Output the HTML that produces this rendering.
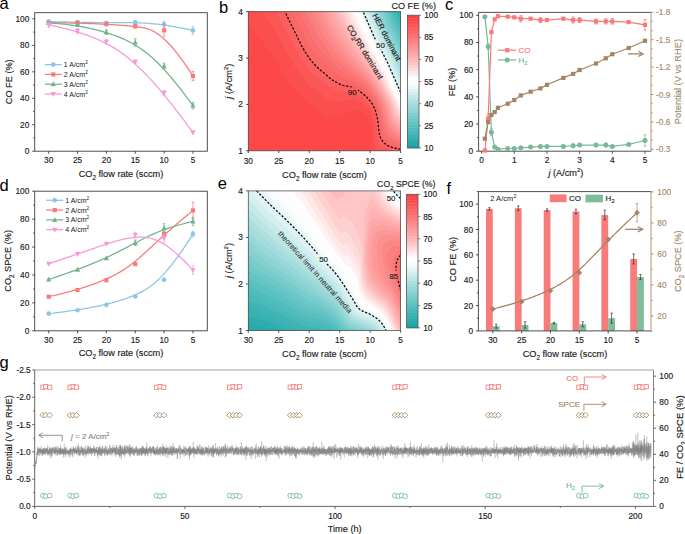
<!DOCTYPE html>
<html><head><meta charset="utf-8"><style>
html,body{margin:0;padding:0;background:#fff;overflow:hidden;}
svg{display:block;font-family:"Liberation Sans", sans-serif;}
text{stroke-width:0.15px;}
</style></head><body>
<svg width="685" height="534" viewBox="0 0 685 534" font-family='"Liberation Sans", sans-serif'>
<defs><clipPath id="cb"><rect x="248.3" y="11.7" width="152.3" height="139.1"/></clipPath><mask id="mcb" maskUnits="userSpaceOnUse" x="0" y="0" width="685" height="534"><rect width="685" height="534" fill="#fff"/><rect x="346.5" y="87.5" width="11.5" height="9" fill="#000"/><rect x="374.5" y="39.5" width="10.5" height="10" fill="#000"/></mask><clipPath id="ce"><rect x="248.3" y="190.9" width="152.3" height="139.6"/></clipPath><mask id="mce" maskUnits="userSpaceOnUse" x="0" y="0" width="685" height="534"><rect width="685" height="534" fill="#fff"/><rect x="317.5" y="253" width="12" height="10" fill="#000"/><rect x="386" y="193.5" width="10" height="8" fill="#000"/><rect x="388.5" y="270.5" width="10.5" height="9" fill="#000"/></mask></defs>
<rect width="685" height="534" fill="#fff"/>
<rect x="34.7" y="12.7" width="172.6" height="138.5" fill="none" stroke="#3c3c3c" stroke-width="0.9"/>
<line x1="32.2" y1="151.2" x2="34.7" y2="151.2" stroke="#3c3c3c" stroke-width="0.9"/>
<text x="29.3" y="154.2" font-size="8.3" text-anchor="end" fill="#222" stroke="#222">0</text>
<line x1="32.2" y1="124.74" x2="34.7" y2="124.74" stroke="#3c3c3c" stroke-width="0.9"/>
<text x="29.3" y="127.74" font-size="8.3" text-anchor="end" fill="#222" stroke="#222">20</text>
<line x1="32.2" y1="98.28" x2="34.7" y2="98.28" stroke="#3c3c3c" stroke-width="0.9"/>
<text x="29.3" y="101.28" font-size="8.3" text-anchor="end" fill="#222" stroke="#222">40</text>
<line x1="32.2" y1="71.82" x2="34.7" y2="71.82" stroke="#3c3c3c" stroke-width="0.9"/>
<text x="29.3" y="74.82" font-size="8.3" text-anchor="end" fill="#222" stroke="#222">60</text>
<line x1="32.2" y1="45.36" x2="34.7" y2="45.36" stroke="#3c3c3c" stroke-width="0.9"/>
<text x="29.3" y="48.36" font-size="8.3" text-anchor="end" fill="#222" stroke="#222">80</text>
<line x1="32.2" y1="18.9" x2="34.7" y2="18.9" stroke="#3c3c3c" stroke-width="0.9"/>
<text x="29.3" y="21.9" font-size="8.3" text-anchor="end" fill="#222" stroke="#222">100</text>
<line x1="33.2" y1="137.97" x2="34.7" y2="137.97" stroke="#3c3c3c" stroke-width="0.9"/>
<line x1="33.2" y1="111.51" x2="34.7" y2="111.51" stroke="#3c3c3c" stroke-width="0.9"/>
<line x1="33.2" y1="85.05" x2="34.7" y2="85.05" stroke="#3c3c3c" stroke-width="0.9"/>
<line x1="33.2" y1="58.59" x2="34.7" y2="58.59" stroke="#3c3c3c" stroke-width="0.9"/>
<line x1="33.2" y1="32.13" x2="34.7" y2="32.13" stroke="#3c3c3c" stroke-width="0.9"/>
<line x1="48.7" y1="151.2" x2="48.7" y2="153.7" stroke="#3c3c3c" stroke-width="0.9"/>
<text x="48.7" y="163.1" font-size="8.3" text-anchor="middle" fill="#222" stroke="#222">30</text>
<line x1="77.55" y1="151.2" x2="77.55" y2="153.7" stroke="#3c3c3c" stroke-width="0.9"/>
<text x="77.55" y="163.1" font-size="8.3" text-anchor="middle" fill="#222" stroke="#222">25</text>
<line x1="106.4" y1="151.2" x2="106.4" y2="153.7" stroke="#3c3c3c" stroke-width="0.9"/>
<text x="106.4" y="163.1" font-size="8.3" text-anchor="middle" fill="#222" stroke="#222">20</text>
<line x1="135.25" y1="151.2" x2="135.25" y2="153.7" stroke="#3c3c3c" stroke-width="0.9"/>
<text x="135.25" y="163.1" font-size="8.3" text-anchor="middle" fill="#222" stroke="#222">15</text>
<line x1="164.1" y1="151.2" x2="164.1" y2="153.7" stroke="#3c3c3c" stroke-width="0.9"/>
<text x="164.1" y="163.1" font-size="8.3" text-anchor="middle" fill="#222" stroke="#222">10</text>
<line x1="192.95" y1="151.2" x2="192.95" y2="153.7" stroke="#3c3c3c" stroke-width="0.9"/>
<text x="192.95" y="163.1" font-size="8.3" text-anchor="middle" fill="#222" stroke="#222">5</text>
<path d="M48.7 21.55 L51.92 21.62 L55.03 21.69 L58.02 21.76 L60.89 21.82 L63.66 21.89 L66.32 21.95 L68.87 22 L71.34 22.06 L73.71 22.11 L75.98 22.16 L78.18 22.21 L80.29 22.25 L82.33 22.29 L84.29 22.33 L86.18 22.36 L88.01 22.4 L89.77 22.43 L91.48 22.46 L93.13 22.48 L94.74 22.51 L96.3 22.53 L97.81 22.54 L99.29 22.56 L100.74 22.57 L102.15 22.58 L103.54 22.59 L104.9 22.6 L106.25 22.6 L107.58 22.6 L108.89 22.6 L110.19 22.6 L111.47 22.6 L112.74 22.6 L114 22.59 L115.25 22.59 L116.5 22.59 L117.74 22.58 L118.98 22.58 L120.21 22.58 L121.44 22.58 L122.67 22.58 L123.91 22.58 L125.15 22.59 L126.4 22.6 L127.65 22.61 L128.91 22.62 L130.18 22.64 L131.46 22.66 L132.76 22.69 L134.07 22.71 L135.4 22.75 L136.75 22.79 L138.11 22.83 L139.5 22.88 L140.91 22.93 L142.36 23 L143.84 23.07 L145.35 23.16 L146.91 23.26 L148.52 23.38 L150.17 23.51 L151.88 23.66 L153.64 23.83 L155.47 24.02 L157.36 24.23 L159.32 24.47 L161.36 24.73 L163.47 25.02 L165.67 25.33 L167.94 25.68 L170.31 26.06 L172.78 26.47 L175.33 26.92 L177.99 27.4 L180.76 27.92 L183.63 28.48 L186.62 29.08 L189.73 29.72 L192.95 30.41" fill="none" stroke="#8cc6e6" stroke-width="1.25" stroke-linejoin="round"/>
<line x1="48.7" y1="19.96" x2="48.7" y2="23.13" stroke="#8cc6e6" stroke-width="0.75"/>
<line x1="47.3" y1="19.96" x2="50.1" y2="19.96" stroke="#8cc6e6" stroke-width="0.75"/>
<line x1="47.3" y1="23.13" x2="50.1" y2="23.13" stroke="#8cc6e6" stroke-width="0.75"/>
<circle cx="48.7" cy="21.55" r="2.3" fill="#8cc6e6"/>
<line x1="77.55" y1="20.62" x2="77.55" y2="23.8" stroke="#8cc6e6" stroke-width="0.75"/>
<line x1="76.15" y1="20.62" x2="78.95" y2="20.62" stroke="#8cc6e6" stroke-width="0.75"/>
<line x1="76.15" y1="23.8" x2="78.95" y2="23.8" stroke="#8cc6e6" stroke-width="0.75"/>
<circle cx="77.55" cy="22.21" r="2.3" fill="#8cc6e6"/>
<line x1="106.4" y1="21.55" x2="106.4" y2="24.19" stroke="#8cc6e6" stroke-width="0.75"/>
<line x1="105" y1="21.55" x2="107.8" y2="21.55" stroke="#8cc6e6" stroke-width="0.75"/>
<line x1="105" y1="24.19" x2="107.8" y2="24.19" stroke="#8cc6e6" stroke-width="0.75"/>
<circle cx="106.4" cy="22.87" r="2.3" fill="#8cc6e6"/>
<line x1="135.25" y1="20.62" x2="135.25" y2="23.8" stroke="#8cc6e6" stroke-width="0.75"/>
<line x1="133.85" y1="20.62" x2="136.65" y2="20.62" stroke="#8cc6e6" stroke-width="0.75"/>
<line x1="133.85" y1="23.8" x2="136.65" y2="23.8" stroke="#8cc6e6" stroke-width="0.75"/>
<circle cx="135.25" cy="22.21" r="2.3" fill="#8cc6e6"/>
<line x1="164.1" y1="21.28" x2="164.1" y2="27.1" stroke="#8cc6e6" stroke-width="0.75"/>
<line x1="162.7" y1="21.28" x2="165.5" y2="21.28" stroke="#8cc6e6" stroke-width="0.75"/>
<line x1="162.7" y1="27.1" x2="165.5" y2="27.1" stroke="#8cc6e6" stroke-width="0.75"/>
<circle cx="164.1" cy="24.19" r="2.3" fill="#8cc6e6"/>
<line x1="192.95" y1="26.44" x2="192.95" y2="34.38" stroke="#8cc6e6" stroke-width="0.75"/>
<line x1="191.55" y1="26.44" x2="194.35" y2="26.44" stroke="#8cc6e6" stroke-width="0.75"/>
<line x1="191.55" y1="34.38" x2="194.35" y2="34.38" stroke="#8cc6e6" stroke-width="0.75"/>
<circle cx="192.95" cy="30.41" r="2.3" fill="#8cc6e6"/>
<path d="M48.7 22.87 L51.92 22.87 L55.03 22.88 L58.02 22.89 L60.89 22.91 L63.66 22.94 L66.32 22.96 L68.87 23 L71.34 23.03 L73.71 23.07 L75.98 23.12 L78.18 23.17 L80.29 23.22 L82.33 23.27 L84.29 23.33 L86.18 23.39 L88.01 23.45 L89.77 23.52 L91.48 23.58 L93.13 23.65 L94.74 23.72 L96.3 23.8 L97.81 23.87 L99.29 23.94 L100.74 24.02 L102.15 24.09 L103.54 24.17 L104.9 24.24 L106.25 24.32 L107.58 24.39 L108.89 24.47 L110.19 24.55 L111.47 24.63 L112.74 24.71 L114 24.79 L115.25 24.87 L116.5 24.95 L117.74 25.04 L118.98 25.13 L120.21 25.22 L121.44 25.32 L122.67 25.42 L123.91 25.52 L125.15 25.62 L126.4 25.73 L127.65 25.85 L128.91 25.96 L130.18 26.09 L131.46 26.21 L132.76 26.34 L134.07 26.48 L135.4 26.62 L136.75 26.77 L138.11 26.92 L139.5 27.09 L140.91 27.28 L142.36 27.51 L143.84 27.79 L145.35 28.14 L146.91 28.57 L148.52 29.09 L150.17 29.73 L151.88 30.49 L153.64 31.39 L155.47 32.44 L157.36 33.65 L159.32 35.05 L161.36 36.64 L163.47 38.44 L165.67 40.46 L167.94 42.72 L170.31 45.23 L172.78 48.01 L175.33 51.06 L177.99 54.41 L180.76 58.07 L183.63 62.05 L186.62 66.36 L189.73 71.03 L192.95 76.05" fill="none" stroke="#f87a7a" stroke-width="1.25" stroke-linejoin="round"/>
<line x1="48.7" y1="21.55" x2="48.7" y2="24.19" stroke="#f87a7a" stroke-width="0.75"/>
<line x1="47.3" y1="21.55" x2="50.1" y2="21.55" stroke="#f87a7a" stroke-width="0.75"/>
<line x1="47.3" y1="24.19" x2="50.1" y2="24.19" stroke="#f87a7a" stroke-width="0.75"/>
<rect x="46.6" y="20.77" width="4.2" height="4.2" fill="#f87a7a"/>
<line x1="77.55" y1="21.28" x2="77.55" y2="24.46" stroke="#f87a7a" stroke-width="0.75"/>
<line x1="76.15" y1="21.28" x2="78.95" y2="21.28" stroke="#f87a7a" stroke-width="0.75"/>
<line x1="76.15" y1="24.46" x2="78.95" y2="24.46" stroke="#f87a7a" stroke-width="0.75"/>
<rect x="75.45" y="20.77" width="4.2" height="4.2" fill="#f87a7a"/>
<line x1="106.4" y1="22.87" x2="106.4" y2="25.51" stroke="#f87a7a" stroke-width="0.75"/>
<line x1="105" y1="22.87" x2="107.8" y2="22.87" stroke="#f87a7a" stroke-width="0.75"/>
<line x1="105" y1="25.51" x2="107.8" y2="25.51" stroke="#f87a7a" stroke-width="0.75"/>
<rect x="104.3" y="22.09" width="4.2" height="4.2" fill="#f87a7a"/>
<line x1="135.25" y1="24.19" x2="135.25" y2="28.16" stroke="#f87a7a" stroke-width="0.75"/>
<line x1="133.85" y1="24.19" x2="136.65" y2="24.19" stroke="#f87a7a" stroke-width="0.75"/>
<line x1="133.85" y1="28.16" x2="136.65" y2="28.16" stroke="#f87a7a" stroke-width="0.75"/>
<rect x="133.15" y="24.08" width="4.2" height="4.2" fill="#f87a7a"/>
<line x1="164.1" y1="24.32" x2="164.1" y2="36.23" stroke="#f87a7a" stroke-width="0.75"/>
<line x1="162.7" y1="24.32" x2="165.5" y2="24.32" stroke="#f87a7a" stroke-width="0.75"/>
<line x1="162.7" y1="36.23" x2="165.5" y2="36.23" stroke="#f87a7a" stroke-width="0.75"/>
<rect x="162" y="28.18" width="4.2" height="4.2" fill="#f87a7a"/>
<line x1="192.95" y1="71.42" x2="192.95" y2="80.68" stroke="#f87a7a" stroke-width="0.75"/>
<line x1="191.55" y1="71.42" x2="194.35" y2="71.42" stroke="#f87a7a" stroke-width="0.75"/>
<line x1="191.55" y1="80.68" x2="194.35" y2="80.68" stroke="#f87a7a" stroke-width="0.75"/>
<rect x="190.85" y="73.95" width="4.2" height="4.2" fill="#f87a7a"/>
<path d="M48.7 22.87 L51.92 23.1 L55.03 23.35 L58.02 23.61 L60.89 23.88 L63.66 24.17 L66.32 24.46 L68.87 24.77 L71.34 25.09 L73.71 25.41 L75.98 25.75 L78.18 26.09 L80.29 26.45 L82.33 26.81 L84.29 27.17 L86.18 27.55 L88.01 27.92 L89.77 28.31 L91.48 28.7 L93.13 29.09 L94.74 29.48 L96.3 29.88 L97.81 30.28 L99.29 30.69 L100.74 31.09 L102.15 31.49 L103.54 31.9 L104.9 32.3 L106.25 32.7 L107.58 33.11 L108.89 33.51 L110.19 33.93 L111.47 34.34 L112.74 34.77 L114 35.2 L115.25 35.65 L116.5 36.1 L117.74 36.57 L118.98 37.05 L120.21 37.55 L121.44 38.06 L122.67 38.59 L123.91 39.15 L125.15 39.72 L126.4 40.32 L127.65 40.94 L128.91 41.59 L130.18 42.26 L131.46 42.96 L132.76 43.69 L134.07 44.45 L135.4 45.25 L136.75 46.08 L138.11 46.94 L139.5 47.85 L140.91 48.8 L142.36 49.8 L143.84 50.87 L145.35 52 L146.91 53.22 L148.52 54.52 L150.17 55.91 L151.88 57.4 L153.64 59 L155.47 60.71 L157.36 62.55 L159.32 64.52 L161.36 66.63 L163.47 68.89 L165.67 71.29 L167.94 73.87 L170.31 76.61 L172.78 79.52 L175.33 82.63 L177.99 85.92 L180.76 89.42 L183.63 93.12 L186.62 97.04 L189.73 101.18 L192.95 105.56" fill="none" stroke="#72b38e" stroke-width="1.25" stroke-linejoin="round"/>
<line x1="48.7" y1="21.55" x2="48.7" y2="24.19" stroke="#72b38e" stroke-width="0.75"/>
<line x1="47.3" y1="21.55" x2="50.1" y2="21.55" stroke="#72b38e" stroke-width="0.75"/>
<line x1="47.3" y1="24.19" x2="50.1" y2="24.19" stroke="#72b38e" stroke-width="0.75"/>
<path d="M48.7 19.87 L51.29 24.9 L46.12 24.9Z" fill="#72b38e"/>
<line x1="77.55" y1="23.53" x2="77.55" y2="26.18" stroke="#72b38e" stroke-width="0.75"/>
<line x1="76.15" y1="23.53" x2="78.95" y2="23.53" stroke="#72b38e" stroke-width="0.75"/>
<line x1="76.15" y1="26.18" x2="78.95" y2="26.18" stroke="#72b38e" stroke-width="0.75"/>
<path d="M77.55 21.85 L80.13 26.88 L74.97 26.88Z" fill="#72b38e"/>
<line x1="106.4" y1="29.75" x2="106.4" y2="34.51" stroke="#72b38e" stroke-width="0.75"/>
<line x1="105" y1="29.75" x2="107.8" y2="29.75" stroke="#72b38e" stroke-width="0.75"/>
<line x1="105" y1="34.51" x2="107.8" y2="34.51" stroke="#72b38e" stroke-width="0.75"/>
<path d="M106.4 29.13 L108.98 34.16 L103.82 34.16Z" fill="#72b38e"/>
<line x1="135.25" y1="38.74" x2="135.25" y2="46.15" stroke="#72b38e" stroke-width="0.75"/>
<line x1="133.85" y1="38.74" x2="136.65" y2="38.74" stroke="#72b38e" stroke-width="0.75"/>
<line x1="133.85" y1="46.15" x2="136.65" y2="46.15" stroke="#72b38e" stroke-width="0.75"/>
<path d="M135.25 39.45 L137.84 44.48 L132.66 44.48Z" fill="#72b38e"/>
<line x1="164.1" y1="63.22" x2="164.1" y2="69.04" stroke="#72b38e" stroke-width="0.75"/>
<line x1="162.7" y1="63.22" x2="165.5" y2="63.22" stroke="#72b38e" stroke-width="0.75"/>
<line x1="162.7" y1="69.04" x2="165.5" y2="69.04" stroke="#72b38e" stroke-width="0.75"/>
<path d="M164.1 63.13 L166.69 68.16 L161.51 68.16Z" fill="#72b38e"/>
<line x1="192.95" y1="102.25" x2="192.95" y2="108.86" stroke="#72b38e" stroke-width="0.75"/>
<line x1="191.55" y1="102.25" x2="194.35" y2="102.25" stroke="#72b38e" stroke-width="0.75"/>
<line x1="191.55" y1="108.86" x2="194.35" y2="108.86" stroke="#72b38e" stroke-width="0.75"/>
<path d="M192.95 102.55 L195.53 107.58 L190.36 107.58Z" fill="#72b38e"/>
<path d="M48.7 24.72 L51.92 25.44 L55.03 26.15 L58.02 26.85 L60.89 27.55 L63.66 28.24 L66.32 28.92 L68.87 29.59 L71.34 30.27 L73.71 30.93 L75.98 31.59 L78.18 32.25 L80.29 32.91 L82.33 33.56 L84.29 34.22 L86.18 34.87 L88.01 35.52 L89.77 36.17 L91.48 36.82 L93.13 37.48 L94.74 38.13 L96.3 38.79 L97.81 39.45 L99.29 40.11 L100.74 40.78 L102.15 41.46 L103.54 42.13 L104.9 42.82 L106.25 43.51 L107.58 44.21 L108.89 44.92 L110.19 45.64 L111.47 46.37 L112.74 47.11 L114 47.87 L115.25 48.65 L116.5 49.44 L117.74 50.25 L118.98 51.08 L120.21 51.93 L121.44 52.8 L122.67 53.69 L123.91 54.61 L125.15 55.56 L126.4 56.53 L127.65 57.53 L128.91 58.55 L130.18 59.61 L131.46 60.7 L132.76 61.83 L134.07 62.99 L135.4 64.18 L136.75 65.41 L138.11 66.68 L139.5 67.99 L140.91 69.35 L142.36 70.76 L143.84 72.23 L145.35 73.76 L146.91 75.37 L148.52 77.06 L150.17 78.83 L151.88 80.69 L153.64 82.65 L155.47 84.72 L157.36 86.89 L159.32 89.18 L161.36 91.6 L163.47 94.14 L165.67 96.82 L167.94 99.64 L170.31 102.6 L172.78 105.73 L175.33 109.01 L177.99 112.45 L180.76 116.08 L183.63 119.88 L186.62 123.86 L189.73 128.04 L192.95 132.41" fill="none" stroke="#f59ad6" stroke-width="1.25" stroke-linejoin="round"/>
<line x1="48.7" y1="22.08" x2="48.7" y2="27.37" stroke="#f59ad6" stroke-width="0.75"/>
<line x1="47.3" y1="22.08" x2="50.1" y2="22.08" stroke="#f59ad6" stroke-width="0.75"/>
<line x1="47.3" y1="27.37" x2="50.1" y2="27.37" stroke="#f59ad6" stroke-width="0.75"/>
<path d="M48.7 27.72 L51.29 22.69 L46.12 22.69Z" fill="#f59ad6"/>
<line x1="77.55" y1="28.43" x2="77.55" y2="33.72" stroke="#f59ad6" stroke-width="0.75"/>
<line x1="76.15" y1="28.43" x2="78.95" y2="28.43" stroke="#f59ad6" stroke-width="0.75"/>
<line x1="76.15" y1="33.72" x2="78.95" y2="33.72" stroke="#f59ad6" stroke-width="0.75"/>
<path d="M77.55 34.07 L80.13 29.04 L74.97 29.04Z" fill="#f59ad6"/>
<line x1="106.4" y1="39.27" x2="106.4" y2="44.04" stroke="#f59ad6" stroke-width="0.75"/>
<line x1="105" y1="39.27" x2="107.8" y2="39.27" stroke="#f59ad6" stroke-width="0.75"/>
<line x1="105" y1="44.04" x2="107.8" y2="44.04" stroke="#f59ad6" stroke-width="0.75"/>
<path d="M106.4 44.66 L108.98 39.63 L103.82 39.63Z" fill="#f59ad6"/>
<line x1="135.25" y1="60.18" x2="135.25" y2="63.35" stroke="#f59ad6" stroke-width="0.75"/>
<line x1="133.85" y1="60.18" x2="136.65" y2="60.18" stroke="#f59ad6" stroke-width="0.75"/>
<line x1="133.85" y1="63.35" x2="136.65" y2="63.35" stroke="#f59ad6" stroke-width="0.75"/>
<path d="M135.25 64.77 L137.84 59.74 L132.66 59.74Z" fill="#f59ad6"/>
<line x1="164.1" y1="90.47" x2="164.1" y2="95.77" stroke="#f59ad6" stroke-width="0.75"/>
<line x1="162.7" y1="90.47" x2="165.5" y2="90.47" stroke="#f59ad6" stroke-width="0.75"/>
<line x1="162.7" y1="95.77" x2="165.5" y2="95.77" stroke="#f59ad6" stroke-width="0.75"/>
<path d="M164.1 96.12 L166.69 91.09 L161.51 91.09Z" fill="#f59ad6"/>
<line x1="192.95" y1="131.09" x2="192.95" y2="133.74" stroke="#f59ad6" stroke-width="0.75"/>
<line x1="191.55" y1="131.09" x2="194.35" y2="131.09" stroke="#f59ad6" stroke-width="0.75"/>
<line x1="191.55" y1="133.74" x2="194.35" y2="133.74" stroke="#f59ad6" stroke-width="0.75"/>
<path d="M192.95 135.42 L195.53 130.39 L190.36 130.39Z" fill="#f59ad6"/>
<line x1="44.8" y1="64.6" x2="61.8" y2="64.6" stroke="#8cc6e6" stroke-width="1.25"/>
<circle cx="53.3" cy="64.6" r="2.3" fill="#8cc6e6"/>
<text x="63.8" y="67.1" font-size="7" fill="#1a1a1a">1 A/cm<tspan font-size="4.8" dy="-3">2</tspan></text>
<line x1="44.8" y1="74.4" x2="61.8" y2="74.4" stroke="#f87a7a" stroke-width="1.25"/>
<rect x="51.2" y="72.3" width="4.2" height="4.2" fill="#f87a7a"/>
<text x="63.8" y="76.9" font-size="7" fill="#1a1a1a">2 A/cm<tspan font-size="4.8" dy="-3">2</tspan></text>
<line x1="44.8" y1="84.2" x2="61.8" y2="84.2" stroke="#72b38e" stroke-width="1.25"/>
<path d="M53.3 81.2 L55.88 86.23 L50.71 86.23Z" fill="#72b38e"/>
<text x="63.8" y="86.7" font-size="7" fill="#1a1a1a">3 A/cm<tspan font-size="4.8" dy="-3">2</tspan></text>
<line x1="44.8" y1="94" x2="61.8" y2="94" stroke="#f59ad6" stroke-width="1.25"/>
<path d="M53.3 97 L55.88 91.97 L50.71 91.97Z" fill="#f59ad6"/>
<text x="63.8" y="96.5" font-size="7" fill="#1a1a1a">4 A/cm<tspan font-size="4.8" dy="-3">2</tspan></text>
<text x="11.9" y="81.8" font-size="9.2" text-anchor="middle" fill="#1a1a1a" transform="rotate(-90 11.9 81.8)" stroke="#1a1a1a">CO FE (%)</text>
<text x="121" y="177.2" font-size="9.2" text-anchor="middle" fill="#1a1a1a" stroke="#1a1a1a">CO<tspan font-size="6.3" dy="2.9">2</tspan><tspan dy="-2.9"> flow rate (sccm)</tspan></text>
<text x="-0.4" y="9" font-size="16.5" fill="#000" stroke="none">a</text>
<rect x="34.7" y="191.2" width="172.6" height="139.6" fill="none" stroke="#3c3c3c" stroke-width="0.9"/>
<line x1="32.2" y1="330.8" x2="34.7" y2="330.8" stroke="#3c3c3c" stroke-width="0.9"/>
<text x="29.3" y="333.8" font-size="8.3" text-anchor="end" fill="#222" stroke="#222">0</text>
<line x1="32.2" y1="302.88" x2="34.7" y2="302.88" stroke="#3c3c3c" stroke-width="0.9"/>
<text x="29.3" y="305.88" font-size="8.3" text-anchor="end" fill="#222" stroke="#222">20</text>
<line x1="32.2" y1="274.96" x2="34.7" y2="274.96" stroke="#3c3c3c" stroke-width="0.9"/>
<text x="29.3" y="277.96" font-size="8.3" text-anchor="end" fill="#222" stroke="#222">40</text>
<line x1="32.2" y1="247.04" x2="34.7" y2="247.04" stroke="#3c3c3c" stroke-width="0.9"/>
<text x="29.3" y="250.04" font-size="8.3" text-anchor="end" fill="#222" stroke="#222">60</text>
<line x1="32.2" y1="219.12" x2="34.7" y2="219.12" stroke="#3c3c3c" stroke-width="0.9"/>
<text x="29.3" y="222.12" font-size="8.3" text-anchor="end" fill="#222" stroke="#222">80</text>
<line x1="32.2" y1="191.2" x2="34.7" y2="191.2" stroke="#3c3c3c" stroke-width="0.9"/>
<text x="29.3" y="194.2" font-size="8.3" text-anchor="end" fill="#222" stroke="#222">100</text>
<line x1="33.2" y1="316.84" x2="34.7" y2="316.84" stroke="#3c3c3c" stroke-width="0.9"/>
<line x1="33.2" y1="288.92" x2="34.7" y2="288.92" stroke="#3c3c3c" stroke-width="0.9"/>
<line x1="33.2" y1="261" x2="34.7" y2="261" stroke="#3c3c3c" stroke-width="0.9"/>
<line x1="33.2" y1="233.08" x2="34.7" y2="233.08" stroke="#3c3c3c" stroke-width="0.9"/>
<line x1="33.2" y1="205.16" x2="34.7" y2="205.16" stroke="#3c3c3c" stroke-width="0.9"/>
<line x1="48.7" y1="330.8" x2="48.7" y2="333.3" stroke="#3c3c3c" stroke-width="0.9"/>
<text x="48.7" y="342.7" font-size="8.3" text-anchor="middle" fill="#222" stroke="#222">30</text>
<line x1="77.55" y1="330.8" x2="77.55" y2="333.3" stroke="#3c3c3c" stroke-width="0.9"/>
<text x="77.55" y="342.7" font-size="8.3" text-anchor="middle" fill="#222" stroke="#222">25</text>
<line x1="106.4" y1="330.8" x2="106.4" y2="333.3" stroke="#3c3c3c" stroke-width="0.9"/>
<text x="106.4" y="342.7" font-size="8.3" text-anchor="middle" fill="#222" stroke="#222">20</text>
<line x1="135.25" y1="330.8" x2="135.25" y2="333.3" stroke="#3c3c3c" stroke-width="0.9"/>
<text x="135.25" y="342.7" font-size="8.3" text-anchor="middle" fill="#222" stroke="#222">15</text>
<line x1="164.1" y1="330.8" x2="164.1" y2="333.3" stroke="#3c3c3c" stroke-width="0.9"/>
<text x="164.1" y="342.7" font-size="8.3" text-anchor="middle" fill="#222" stroke="#222">10</text>
<line x1="192.95" y1="330.8" x2="192.95" y2="333.3" stroke="#3c3c3c" stroke-width="0.9"/>
<text x="192.95" y="342.7" font-size="8.3" text-anchor="middle" fill="#222" stroke="#222">5</text>
<path d="M48.7 313.63 L51.92 313.25 L55.03 312.88 L58.02 312.51 L60.89 312.14 L63.66 311.78 L66.32 311.43 L68.87 311.08 L71.34 310.73 L73.71 310.39 L75.98 310.05 L78.18 309.71 L80.29 309.38 L82.33 309.05 L84.29 308.72 L86.18 308.39 L88.01 308.07 L89.77 307.75 L91.48 307.43 L93.13 307.11 L94.74 306.79 L96.3 306.48 L97.81 306.16 L99.29 305.85 L100.74 305.53 L102.15 305.22 L103.54 304.9 L104.9 304.59 L106.25 304.27 L107.58 303.96 L108.89 303.64 L110.19 303.32 L111.47 302.99 L112.74 302.65 L114 302.32 L115.25 301.97 L116.5 301.61 L117.74 301.25 L118.98 300.88 L120.21 300.49 L121.44 300.1 L122.67 299.69 L123.91 299.27 L125.15 298.83 L126.4 298.38 L127.65 297.91 L128.91 297.43 L130.18 296.93 L131.46 296.41 L132.76 295.87 L134.07 295.31 L135.4 294.72 L136.75 294.12 L138.11 293.49 L139.5 292.83 L140.91 292.14 L142.36 291.39 L143.84 290.58 L145.35 289.7 L146.91 288.74 L148.52 287.67 L150.17 286.5 L151.88 285.22 L153.64 283.8 L155.47 282.24 L157.36 280.52 L159.32 278.64 L161.36 276.59 L163.47 274.35 L165.67 271.91 L167.94 269.26 L170.31 266.38 L172.78 263.28 L175.33 259.93 L177.99 256.32 L180.76 252.45 L183.63 248.3 L186.62 243.86 L189.73 239.11 L192.95 234.06" fill="none" stroke="#8cc6e6" stroke-width="1.25" stroke-linejoin="round"/>
<line x1="48.7" y1="312.93" x2="48.7" y2="314.33" stroke="#8cc6e6" stroke-width="0.75"/>
<line x1="47.3" y1="312.93" x2="50.1" y2="312.93" stroke="#8cc6e6" stroke-width="0.75"/>
<line x1="47.3" y1="314.33" x2="50.1" y2="314.33" stroke="#8cc6e6" stroke-width="0.75"/>
<circle cx="48.7" cy="313.63" r="2.3" fill="#8cc6e6"/>
<line x1="77.55" y1="309.58" x2="77.55" y2="310.98" stroke="#8cc6e6" stroke-width="0.75"/>
<line x1="76.15" y1="309.58" x2="78.95" y2="309.58" stroke="#8cc6e6" stroke-width="0.75"/>
<line x1="76.15" y1="310.98" x2="78.95" y2="310.98" stroke="#8cc6e6" stroke-width="0.75"/>
<circle cx="77.55" cy="310.28" r="2.3" fill="#8cc6e6"/>
<line x1="106.4" y1="304.14" x2="106.4" y2="305.53" stroke="#8cc6e6" stroke-width="0.75"/>
<line x1="105" y1="304.14" x2="107.8" y2="304.14" stroke="#8cc6e6" stroke-width="0.75"/>
<line x1="105" y1="305.53" x2="107.8" y2="305.53" stroke="#8cc6e6" stroke-width="0.75"/>
<circle cx="106.4" cy="304.83" r="2.3" fill="#8cc6e6"/>
<line x1="135.25" y1="295.76" x2="135.25" y2="297.16" stroke="#8cc6e6" stroke-width="0.75"/>
<line x1="133.85" y1="295.76" x2="136.65" y2="295.76" stroke="#8cc6e6" stroke-width="0.75"/>
<line x1="133.85" y1="297.16" x2="136.65" y2="297.16" stroke="#8cc6e6" stroke-width="0.75"/>
<circle cx="135.25" cy="296.46" r="2.3" fill="#8cc6e6"/>
<line x1="164.1" y1="279.15" x2="164.1" y2="280.54" stroke="#8cc6e6" stroke-width="0.75"/>
<line x1="162.7" y1="279.15" x2="165.5" y2="279.15" stroke="#8cc6e6" stroke-width="0.75"/>
<line x1="162.7" y1="280.54" x2="165.5" y2="280.54" stroke="#8cc6e6" stroke-width="0.75"/>
<circle cx="164.1" cy="279.85" r="2.3" fill="#8cc6e6"/>
<line x1="192.95" y1="231.27" x2="192.95" y2="236.85" stroke="#8cc6e6" stroke-width="0.75"/>
<line x1="191.55" y1="231.27" x2="194.35" y2="231.27" stroke="#8cc6e6" stroke-width="0.75"/>
<line x1="191.55" y1="236.85" x2="194.35" y2="236.85" stroke="#8cc6e6" stroke-width="0.75"/>
<circle cx="192.95" cy="234.06" r="2.3" fill="#8cc6e6"/>
<path d="M48.7 296.74 L51.92 295.98 L55.03 295.24 L58.02 294.52 L60.89 293.8 L63.66 293.1 L66.32 292.42 L68.87 291.74 L71.34 291.07 L73.71 290.42 L75.98 289.78 L78.18 289.14 L80.29 288.51 L82.33 287.89 L84.29 287.28 L86.18 286.67 L88.01 286.07 L89.77 285.47 L91.48 284.88 L93.13 284.29 L94.74 283.7 L96.3 283.12 L97.81 282.54 L99.29 281.95 L100.74 281.37 L102.15 280.79 L103.54 280.2 L104.9 279.62 L106.25 279.03 L107.58 278.43 L108.89 277.83 L110.19 277.23 L111.47 276.61 L112.74 275.98 L114 275.34 L115.25 274.69 L116.5 274.02 L117.74 273.33 L118.98 272.63 L120.21 271.9 L121.44 271.16 L122.67 270.39 L123.91 269.6 L125.15 268.78 L126.4 267.94 L127.65 267.07 L128.91 266.17 L130.18 265.23 L131.46 264.26 L132.76 263.26 L134.07 262.22 L135.4 261.15 L136.75 260.03 L138.11 258.88 L139.5 257.68 L140.91 256.44 L142.36 255.15 L143.84 253.82 L145.35 252.45 L146.91 251.02 L148.52 249.54 L150.17 248.02 L151.88 246.44 L153.64 244.81 L155.47 243.12 L157.36 241.38 L159.32 239.58 L161.36 237.73 L163.47 235.81 L165.67 233.84 L167.94 231.8 L170.31 229.7 L172.78 227.53 L175.33 225.3 L177.99 223 L180.76 220.63 L183.63 218.2 L186.62 215.69 L189.73 213.12 L192.95 210.46" fill="none" stroke="#f87a7a" stroke-width="1.25" stroke-linejoin="round"/>
<line x1="48.7" y1="296.04" x2="48.7" y2="297.44" stroke="#f87a7a" stroke-width="0.75"/>
<line x1="47.3" y1="296.04" x2="50.1" y2="296.04" stroke="#f87a7a" stroke-width="0.75"/>
<line x1="47.3" y1="297.44" x2="50.1" y2="297.44" stroke="#f87a7a" stroke-width="0.75"/>
<rect x="46.6" y="294.64" width="4.2" height="4.2" fill="#f87a7a"/>
<line x1="77.55" y1="289.34" x2="77.55" y2="290.73" stroke="#f87a7a" stroke-width="0.75"/>
<line x1="76.15" y1="289.34" x2="78.95" y2="289.34" stroke="#f87a7a" stroke-width="0.75"/>
<line x1="76.15" y1="290.73" x2="78.95" y2="290.73" stroke="#f87a7a" stroke-width="0.75"/>
<rect x="75.45" y="287.94" width="4.2" height="4.2" fill="#f87a7a"/>
<line x1="106.4" y1="279.57" x2="106.4" y2="280.96" stroke="#f87a7a" stroke-width="0.75"/>
<line x1="105" y1="279.57" x2="107.8" y2="279.57" stroke="#f87a7a" stroke-width="0.75"/>
<line x1="105" y1="280.96" x2="107.8" y2="280.96" stroke="#f87a7a" stroke-width="0.75"/>
<rect x="104.3" y="278.16" width="4.2" height="4.2" fill="#f87a7a"/>
<line x1="135.25" y1="262.68" x2="135.25" y2="265.47" stroke="#f87a7a" stroke-width="0.75"/>
<line x1="133.85" y1="262.68" x2="136.65" y2="262.68" stroke="#f87a7a" stroke-width="0.75"/>
<line x1="133.85" y1="265.47" x2="136.65" y2="265.47" stroke="#f87a7a" stroke-width="0.75"/>
<rect x="133.15" y="261.97" width="4.2" height="4.2" fill="#f87a7a"/>
<line x1="164.1" y1="231.27" x2="164.1" y2="236.85" stroke="#f87a7a" stroke-width="0.75"/>
<line x1="162.7" y1="231.27" x2="165.5" y2="231.27" stroke="#f87a7a" stroke-width="0.75"/>
<line x1="162.7" y1="236.85" x2="165.5" y2="236.85" stroke="#f87a7a" stroke-width="0.75"/>
<rect x="162" y="231.96" width="4.2" height="4.2" fill="#f87a7a"/>
<line x1="192.95" y1="202.09" x2="192.95" y2="218.84" stroke="#f87a7a" stroke-width="0.75"/>
<line x1="191.55" y1="202.09" x2="194.35" y2="202.09" stroke="#f87a7a" stroke-width="0.75"/>
<line x1="191.55" y1="218.84" x2="194.35" y2="218.84" stroke="#f87a7a" stroke-width="0.75"/>
<rect x="190.85" y="208.36" width="4.2" height="4.2" fill="#f87a7a"/>
<path d="M48.7 279.57 L51.92 278.47 L55.03 277.41 L58.02 276.38 L60.89 275.38 L63.66 274.41 L66.32 273.47 L68.87 272.56 L71.34 271.68 L73.71 270.82 L75.98 269.98 L78.18 269.17 L80.29 268.37 L82.33 267.6 L84.29 266.85 L86.18 266.11 L88.01 265.39 L89.77 264.69 L91.48 264 L93.13 263.32 L94.74 262.66 L96.3 262 L97.81 261.35 L99.29 260.72 L100.74 260.08 L102.15 259.46 L103.54 258.83 L104.9 258.21 L106.25 257.6 L107.58 256.98 L108.89 256.36 L110.19 255.75 L111.47 255.14 L112.74 254.52 L114 253.91 L115.25 253.29 L116.5 252.67 L117.74 252.05 L118.98 251.43 L120.21 250.8 L121.44 250.18 L122.67 249.54 L123.91 248.9 L125.15 248.26 L126.4 247.61 L127.65 246.96 L128.91 246.3 L130.18 245.63 L131.46 244.96 L132.76 244.28 L134.07 243.59 L135.4 242.89 L136.75 242.18 L138.11 241.46 L139.5 240.73 L140.91 240 L142.36 239.25 L143.84 238.5 L145.35 237.74 L146.91 236.97 L148.52 236.2 L150.17 235.43 L151.88 234.65 L153.64 233.86 L155.47 233.08 L157.36 232.29 L159.32 231.5 L161.36 230.72 L163.47 229.93 L165.67 229.14 L167.94 228.36 L170.31 227.57 L172.78 226.79 L175.33 226.02 L177.99 225.25 L180.76 224.48 L183.63 223.73 L186.62 222.97 L189.73 222.23 L192.95 221.49" fill="none" stroke="#72b38e" stroke-width="1.25" stroke-linejoin="round"/>
<line x1="48.7" y1="278.87" x2="48.7" y2="280.26" stroke="#72b38e" stroke-width="0.75"/>
<line x1="47.3" y1="278.87" x2="50.1" y2="278.87" stroke="#72b38e" stroke-width="0.75"/>
<line x1="47.3" y1="280.26" x2="50.1" y2="280.26" stroke="#72b38e" stroke-width="0.75"/>
<path d="M48.7 276.56 L51.29 281.59 L46.12 281.59Z" fill="#72b38e"/>
<line x1="77.55" y1="269.1" x2="77.55" y2="270.49" stroke="#72b38e" stroke-width="0.75"/>
<line x1="76.15" y1="269.1" x2="78.95" y2="269.1" stroke="#72b38e" stroke-width="0.75"/>
<line x1="76.15" y1="270.49" x2="78.95" y2="270.49" stroke="#72b38e" stroke-width="0.75"/>
<path d="M77.55 266.79 L80.13 271.82 L74.97 271.82Z" fill="#72b38e"/>
<line x1="106.4" y1="257.65" x2="106.4" y2="259.05" stroke="#72b38e" stroke-width="0.75"/>
<line x1="105" y1="257.65" x2="107.8" y2="257.65" stroke="#72b38e" stroke-width="0.75"/>
<line x1="105" y1="259.05" x2="107.8" y2="259.05" stroke="#72b38e" stroke-width="0.75"/>
<path d="M106.4 255.35 L108.98 260.37 L103.82 260.37Z" fill="#72b38e"/>
<line x1="135.25" y1="240.06" x2="135.25" y2="245.64" stroke="#72b38e" stroke-width="0.75"/>
<line x1="133.85" y1="240.06" x2="136.65" y2="240.06" stroke="#72b38e" stroke-width="0.75"/>
<line x1="133.85" y1="245.64" x2="136.65" y2="245.64" stroke="#72b38e" stroke-width="0.75"/>
<path d="M135.25 239.85 L137.84 244.88 L132.66 244.88Z" fill="#72b38e"/>
<line x1="164.1" y1="223.73" x2="164.1" y2="232.1" stroke="#72b38e" stroke-width="0.75"/>
<line x1="162.7" y1="223.73" x2="165.5" y2="223.73" stroke="#72b38e" stroke-width="0.75"/>
<line x1="162.7" y1="232.1" x2="165.5" y2="232.1" stroke="#72b38e" stroke-width="0.75"/>
<path d="M164.1 224.91 L166.69 229.94 L161.51 229.94Z" fill="#72b38e"/>
<line x1="192.95" y1="217.31" x2="192.95" y2="225.68" stroke="#72b38e" stroke-width="0.75"/>
<line x1="191.55" y1="217.31" x2="194.35" y2="217.31" stroke="#72b38e" stroke-width="0.75"/>
<line x1="191.55" y1="225.68" x2="194.35" y2="225.68" stroke="#72b38e" stroke-width="0.75"/>
<path d="M192.95 218.49 L195.53 223.52 L190.36 223.52Z" fill="#72b38e"/>
<path d="M48.7 263.79 L51.92 262.7 L55.03 261.64 L58.02 260.63 L60.89 259.65 L63.66 258.71 L66.32 257.8 L68.87 256.92 L71.34 256.08 L73.71 255.27 L75.98 254.49 L78.18 253.73 L80.29 253.01 L82.33 252.31 L84.29 251.63 L86.18 250.98 L88.01 250.35 L89.77 249.75 L91.48 249.16 L93.13 248.59 L94.74 248.04 L96.3 247.51 L97.81 247 L99.29 246.49 L100.74 246.01 L102.15 245.53 L103.54 245.06 L104.9 244.61 L106.25 244.16 L107.58 243.73 L108.89 243.3 L110.19 242.89 L111.47 242.48 L112.74 242.09 L114 241.71 L115.25 241.34 L116.5 240.99 L117.74 240.64 L118.98 240.31 L120.21 240 L121.44 239.7 L122.67 239.41 L123.91 239.14 L125.15 238.88 L126.4 238.64 L127.65 238.42 L128.91 238.21 L130.18 238.02 L131.46 237.84 L132.76 237.69 L134.07 237.55 L135.4 237.43 L136.75 237.33 L138.11 237.24 L139.5 237.18 L140.91 237.15 L142.36 237.17 L143.84 237.23 L145.35 237.35 L146.91 237.54 L148.52 237.81 L150.17 238.17 L151.88 238.62 L153.64 239.18 L155.47 239.86 L157.36 240.65 L159.32 241.59 L161.36 242.66 L163.47 243.89 L165.67 245.28 L167.94 246.83 L170.31 248.57 L172.78 250.5 L175.33 252.63 L177.99 254.96 L180.76 257.51 L183.63 260.29 L186.62 263.3 L189.73 266.56 L192.95 270.07" fill="none" stroke="#f59ad6" stroke-width="1.25" stroke-linejoin="round"/>
<line x1="48.7" y1="263.09" x2="48.7" y2="264.49" stroke="#f59ad6" stroke-width="0.75"/>
<line x1="47.3" y1="263.09" x2="50.1" y2="263.09" stroke="#f59ad6" stroke-width="0.75"/>
<line x1="47.3" y1="264.49" x2="50.1" y2="264.49" stroke="#f59ad6" stroke-width="0.75"/>
<path d="M48.7 266.79 L51.29 261.77 L46.12 261.77Z" fill="#f59ad6"/>
<line x1="77.55" y1="253.32" x2="77.55" y2="254.72" stroke="#f59ad6" stroke-width="0.75"/>
<line x1="76.15" y1="253.32" x2="78.95" y2="253.32" stroke="#f59ad6" stroke-width="0.75"/>
<line x1="76.15" y1="254.72" x2="78.95" y2="254.72" stroke="#f59ad6" stroke-width="0.75"/>
<path d="M77.55 257.02 L80.13 251.99 L74.97 251.99Z" fill="#f59ad6"/>
<line x1="106.4" y1="243.13" x2="106.4" y2="244.53" stroke="#f59ad6" stroke-width="0.75"/>
<line x1="105" y1="243.13" x2="107.8" y2="243.13" stroke="#f59ad6" stroke-width="0.75"/>
<line x1="105" y1="244.53" x2="107.8" y2="244.53" stroke="#f59ad6" stroke-width="0.75"/>
<path d="M106.4 246.83 L108.98 241.8 L103.82 241.8Z" fill="#f59ad6"/>
<line x1="135.25" y1="232.24" x2="135.25" y2="237.83" stroke="#f59ad6" stroke-width="0.75"/>
<line x1="133.85" y1="232.24" x2="136.65" y2="232.24" stroke="#f59ad6" stroke-width="0.75"/>
<line x1="133.85" y1="237.83" x2="136.65" y2="237.83" stroke="#f59ad6" stroke-width="0.75"/>
<path d="M135.25 238.04 L137.84 233.01 L132.66 233.01Z" fill="#f59ad6"/>
<line x1="164.1" y1="233.92" x2="164.1" y2="242.29" stroke="#f59ad6" stroke-width="0.75"/>
<line x1="162.7" y1="233.92" x2="165.5" y2="233.92" stroke="#f59ad6" stroke-width="0.75"/>
<line x1="162.7" y1="242.29" x2="165.5" y2="242.29" stroke="#f59ad6" stroke-width="0.75"/>
<path d="M164.1 241.11 L166.69 236.08 L161.51 236.08Z" fill="#f59ad6"/>
<line x1="192.95" y1="265.89" x2="192.95" y2="274.26" stroke="#f59ad6" stroke-width="0.75"/>
<line x1="191.55" y1="265.89" x2="194.35" y2="265.89" stroke="#f59ad6" stroke-width="0.75"/>
<line x1="191.55" y1="274.26" x2="194.35" y2="274.26" stroke="#f59ad6" stroke-width="0.75"/>
<path d="M192.95 273.08 L195.53 268.05 L190.36 268.05Z" fill="#f59ad6"/>
<line x1="46.2" y1="200.3" x2="63.2" y2="200.3" stroke="#8cc6e6" stroke-width="1.25"/>
<circle cx="54.7" cy="200.3" r="2.3" fill="#8cc6e6"/>
<text x="65.2" y="202.8" font-size="7" fill="#1a1a1a">1 A/cm<tspan font-size="4.8" dy="-3">2</tspan></text>
<line x1="46.2" y1="210.1" x2="63.2" y2="210.1" stroke="#f87a7a" stroke-width="1.25"/>
<rect x="52.6" y="208" width="4.2" height="4.2" fill="#f87a7a"/>
<text x="65.2" y="212.6" font-size="7" fill="#1a1a1a">2 A/cm<tspan font-size="4.8" dy="-3">2</tspan></text>
<line x1="46.2" y1="219.9" x2="63.2" y2="219.9" stroke="#72b38e" stroke-width="1.25"/>
<path d="M54.7 216.9 L57.29 221.93 L52.12 221.93Z" fill="#72b38e"/>
<text x="65.2" y="222.4" font-size="7" fill="#1a1a1a">3 A/cm<tspan font-size="4.8" dy="-3">2</tspan></text>
<line x1="46.2" y1="229.7" x2="63.2" y2="229.7" stroke="#f59ad6" stroke-width="1.25"/>
<path d="M54.7 232.7 L57.29 227.67 L52.12 227.67Z" fill="#f59ad6"/>
<text x="65.2" y="232.2" font-size="7" fill="#1a1a1a">4 A/cm<tspan font-size="4.8" dy="-3">2</tspan></text>
<text transform="translate(10.6 260.9) rotate(-90)" font-size="9.2" text-anchor="middle" fill="#1a1a1a" stroke="#1a1a1a">CO<tspan font-size="6.3" dy="2.9">2</tspan><tspan dy="-2.9"> SPCE (%)</tspan></text>
<text x="121" y="356.4" font-size="9.2" text-anchor="middle" fill="#1a1a1a" stroke="#1a1a1a">CO<tspan font-size="6.3" dy="2.9">2</tspan><tspan dy="-2.9"> flow rate (sccm)</tspan></text>
<text x="-0.4" y="191.1" font-size="16.5" fill="#000" stroke="none">d</text>
<g clip-path="url(#cb)">
<rect x="247.3" y="10.7" width="154.3" height="141.1" fill="#18a3a3" stroke="none" stroke-width="0"/>
<rect x="247.3" y="10.7" width="154.3" height="141.1" fill="#1ca5a5" stroke="none" stroke-width="0"/>
<rect x="247.3" y="10.7" width="154.3" height="141.1" fill="#25a9a9" stroke="none" stroke-width="0"/>
<rect x="247.3" y="10.7" width="154.3" height="141.1" fill="#2eadad" stroke="none" stroke-width="0"/>
<path d="M249.3 150.8 400.6 150.8 400.6 15.8 398.7 11.7 248.3 11.7 248.3 150.8 249.3 150.8" fill="#37b1b1" stroke="#37b1b1" stroke-width="0.5"/>
<path d="M249.3 150.8 400.6 150.8 400.6 20.3 396.7 11.7 248.3 11.7 248.3 150.8 249.3 150.8" fill="#40b4b4" stroke="#40b4b4" stroke-width="0.5"/>
<path d="M249.3 150.8 400.6 150.8 400.6 24.8 394.6 11.7 248.3 11.7 248.3 150.8 249.3 150.8" fill="#48b8b8" stroke="#48b8b8" stroke-width="0.5"/>
<path d="M249.3 150.8 400.6 150.8 400.6 29.3 395.2 17.7 392.6 11.7 248.3 11.7 248.3 150.8 249.3 150.8" fill="#51bcbc" stroke="#51bcbc" stroke-width="0.5"/>
<path d="M249.3 150.8 400.6 150.8 400.6 33.9 393.5 18.7 390.6 11.7 248.3 11.7 248.3 150.8 249.3 150.8" fill="#5ac0c0" stroke="#5ac0c0" stroke-width="0.5"/>
<path d="M249.3 150.8 400.6 150.8 400.6 38.4 392.3 20.7 388.6 11.7 248.3 11.7 248.3 150.8 249.3 150.8" fill="#64c4c4" stroke="#64c4c4" stroke-width="0.5"/>
<path d="M249.3 150.8 400.6 150.8 400.6 43.0 396.4 33.7 390.6 21.7 386.6 11.7 248.3 11.7 248.3 150.8 249.3 150.8" fill="#6fc8c8" stroke="#6fc8c8" stroke-width="0.5"/>
<path d="M249.3 150.8 400.6 150.8 400.6 47.6 395.5 36.2 389.4 23.6 384.6 11.7 248.3 11.7 248.3 150.8 249.3 150.8" fill="#79cccc" stroke="#79cccc" stroke-width="0.5"/>
<path d="M249.3 150.8 400.6 150.8 400.6 52.2 394.6 38.7 387.7 24.7 382.6 11.7 248.3 11.7 248.3 150.8 249.3 150.8" fill="#84d0d0" stroke="#84d0d0" stroke-width="0.5"/>
<path d="M249.3 150.8 400.6 150.8 400.6 56.9 394.4 42.7 386.3 26.2 380.5 11.7 248.3 11.7 248.3 150.8 249.3 150.8" fill="#8ed4d4" stroke="#8ed4d4" stroke-width="0.5"/>
<path d="M249.3 150.8 400.6 150.8 400.6 61.6 393.4 45.2 384.8 27.7 378.5 11.7 248.3 11.7 248.3 150.8 249.3 150.8" fill="#98d8d8" stroke="#98d8d8" stroke-width="0.5"/>
<path d="M249.3 150.8 400.6 150.8 400.6 66.3 397.0 57.7 392.6 47.7 383.2 28.9 376.4 11.7 248.3 11.7 248.3 150.8 249.3 150.8" fill="#a3dcdc" stroke="#a3dcdc" stroke-width="0.5"/>
<path d="M249.3 150.8 400.6 150.8 400.6 71.0 396.0 59.7 392.4 51.7 388.3 43.3 383.4 33.7 381.5 29.7 374.3 11.7 248.3 11.7 248.3 150.8 249.3 150.8" fill="#aee0e0" stroke="#aee0e0" stroke-width="0.5"/>
<path d="M249.3 150.8 400.6 150.8 400.6 75.5 394.9 61.7 391.7 54.7 386.9 44.7 382.2 35.8 380.3 31.7 377.3 24.7 372.2 11.7 248.3 11.7 248.3 150.8 249.3 150.8" fill="#bbe5e5" stroke="#bbe5e5" stroke-width="0.5"/>
<path d="M249.3 150.8 400.6 150.8 400.6 80.0 391.4 58.3 385.8 46.7 381.0 37.7 378.6 32.7 370.0 11.7 248.3 11.7 248.3 150.8 249.3 150.8" fill="#c8eaea" stroke="#c8eaea" stroke-width="0.5"/>
<path d="M249.3 150.8 400.6 150.8 400.6 84.2 390.1 59.7 385.3 49.8 379.3 38.7 376.9 33.7 367.8 11.7 248.3 11.7 248.3 150.8 249.3 150.8" fill="#d4efef" stroke="#d4efef" stroke-width="0.5"/>
<path d="M249.3 150.8 400.6 150.8 400.6 88.4 388.6 60.7 382.6 48.7 378.1 40.7 375.3 34.7 365.6 11.7 248.3 11.7 248.3 150.8 249.3 150.8" fill="#e1f3f3" stroke="#e1f3f3" stroke-width="0.5"/>
<path d="M249.3 150.8 400.6 150.8 400.6 92.3 387.1 61.7 381.2 50.1 376.5 41.7 374.0 36.7 363.2 11.7 248.3 11.7 248.3 150.8 249.3 150.8" fill="#edf8f8" stroke="#edf8f8" stroke-width="0.5"/>
<path d="M249.3 150.8 400.6 150.8 400.6 96.1 385.6 62.7 380.2 52.2 375.3 43.7 372.4 37.7 360.9 11.7 248.3 11.7 248.3 150.8 249.3 150.8" fill="#fafdfd" stroke="#fafdfd" stroke-width="0.5"/>
<path d="M249.3 150.8 400.6 150.8 400.6 99.7 385.1 65.7 381.2 58.0 374.8 46.7 372.2 41.7 358.4 11.7 248.3 11.7 248.3 150.8 249.3 150.8" fill="#fcfdfd" stroke="#fcfdfd" stroke-width="0.5"/>
<path d="M249.3 150.8 400.6 150.8 400.6 103.1 383.2 65.9 379.5 58.7 373.1 47.7 370.5 42.7 355.9 11.7 248.3 11.7 248.3 150.8 249.3 150.8" fill="#fffdfd" stroke="#fffdfd" stroke-width="0.5"/>
<path d="M249.3 150.8 400.6 150.8 400.6 106.4 395.5 96.0 382.2 67.7 378.1 60.0 372.1 49.7 369.4 44.7 353.3 11.7 248.3 11.7 248.3 150.8 249.3 150.8" fill="#fff2f2" stroke="#fff2f2" stroke-width="0.5"/>
<path d="M249.3 150.8 400.6 150.8 400.6 109.5 399.1 106.8 380.7 68.7 376.5 60.7 371.0 51.6 366.6 43.7 354.5 19.7 350.7 11.7 248.3 11.7 248.3 150.8 249.3 150.8" fill="#ffe7e7" stroke="#ffe7e7" stroke-width="0.5"/>
<path d="M249.3 150.8 400.6 150.8 400.6 112.5 398.4 108.8 395.3 101.8 379.1 69.4 375.0 62.0 368.8 51.7 364.3 43.7 352.8 21.7 347.9 11.7 248.3 11.7 248.3 150.8 249.3 150.8" fill="#ffdcdc" stroke="#ffdcdc" stroke-width="0.5"/>
<path d="M249.3 150.8 400.6 150.8 400.6 115.5 397.5 110.6 393.3 100.8 378.4 71.7 374.0 63.7 366.5 51.7 361.9 43.7 351.1 23.7 345.1 11.7 248.3 11.7 248.3 150.8 249.3 150.8" fill="#fed1d1" stroke="#fed1d1" stroke-width="0.5"/>
<path d="M249.3 150.8 400.6 150.8 400.6 118.3 398.6 115.6 396.5 112.1 395.5 109.9 393.7 104.8 391.4 99.8 377.7 73.7 372.0 63.8 365.3 53.7 359.3 43.7 349.8 26.7 342.1 11.7 248.3 11.7 248.3 150.8 249.3 150.8" fill="#fec6c6" stroke="#fec6c6" stroke-width="0.5"/>
<path d="M249.3 150.8 400.6 150.8 400.6 121.1 397.9 117.8 395.5 113.8 394.5 111.5 392.2 104.8 390.0 99.8 383.2 86.9 376.6 74.7 372.0 66.9 363.5 54.7 355.9 42.7 346.8 26.7 339.1 11.7 248.3 11.7 248.3 150.8 249.3 150.8" fill="#febbbb" stroke="#febbbb" stroke-width="0.5"/>
<path d="M249.3 150.8 400.6 150.8 400.6 123.8 397.5 120.4 394.6 115.8 393.3 112.8 390.7 104.8 388.5 99.8 385.3 93.4 376.1 76.7 371.0 68.5 362.1 56.7 353.0 42.7 348.8 35.7 343.7 26.7 339.3 18.7 335.8 11.7 248.3 11.7 248.3 150.8 249.3 150.8" fill="#feb2b2" stroke="#feb2b2" stroke-width="0.5"/>
<path d="M249.3 150.8 400.6 150.8 400.6 126.5 398.6 124.6 396.5 122.2 394.8 119.8 393.4 117.4 391.9 113.8 389.6 105.8 387.5 100.8 383.5 92.8 376.1 79.6 371.0 71.6 360.0 57.7 350.4 43.7 346.7 37.7 339.1 24.7 332.5 11.7 248.3 11.7 248.3 150.8 249.3 150.8" fill="#fda9a9" stroke="#fda9a9" stroke-width="0.5"/>
<path d="M249.3 150.8 400.6 150.8 400.6 129.1 397.9 126.8 396.0 124.8 393.8 121.8 392.4 119.5 390.9 115.8 389.3 109.8 388.1 105.8 386.5 101.8 384.1 96.8 377.1 84.2 372.0 76.0 367.9 70.6 357.7 58.7 351.0 49.7 347.0 43.7 336.5 26.7 333.3 20.7 328.9 11.7 248.3 11.7 248.3 150.8 249.3 150.8" fill="#fda1a1" stroke="#fda1a1" stroke-width="0.5"/>
<path d="M249.3 150.8 400.6 150.8 400.6 131.7 398.0 129.8 395.5 127.4 393.4 124.8 391.4 121.6 389.7 117.8 387.8 109.8 386.2 104.8 384.2 100.2 381.5 94.8 375.0 83.7 371.0 77.6 365.8 71.4 355.1 59.7 348.8 51.7 344.6 45.7 337.9 35.7 334.3 29.7 330.0 21.7 325.1 11.7 248.3 11.7 248.3 150.8 249.3 150.8" fill="#fc9898" stroke="#fc9898" stroke-width="0.5"/>
<path d="M249.3 150.8 400.6 150.8 400.6 134.2 397.5 132.2 394.8 129.8 392.4 127.1 390.3 123.8 389.3 121.8 388.3 119.1 386.5 110.8 385.0 105.8 382.4 99.8 379.1 93.6 374.0 85.1 369.9 79.4 364.8 73.5 355.1 63.7 350.5 58.7 344.8 51.7 338.2 42.7 333.6 35.7 329.5 28.7 325.3 20.7 321.0 11.7 248.3 11.7 248.3 150.8 249.3 150.8" fill="#fc9090" stroke="#fc9090" stroke-width="0.5"/>
<path d="M249.3 150.8 400.6 150.8 400.6 136.8 396.5 134.3 393.5 131.8 390.8 128.8 388.9 125.8 387.3 121.8 385.2 111.8 383.4 105.8 380.8 99.8 377.1 93.1 372.0 85.2 367.9 80.1 362.8 74.7 351.0 63.7 347.0 59.7 342.6 54.7 336.3 46.7 331.4 39.7 326.6 31.7 321.8 22.7 316.5 11.7 248.3 11.7 248.3 150.8 249.3 150.8" fill="#fb8787" stroke="#fb8787" stroke-width="0.5"/>
<path d="M249.3 150.8 400.6 150.8 400.6 139.3 396.5 137.2 393.1 134.8 390.1 131.8 388.7 129.8 387.5 127.8 386.3 125.1 385.6 122.8 383.7 112.8 382.0 106.8 380.9 103.8 379.1 100.0 375.0 93.0 371.0 87.1 365.8 81.1 358.7 74.3 342.9 60.7 338.1 55.7 333.1 49.7 327.4 41.7 322.5 33.7 317.1 23.7 311.5 11.7 248.3 11.7 248.3 150.8 249.3 150.8" fill="#fb7f7f" stroke="#fb7f7f" stroke-width="0.5"/>
<path d="M249.3 150.8 400.6 150.8 400.6 141.8 396.0 139.8 392.4 137.6 389.3 134.8 387.7 132.8 386.4 130.8 385.3 128.5 384.4 125.8 382.2 113.8 381.2 109.8 380.2 106.5 379.1 103.8 377.1 99.8 375.0 96.3 372.0 91.8 369.9 89.1 366.9 85.6 361.8 80.6 353.6 73.9 340.3 64.3 333.6 57.7 329.2 52.7 326.1 48.7 323.2 44.7 317.7 35.7 311.3 23.7 305.7 11.7 248.3 11.7 248.3 150.8 249.3 150.8" fill="#fa7676" stroke="#fa7676" stroke-width="0.5"/>
<path d="M249.3 150.8 400.6 150.8 400.6 144.3 395.5 142.5 391.4 140.2 389.4 138.7 387.4 136.8 385.1 133.8 384.1 131.8 383.0 128.8 382.4 125.8 380.7 114.8 379.7 110.8 378.3 106.8 377.1 103.8 374.9 99.8 372.0 95.3 368.9 91.4 365.8 88.1 362.8 85.2 356.6 80.2 350.5 76.2 341.3 71.4 336.6 67.7 326.3 57.7 321.2 51.7 316.4 44.7 310.0 33.7 306.6 27.1 299.4 11.7 248.3 11.7 248.3 150.8 249.3 150.8" fill="#fa6e6e" stroke="#fa6e6e" stroke-width="0.5"/>
<path d="M249.3 150.8 400.6 150.8 400.6 146.7 394.5 145.0 390.4 143.1 388.3 141.8 386.3 140.1 385.0 138.8 383.6 136.8 382.1 133.8 381.2 130.8 379.2 116.8 378.2 112.8 377.0 108.8 375.3 104.8 373.7 101.8 371.0 97.8 367.9 94.1 362.8 89.1 359.7 86.7 356.6 84.6 353.6 82.8 350.5 81.3 343.4 78.8 341.3 77.9 334.2 73.1 322.8 62.7 318.9 58.7 316.3 55.7 311.4 48.7 306.0 39.7 303.0 33.7 292.6 11.7 248.3 11.7 248.3 150.8 249.3 150.8" fill="#fb6767" stroke="#fb6767" stroke-width="0.5"/>
<path d="M249.3 150.8 400.6 150.8 400.6 149.2 393.4 147.7 390.5 146.8 388.3 145.8 386.3 144.6 384.2 143.0 383.1 141.8 381.6 139.8 380.5 137.8 379.5 134.8 379.0 131.8 378.1 122.9 377.5 118.8 376.3 113.8 375.1 109.8 373.8 106.8 372.0 103.5 368.9 99.5 365.8 96.2 363.8 94.4 360.7 92.0 355.6 88.9 350.5 86.9 343.4 85.4 341.3 84.8 337.2 82.8 332.1 79.8 329.4 77.7 326.0 74.6 318.8 68.7 315.7 65.7 312.1 61.7 309.6 58.6 306.9 54.7 302.1 46.7 285.0 11.7 248.3 11.7 248.3 150.8 249.3 150.8" fill="#fb5f5f" stroke="#fb5f5f" stroke-width="0.5"/>
<path d="M249.3 150.8 392.7 150.8 388.1 149.8 384.2 148.2 382.3 146.8 381.2 145.8 380.2 144.6 379.0 142.8 378.1 140.8 377.3 137.8 376.0 123.8 375.2 118.8 374.0 114.3 372.7 110.8 371.0 107.3 368.9 104.5 365.8 101.2 363.8 99.3 360.7 97.0 357.7 95.3 354.6 94.0 352.6 93.4 349.5 92.9 343.4 92.6 340.3 92.2 335.2 90.4 331.1 88.5 326.6 85.8 320.9 80.9 314.7 76.4 311.7 73.7 308.6 70.3 302.9 62.7 297.9 54.7 294.7 48.7 290.2 39.4 275.8 11.7 248.3 11.7 248.3 150.8 249.3 150.8" fill="#fb5757" stroke="#fb5757" stroke-width="0.5"/>
<path d="M249.3 150.8 378.3 150.8 377.1 149.3 376.1 147.6 375.3 145.8 374.8 143.8 374.5 140.8 374.0 128.6 373.4 123.8 372.6 119.8 371.0 114.7 369.9 112.6 367.9 109.5 364.8 106.4 361.8 103.9 358.7 102.1 355.6 100.9 352.6 100.3 349.5 100.2 346.4 100.6 341.3 101.5 337.2 101.5 333.1 100.8 329.0 99.5 326.0 98.0 322.9 96.0 316.8 90.9 312.1 87.8 309.6 85.7 306.0 81.8 301.9 76.7 296.8 69.7 292.2 62.7 288.7 56.7 282.0 44.0 268.3 20.7 263.4 11.7 248.3 11.7 248.3 150.8 249.3 150.8" fill="#fb4f4f" stroke="#fb4f4f" stroke-width="0.5"/>
<path d="M249.3 150.8 370.1 150.8 370.8 142.8 371.0 136.8 370.9 132.8 370.5 128.8 369.9 125.3 368.9 121.6 367.7 118.8 365.8 116.0 363.8 114.0 361.8 112.6 359.7 111.7 357.7 111.1 355.6 110.8 353.6 111.0 351.5 111.6 347.4 113.2 343.7 113.8 339.3 116.1 336.2 117.1 333.1 117.5 331.1 117.5 329.0 117.1 327.0 116.5 323.9 115.2 318.8 112.1 312.7 107.4 304.0 99.8 298.9 94.8 294.2 89.8 290.1 84.8 286.4 79.7 282.0 73.1 273.7 58.7 266.7 48.6 254.4 31.7 251.1 26.7 248.3 21.9 248.3 150.8 249.3 150.8" fill="#fc4848" stroke="#fc4848" stroke-width="0.5"/>
</g>
<g clip-path="url(#cb)" mask="url(#mcb)">
<path d="M400.6 149.2 396.5 148.5 393.4 147.7 390.5 146.8 388.3 145.8 386.3 144.6 384.2 143.0 383.1 141.8 381.6 139.8 380.5 137.8 379.5 134.8 379.0 131.8 378.1 122.9 377.5 118.8 376.3 113.8 375.1 109.8 373.8 106.8 372.0 103.5 368.9 99.5 365.8 96.2 363.8 94.4 360.7 92.0 358.7 90.6 355.6 88.9 353.6 88.0 350.5 86.9 343.4 85.4 341.3 84.8 337.2 82.8 332.1 79.8 329.4 77.7 326.0 74.6 318.8 68.7 315.7 65.7 312.1 61.7 309.6 58.6 306.9 54.7 302.1 46.7 288.8 19.7 285.0 11.7" fill="none" stroke="#111" stroke-width="1.3" stroke-dasharray="2.3 1.6"/>
<path d="M400.6 92.3 387.1 61.7 381.2 50.1 376.5 41.7 374.0 36.7 363.2 11.7" fill="none" stroke="#111" stroke-width="1.3" stroke-dasharray="2.3 1.6"/>
</g>
<rect x="248.3" y="11.7" width="152.3" height="139.1" fill="none" stroke="#555" stroke-width="0.8"/>
<g clip-path="url(#ce)">
<rect x="247.3" y="189.9" width="154.3" height="141.6" fill="#18a3a3" stroke="none" stroke-width="0"/>
<rect x="247.3" y="189.9" width="154.3" height="141.6" fill="#1ca5a5" stroke="none" stroke-width="0"/>
<rect x="247.3" y="189.9" width="154.3" height="141.6" fill="#25a9a9" stroke="none" stroke-width="0"/>
<path d="M270.8 329.7 273.0 330.5 400.6 330.5 400.6 190.9 248.3 190.9 248.3 323.9 261.6 327.0 270.8 329.7" fill="#2eadad" stroke="#2eadad" stroke-width="0.5"/>
<path d="M286.1 329.8 287.6 330.5 400.6 330.5 400.6 190.9 248.3 190.9 248.3 316.1 260.6 319.5 268.7 322.2 277.9 325.9 286.1 329.8" fill="#37b1b1" stroke="#37b1b1" stroke-width="0.5"/>
<path d="M299.4 329.5 302.2 330.5 400.6 330.5 400.6 190.9 248.3 190.9 248.3 308.4 263.6 313.5 273.9 317.6 279.0 319.9 293.3 327.0 299.4 329.5" fill="#40b4b4" stroke="#40b4b4" stroke-width="0.5"/>
<path d="M325.0 329.6 327.3 330.5 400.6 330.5 400.6 190.9 248.3 190.9 248.3 300.7 260.6 305.5 274.9 311.4 280.0 313.9 295.3 321.9 301.5 324.6 305.5 325.9 308.6 326.7 318.8 328.0 321.9 328.6 325.0 329.6" fill="#48b8b8" stroke="#48b8b8" stroke-width="0.5"/>
<path d="M333.1 329.5 334.4 330.5 400.6 330.5 400.6 190.9 248.3 190.9 248.3 293.1 275.9 305.4 296.3 316.4 301.5 318.9 305.5 320.5 309.6 321.7 318.8 323.0 322.9 324.0 328.0 326.2 330.1 327.4 333.1 329.5" fill="#51bcbc" stroke="#51bcbc" stroke-width="0.5"/>
<path d="M338.2 330.1 338.6 330.5 400.6 330.5 400.6 190.9 248.3 190.9 248.3 285.5 256.5 289.7 276.9 299.4 297.4 311.0 303.5 314.1 309.6 316.4 319.9 318.5 322.9 319.4 326.0 320.8 329.0 322.5 332.1 324.6 335.2 327.1 338.2 330.1" fill="#5ac0c0" stroke="#5ac0c0" stroke-width="0.5"/>
<path d="M341.3 329.7 342.2 330.5 400.6 330.5 400.6 190.9 248.3 190.9 248.3 278.0 255.5 282.0 277.9 293.6 298.4 305.7 304.5 309.0 307.6 310.4 310.7 311.5 317.8 313.2 320.9 314.1 326.0 316.4 329.0 318.4 333.1 321.5 337.2 325.3 341.3 329.7" fill="#64c4c4" stroke="#64c4c4" stroke-width="0.5"/>
<path d="M345.4 329.9 346.3 330.5 400.6 330.5 400.6 190.9 248.3 190.9 248.3 270.5 256.5 275.7 271.8 283.9 280.0 288.4 304.5 303.5 310.7 306.4 319.9 309.2 325.0 311.7 329.0 314.5 334.2 318.6 339.3 323.7 342.3 327.5 345.4 329.9" fill="#6fc8c8" stroke="#6fc8c8" stroke-width="0.5"/>
<path d="M349.5 329.5 351.3 330.5 400.6 330.5 400.6 190.9 248.3 190.9 248.3 263.0 259.5 270.7 280.0 282.2 305.5 298.5 310.7 301.2 318.8 304.2 323.9 307.0 330.1 311.4 336.2 316.7 339.3 319.9 342.6 324.5 344.4 326.5 349.5 329.5" fill="#79cccc" stroke="#79cccc" stroke-width="0.5"/>
<path d="M355.6 329.8 357.2 330.5 400.6 330.5 400.6 190.9 248.3 190.9 248.3 255.5 262.6 265.8 281.0 276.7 306.6 293.6 310.7 295.9 317.8 299.2 325.0 303.7 332.1 309.1 337.2 313.9 340.3 317.3 343.6 322.5 345.4 324.6 346.5 325.5 348.5 326.6 355.6 329.8" fill="#84d0d0" stroke="#84d0d0" stroke-width="0.5"/>
<path d="M361.8 329.9 363.3 330.5 400.6 330.5 400.6 190.9 248.3 190.9 248.3 247.9 257.5 255.0 265.7 261.1 281.0 270.5 306.8 288.3 318.8 295.4 323.9 298.8 328.0 301.8 333.1 306.0 338.2 311.1 341.3 315.0 345.3 321.5 347.4 323.6 349.5 324.9 351.5 325.8 361.8 329.9" fill="#8ed4d4" stroke="#8ed4d4" stroke-width="0.5"/>
<path d="M366.9 329.6 368.9 330.5 400.6 330.5 400.6 190.9 248.3 190.9 248.3 240.2 256.6 247.1 267.7 255.7 282.0 265.1 306.0 282.3 321.9 293.0 329.0 298.4 334.2 302.9 339.3 308.3 341.3 311.1 346.3 319.5 348.5 321.8 350.5 323.2 353.3 324.5 366.9 329.6" fill="#98d8d8" stroke="#98d8d8" stroke-width="0.5"/>
<path d="M372.0 329.7 373.1 330.5 400.6 330.5 400.6 190.9 248.3 190.9 248.3 232.3 258.5 241.4 270.8 251.1 283.1 259.6 299.8 272.2 320.9 287.6 329.0 294.1 334.2 298.8 339.3 304.4 341.5 307.4 347.3 317.4 348.5 319.0 350.1 320.5 351.6 321.5 354.6 322.9 368.9 328.2 372.0 329.7" fill="#a3dcdc" stroke="#a3dcdc" stroke-width="0.5"/>
<path d="M375.0 329.5 376.0 330.5 400.6 330.5 400.6 190.9 248.3 190.9 248.3 224.2 258.9 234.1 268.3 242.1 273.9 246.5 282.0 252.5 309.6 274.0 314.7 278.2 320.9 282.6 329.0 289.6 335.2 295.6 340.3 301.6 342.3 304.8 347.7 314.4 349.5 317.0 350.9 318.4 353.6 320.2 357.7 322.1 369.9 326.3 373.0 328.0 375.0 329.5" fill="#aee0e0" stroke="#aee0e0" stroke-width="0.5"/>
<path d="M378.1 330.0 378.5 330.5 400.6 330.5 400.6 190.9 248.3 190.9 248.3 216.0 260.8 228.1 269.8 236.1 309.6 268.4 316.1 274.3 322.9 279.4 328.0 284.0 335.2 291.3 340.3 297.5 343.3 302.4 349.5 313.4 350.5 314.9 351.9 316.4 354.6 318.3 357.7 319.9 361.8 321.4 368.9 323.5 372.0 325.0 375.0 327.0 378.1 330.0" fill="#bbe5e5" stroke="#bbe5e5" stroke-width="0.5"/>
<path d="M380.2 329.8 380.6 330.5 400.6 330.5 400.6 191.5 400.0 190.9 248.3 190.9 248.3 207.7 261.8 221.0 271.5 230.1 298.4 253.0 310.7 263.7 318.4 271.2 325.0 276.5 330.1 281.2 336.2 288.1 340.3 293.3 344.0 299.4 350.5 310.9 351.5 312.5 353.1 314.4 355.6 316.3 358.7 317.9 361.8 319.0 368.9 321.1 373.0 323.2 375.0 324.5 377.1 326.2 380.2 329.8" fill="#c8eaea" stroke="#c8eaea" stroke-width="0.5"/>
<path d="M382.2 329.9 382.6 330.5 400.6 330.5 400.6 193.8 397.7 190.9 248.3 190.9 248.3 199.3 261.8 213.0 269.8 220.8 297.4 245.4 311.7 258.9 320.6 268.2 327.0 273.6 331.1 277.6 335.2 282.2 340.3 288.9 344.9 296.4 352.6 309.8 354.6 312.4 356.6 314.0 358.7 315.2 361.9 316.4 368.9 318.7 374.1 321.5 376.1 322.8 378.1 324.6 380.2 326.9 382.2 329.9" fill="#d4efef" stroke="#d4efef" stroke-width="0.5"/>
<path d="M384.2 330.2 384.4 330.5 400.6 330.5 400.6 196.1 397.5 193.4 395.6 190.9 248.3 190.9 268.7 211.7 287.1 228.7 299.4 240.5 311.7 253.0 321.9 264.3 329.0 270.9 332.1 274.0 337.2 280.2 341.6 286.3 346.0 293.3 354.6 308.1 355.6 309.5 357.7 311.3 359.7 312.6 363.8 314.4 368.9 316.2 376.1 320.3 378.1 322.0 380.4 324.5 382.2 326.8 384.2 330.2" fill="#e1f3f3" stroke="#e1f3f3" stroke-width="0.5"/>
<path d="M386.3 330.5 400.6 330.5 400.6 198.4 396.5 194.9 394.8 192.9 393.6 190.9 256.6 190.9 270.6 205.0 287.1 220.7 295.3 229.0 310.7 245.6 323.9 261.0 330.1 267.1 333.1 270.4 337.9 276.3 342.8 283.3 354.6 302.2 356.6 306.0 357.7 307.4 359.7 309.3 361.8 310.6 363.8 311.7 369.9 314.2 377.1 318.6 379.2 320.5 381.9 323.5 383.9 326.5 386.1 330.5 386.3 330.5" fill="#edf8f8" stroke="#edf8f8" stroke-width="0.5"/>
<path d="M388.3 330.5 400.6 330.5 400.6 200.8 396.5 197.5 394.8 195.9 393.3 193.9 391.6 190.9 265.2 190.9 287.1 212.2 294.3 219.7 306.6 233.9 324.6 256.2 332.1 264.2 335.2 267.8 340.8 275.3 350.5 290.3 353.6 294.2 355.6 297.7 358.2 303.4 359.7 305.6 360.7 306.6 362.8 308.1 364.8 309.3 369.9 311.7 376.1 315.4 378.8 317.4 381.2 319.9 383.2 322.4 385.8 326.5 387.8 330.5 388.3 330.5" fill="#fafdfd" stroke="#fafdfd" stroke-width="0.5"/>
<path d="M389.4 330.4 400.6 330.5 400.6 203.2 395.5 199.3 393.4 197.3 391.4 194.4 389.6 190.9 274.2 190.9 288.2 204.4 296.3 213.3 307.6 227.4 324.7 250.2 336.2 263.8 341.3 270.8 348.5 281.5 349.5 282.8 351.5 284.3 352.6 285.8 356.6 292.9 358.0 297.4 359.8 301.4 361.3 303.4 363.8 305.7 369.9 309.1 377.1 313.6 380.2 316.1 383.1 319.5 385.3 322.5 387.3 326.1 389.4 330.4" fill="#fcfdfd" stroke="#fcfdfd" stroke-width="0.5"/>
<path d="M391.4 330.5 400.6 330.5 400.6 205.6 396.9 203.0 393.4 200.2 392.4 199.2 390.1 195.9 387.7 190.9 283.5 190.9 292.3 199.6 299.4 207.9 308.6 220.4 325.1 244.1 329.7 250.2 337.2 259.4 346.4 272.7 347.4 273.8 348.5 274.7 350.5 275.4 353.6 280.3 357.4 287.3 358.5 292.3 359.2 294.3 361.4 299.4 362.8 301.3 365.0 303.4 368.9 305.7 378.1 311.8 381.2 314.3 383.2 316.7 385.9 320.5 388.3 324.7 390.9 330.5 391.4 330.5" fill="#fffdfd" stroke="#fffdfd" stroke-width="0.5"/>
<path d="M392.4 330.4 400.6 330.5 400.6 208.0 396.5 205.3 392.4 202.2 391.1 200.9 389.6 198.9 388.3 196.9 386.8 193.9 385.6 190.9 292.7 190.9 298.4 197.2 303.5 203.8 310.7 214.4 328.1 241.1 331.7 246.1 338.2 254.6 344.4 263.5 345.4 264.7 346.4 265.5 347.4 265.7 348.5 265.3 349.5 265.9 350.5 267.4 354.1 273.3 357.8 280.3 358.7 283.1 359.0 286.3 359.7 289.7 361.9 295.3 363.6 298.4 365.8 300.8 379.1 310.0 382.2 312.6 385.2 316.4 387.8 320.5 390.3 325.5 392.4 330.4" fill="#fff2f2" stroke="#fff2f2" stroke-width="0.5"/>
<path d="M394.5 330.5 400.6 330.5 400.6 210.4 396.6 208.0 391.4 204.3 389.4 202.3 387.6 199.9 385.9 196.9 384.5 193.9 383.5 190.9 301.0 190.9 304.5 195.5 308.6 201.6 332.0 239.1 342.3 253.7 343.4 254.9 344.4 255.8 345.4 256.1 347.4 254.8 348.5 255.8 352.6 261.9 355.6 267.4 358.7 273.5 359.4 276.3 360.0 282.3 360.8 286.3 362.9 292.3 363.8 294.3 364.8 296.1 366.9 298.4 374.0 303.9 380.5 308.4 383.2 310.9 386.0 314.4 388.3 318.3 391.4 324.3 393.9 330.5 394.5 330.5" fill="#ffe7e7" stroke="#ffe7e7" stroke-width="0.5"/>
<path d="M395.5 330.5 400.6 330.5 400.6 213.0 395.5 210.0 389.6 206.0 388.3 204.8 386.3 202.1 384.4 198.9 382.5 194.9 381.1 190.9 308.2 190.9 314.5 200.9 330.1 227.1 336.4 237.1 340.3 242.8 341.3 244.2 342.3 245.2 343.4 245.6 344.4 245.2 345.4 243.8 346.4 243.4 350.1 248.1 353.6 253.6 356.6 259.4 359.8 266.2 360.4 269.2 360.9 277.3 361.8 282.8 363.6 288.3 365.8 293.4 367.4 295.3 371.9 299.4 375.7 302.4 382.2 307.1 383.6 308.4 385.3 310.3 387.4 313.4 390.4 318.8 392.6 323.5 395.5 330.5" fill="#ffdcdc" stroke="#ffdcdc" stroke-width="0.5"/>
<path d="M396.5 329.6 396.8 330.5 400.6 330.5 400.6 215.5 396.5 213.4 388.3 208.2 386.3 206.4 384.2 203.6 381.6 198.9 379.7 194.9 378.2 190.9 314.6 190.9 333.0 222.0 337.2 228.8 339.3 231.8 340.3 233.0 341.3 233.7 342.3 233.6 343.4 232.2 344.4 230.3 345.4 230.9 349.5 235.4 351.5 238.2 353.6 241.4 357.7 249.5 360.7 256.8 361.2 258.2 361.6 262.2 361.9 272.2 362.6 278.3 364.2 284.3 366.7 290.3 368.1 292.3 372.0 296.4 376.1 299.9 383.2 305.2 384.5 306.4 386.2 308.4 388.3 311.7 391.4 317.4 394.1 323.5 396.5 329.6" fill="#fed1d1" stroke="#fed1d1" stroke-width="0.5"/>
<path d="M398.6 330.5 400.6 330.5 400.6 218.2 394.5 215.1 386.3 210.3 384.8 209.0 383.1 207.0 380.6 203.0 373.8 190.9 321.0 190.9 325.4 197.9 333.1 211.1 335.2 214.3 337.2 216.9 339.3 218.8 340.3 219.1 341.3 218.3 342.3 215.7 343.4 215.5 344.4 216.0 347.4 217.8 350.1 220.0 352.6 222.9 354.6 226.1 356.6 230.1 358.7 235.1 362.8 247.4 363.0 252.2 362.9 265.2 363.3 271.2 363.8 275.1 364.5 278.3 365.6 282.3 366.9 285.6 367.9 287.8 368.8 289.3 372.3 293.3 377.1 297.8 384.2 303.2 386.3 305.3 387.3 306.7 389.6 310.4 392.4 316.1 395.6 323.5 398.3 330.5 398.6 330.5" fill="#fec6c6" stroke="#fec6c6" stroke-width="0.5"/>
<path d="M399.6 330.2 399.7 330.5 400.6 330.5 400.6 220.9 395.5 218.6 388.3 214.8 385.3 213.4 383.2 212.0 381.2 209.8 377.1 203.9 375.0 201.3 373.0 199.5 372.0 199.2 371.0 199.5 369.8 200.9 365.9 211.0 365.2 214.0 364.8 217.0 364.7 222.0 365.0 233.1 364.3 252.2 364.2 260.2 364.6 268.2 365.7 275.3 366.7 279.3 367.9 282.6 369.1 285.3 371.1 288.3 373.6 291.3 376.6 294.3 380.2 297.3 384.2 300.4 386.3 302.2 387.3 303.4 389.3 306.4 391.4 310.3 394.5 316.9 397.1 323.5 399.6 330.2M337.2 199.0 338.2 199.1 339.3 198.7 340.3 197.5 342.4 195.9 344.1 193.9 345.4 190.9 329.2 190.9 335.2 197.4 336.2 198.4 337.2 199.0" fill="#febbbb" stroke="#febbbb" stroke-width="0.5"/>
<path d="M400.6 329.0 400.6 223.7 395.5 221.7 387.3 217.8 382.2 216.0 380.2 214.6 377.1 211.1 375.0 209.2 374.0 208.7 373.0 208.6 372.0 209.0 371.0 210.1 369.9 212.2 369.4 214.0 368.9 216.1 367.9 222.2 366.8 232.1 365.8 245.7 365.6 257.2 366.1 266.2 366.6 270.2 367.4 274.3 368.5 278.3 369.7 281.3 371.3 284.3 373.4 287.3 375.9 290.3 378.1 292.5 386.5 299.4 388.3 301.3 389.7 303.4 391.9 307.4 395.0 314.4 397.9 321.5 400.6 329.0" fill="#feb2b2" stroke="#feb2b2" stroke-width="0.5"/>
<path d="M400.6 324.7 400.6 226.7 396.5 225.3 386.3 221.3 383.2 220.5 379.1 219.9 378.1 219.6 375.0 218.0 374.0 217.9 373.0 218.3 372.0 219.4 371.0 221.5 369.9 224.7 368.9 230.2 367.9 239.1 367.3 249.2 367.4 258.2 367.9 265.9 369.0 272.2 369.9 275.4 371.6 279.3 373.8 283.3 375.9 286.3 378.1 289.0 380.5 291.3 387.7 297.4 389.4 299.2 390.4 300.7 392.4 304.5 395.0 310.4 400.6 324.7" fill="#fda9a9" stroke="#fda9a9" stroke-width="0.5"/>
<path d="M400.6 320.3 400.6 229.8 386.3 225.5 383.2 225.0 380.2 225.1 377.1 226.2 375.6 227.1 374.0 228.5 372.4 231.1 371.0 235.9 369.9 243.1 369.3 253.2 369.6 261.2 369.9 264.3 370.6 268.2 371.7 272.2 373.0 275.5 375.0 279.5 378.0 284.3 380.2 287.0 382.3 289.3 389.4 295.7 391.4 298.4 394.5 304.8 400.6 320.3" fill="#fda1a1" stroke="#fda1a1" stroke-width="0.5"/>
<path d="M400.6 315.8 400.6 233.2 388.3 230.3 385.3 230.0 382.2 230.2 380.2 230.9 379.1 231.4 377.1 233.1 376.1 234.4 375.2 236.1 374.1 239.1 373.7 241.1 372.7 249.2 372.4 254.2 372.6 260.2 373.3 265.2 374.3 269.2 375.8 273.3 377.8 277.3 380.1 281.3 383.6 286.3 386.3 289.3 390.5 293.3 391.4 294.4 392.7 296.4 394.5 300.4 400.6 315.8" fill="#fc9898" stroke="#fc9898" stroke-width="0.5"/>
<path d="M400.6 311.1 400.6 236.9 390.4 235.2 387.3 235.2 385.3 235.5 383.2 236.1 382.2 236.6 380.3 238.1 378.9 240.1 377.7 243.1 377.3 246.1 377.5 253.2 377.4 259.2 377.6 262.2 378.1 265.2 379.1 269.2 380.2 272.2 382.0 276.3 384.0 280.3 387.0 285.3 389.4 288.3 392.4 291.7 394.0 294.3 395.5 297.7 400.6 311.1" fill="#fc9090" stroke="#fc9090" stroke-width="0.5"/>
<path d="M400.6 306.0 400.6 240.9 394.5 240.6 390.4 240.8 388.3 241.2 386.2 242.1 384.2 243.8 383.3 245.1 382.4 247.1 382.0 249.2 381.8 251.2 382.1 254.2 385.4 270.2 387.1 276.3 388.7 280.3 390.5 284.3 391.7 286.3 394.5 290.2 395.5 292.2 400.6 306.0" fill="#fb8787" stroke="#fb8787" stroke-width="0.5"/>
<path d="M400.6 300.5 400.6 245.7 396.5 246.4 393.7 247.1 391.5 248.1 390.4 249.0 389.3 250.2 388.1 252.2 387.5 254.2 387.3 256.2 387.5 259.2 388.3 263.2 390.6 271.2 392.9 280.3 394.3 284.3 396.8 289.3 400.6 300.5" fill="#fb7f7f" stroke="#fb7f7f" stroke-width="0.5"/>
<path d="M400.6 294.0 400.6 251.5 397.5 253.6 395.3 256.2 393.9 259.2 393.4 261.2 393.3 263.2 393.5 267.2 394.5 272.2 397.3 283.3 400.6 294.0" fill="#fa7676" stroke="#fa7676" stroke-width="0.5"/>
<path d="M400.6 285.2 400.6 259.8 399.5 262.2 398.9 264.2 398.6 266.2 398.4 269.2 398.5 272.2 398.9 276.3 400.6 285.2" fill="#fa6e6e" stroke="#fa6e6e" stroke-width="0.5"/>
</g>
<g clip-path="url(#ce)" mask="url(#mce)">
<path d="M400.6 198.4 396.5 194.9 394.8 192.9 393.6 190.9M256.6 190.9 270.6 205.0 287.1 220.7 295.3 229.0 302.5 236.5 310.7 245.6 323.9 261.0 330.1 267.1 333.1 270.4 337.9 276.3 342.8 283.3 354.6 302.2 356.6 306.0 357.7 307.4 359.7 309.3 361.8 310.6 363.8 311.7 369.9 314.2 375.0 317.2 377.1 318.6 380.2 321.4 382.2 323.9 384.2 327.0 386.1 330.5" fill="none" stroke="#111" stroke-width="1.3" stroke-dasharray="2.3 1.6"/>
<path d="M400.6 255.1 398.8 257.2 397.2 260.2 396.3 263.2 396.0 267.2 396.3 271.2 397.0 275.3 399.0 284.3 400.6 290.0" fill="none" stroke="#111" stroke-width="1.3" stroke-dasharray="2.3 1.6"/>
</g>
<rect x="248.3" y="190.9" width="152.3" height="139.6" fill="none" stroke="#555" stroke-width="0.8"/>
<line x1="246.1" y1="150.8" x2="248.3" y2="150.8" stroke="#3c3c3c" stroke-width="0.9"/>
<text x="242.9" y="153.8" font-size="8.3" text-anchor="end" fill="#222" stroke="#222">1</text>
<line x1="246.1" y1="104.43" x2="248.3" y2="104.43" stroke="#3c3c3c" stroke-width="0.9"/>
<text x="242.9" y="107.43" font-size="8.3" text-anchor="end" fill="#222" stroke="#222">2</text>
<line x1="246.1" y1="58.07" x2="248.3" y2="58.07" stroke="#3c3c3c" stroke-width="0.9"/>
<text x="242.9" y="61.07" font-size="8.3" text-anchor="end" fill="#222" stroke="#222">3</text>
<line x1="246.1" y1="11.7" x2="248.3" y2="11.7" stroke="#3c3c3c" stroke-width="0.9"/>
<text x="242.9" y="14.7" font-size="8.3" text-anchor="end" fill="#222" stroke="#222">4</text>
<line x1="248.3" y1="150.8" x2="248.3" y2="153" stroke="#3c3c3c" stroke-width="0.9"/>
<text x="248.3" y="163.6" font-size="8.3" text-anchor="middle" fill="#222" stroke="#222">30</text>
<line x1="278.76" y1="150.8" x2="278.76" y2="153" stroke="#3c3c3c" stroke-width="0.9"/>
<text x="278.76" y="163.6" font-size="8.3" text-anchor="middle" fill="#222" stroke="#222">25</text>
<line x1="309.22" y1="150.8" x2="309.22" y2="153" stroke="#3c3c3c" stroke-width="0.9"/>
<text x="309.22" y="163.6" font-size="8.3" text-anchor="middle" fill="#222" stroke="#222">20</text>
<line x1="339.68" y1="150.8" x2="339.68" y2="153" stroke="#3c3c3c" stroke-width="0.9"/>
<text x="339.68" y="163.6" font-size="8.3" text-anchor="middle" fill="#222" stroke="#222">15</text>
<line x1="370.14" y1="150.8" x2="370.14" y2="153" stroke="#3c3c3c" stroke-width="0.9"/>
<text x="370.14" y="163.6" font-size="8.3" text-anchor="middle" fill="#222" stroke="#222">10</text>
<line x1="400.6" y1="150.8" x2="400.6" y2="153" stroke="#3c3c3c" stroke-width="0.9"/>
<text x="400.6" y="163.6" font-size="8.3" text-anchor="middle" fill="#222" stroke="#222">5</text>
<text transform="translate(231.8 81.2) rotate(-90)" font-size="9.2" text-anchor="middle" fill="#1a1a1a" stroke="#1a1a1a"><tspan font-style="italic">j</tspan> (A/cm<tspan font-size="6" dy="-3.4">2</tspan><tspan dy="3.4">)</tspan></text>
<text x="324.45" y="177.6" font-size="9.2" text-anchor="middle" fill="#1a1a1a" stroke="#1a1a1a">CO<tspan font-size="6.3" dy="2.9">2</tspan><tspan dy="-2.9"> flow rate (sccm)</tspan></text>
<rect x="407.4" y="15.2" width="11.6" height="3.35" fill="#fc4040" stroke="none" stroke-width="0"/>
<rect x="407.4" y="18.15" width="11.6" height="3.35" fill="#fc4848" stroke="none" stroke-width="0"/>
<rect x="407.4" y="21.1" width="11.6" height="3.35" fill="#fb4f4f" stroke="none" stroke-width="0"/>
<rect x="407.4" y="24.05" width="11.6" height="3.35" fill="#fb5757" stroke="none" stroke-width="0"/>
<rect x="407.4" y="27" width="11.6" height="3.35" fill="#fb5f5f" stroke="none" stroke-width="0"/>
<rect x="407.4" y="29.94" width="11.6" height="3.35" fill="#fb6767" stroke="none" stroke-width="0"/>
<rect x="407.4" y="32.89" width="11.6" height="3.35" fill="#fa6e6e" stroke="none" stroke-width="0"/>
<rect x="407.4" y="35.84" width="11.6" height="3.35" fill="#fa7676" stroke="none" stroke-width="0"/>
<rect x="407.4" y="38.79" width="11.6" height="3.35" fill="#fb7f7f" stroke="none" stroke-width="0"/>
<rect x="407.4" y="41.74" width="11.6" height="3.35" fill="#fb8787" stroke="none" stroke-width="0"/>
<rect x="407.4" y="44.69" width="11.6" height="3.35" fill="#fc9090" stroke="none" stroke-width="0"/>
<rect x="407.4" y="47.64" width="11.6" height="3.35" fill="#fc9898" stroke="none" stroke-width="0"/>
<rect x="407.4" y="50.59" width="11.6" height="3.35" fill="#fda1a1" stroke="none" stroke-width="0"/>
<rect x="407.4" y="53.54" width="11.6" height="3.35" fill="#fda9a9" stroke="none" stroke-width="0"/>
<rect x="407.4" y="56.48" width="11.6" height="3.35" fill="#feb2b2" stroke="none" stroke-width="0"/>
<rect x="407.4" y="59.43" width="11.6" height="3.35" fill="#febbbb" stroke="none" stroke-width="0"/>
<rect x="407.4" y="62.38" width="11.6" height="3.35" fill="#fec6c6" stroke="none" stroke-width="0"/>
<rect x="407.4" y="65.33" width="11.6" height="3.35" fill="#fed1d1" stroke="none" stroke-width="0"/>
<rect x="407.4" y="68.28" width="11.6" height="3.35" fill="#ffdcdc" stroke="none" stroke-width="0"/>
<rect x="407.4" y="71.23" width="11.6" height="3.35" fill="#ffe7e7" stroke="none" stroke-width="0"/>
<rect x="407.4" y="74.18" width="11.6" height="3.35" fill="#fff2f2" stroke="none" stroke-width="0"/>
<rect x="407.4" y="77.13" width="11.6" height="3.35" fill="#fffdfd" stroke="none" stroke-width="0"/>
<rect x="407.4" y="80.08" width="11.6" height="3.35" fill="#fcfdfd" stroke="none" stroke-width="0"/>
<rect x="407.4" y="83.02" width="11.6" height="3.35" fill="#fafdfd" stroke="none" stroke-width="0"/>
<rect x="407.4" y="85.97" width="11.6" height="3.35" fill="#edf8f8" stroke="none" stroke-width="0"/>
<rect x="407.4" y="88.92" width="11.6" height="3.35" fill="#e1f3f3" stroke="none" stroke-width="0"/>
<rect x="407.4" y="91.87" width="11.6" height="3.35" fill="#d4efef" stroke="none" stroke-width="0"/>
<rect x="407.4" y="94.82" width="11.6" height="3.35" fill="#c8eaea" stroke="none" stroke-width="0"/>
<rect x="407.4" y="97.77" width="11.6" height="3.35" fill="#bbe5e5" stroke="none" stroke-width="0"/>
<rect x="407.4" y="100.72" width="11.6" height="3.35" fill="#aee0e0" stroke="none" stroke-width="0"/>
<rect x="407.4" y="103.67" width="11.6" height="3.35" fill="#a3dcdc" stroke="none" stroke-width="0"/>
<rect x="407.4" y="106.62" width="11.6" height="3.35" fill="#98d8d8" stroke="none" stroke-width="0"/>
<rect x="407.4" y="109.56" width="11.6" height="3.35" fill="#8ed4d4" stroke="none" stroke-width="0"/>
<rect x="407.4" y="112.51" width="11.6" height="3.35" fill="#84d0d0" stroke="none" stroke-width="0"/>
<rect x="407.4" y="115.46" width="11.6" height="3.35" fill="#79cccc" stroke="none" stroke-width="0"/>
<rect x="407.4" y="118.41" width="11.6" height="3.35" fill="#6fc8c8" stroke="none" stroke-width="0"/>
<rect x="407.4" y="121.36" width="11.6" height="3.35" fill="#64c4c4" stroke="none" stroke-width="0"/>
<rect x="407.4" y="124.31" width="11.6" height="3.35" fill="#5ac0c0" stroke="none" stroke-width="0"/>
<rect x="407.4" y="127.26" width="11.6" height="3.35" fill="#51bcbc" stroke="none" stroke-width="0"/>
<rect x="407.4" y="130.21" width="11.6" height="3.35" fill="#48b8b8" stroke="none" stroke-width="0"/>
<rect x="407.4" y="133.16" width="11.6" height="3.35" fill="#40b4b4" stroke="none" stroke-width="0"/>
<rect x="407.4" y="136.1" width="11.6" height="3.35" fill="#37b1b1" stroke="none" stroke-width="0"/>
<rect x="407.4" y="139.05" width="11.6" height="3.35" fill="#2eadad" stroke="none" stroke-width="0"/>
<rect x="407.4" y="142" width="11.6" height="3.35" fill="#25a9a9" stroke="none" stroke-width="0"/>
<rect x="407.4" y="144.95" width="11.6" height="3.35" fill="#1ca5a5" stroke="none" stroke-width="0"/>
<rect x="407.4" y="15.2" width="11.6" height="132.7" fill="none" stroke="#555" stroke-width="0.8"/>
<line x1="419" y1="15.2" x2="421.2" y2="15.2" stroke="#666" stroke-width="0.8"/>
<text x="424.2" y="18.2" font-size="8.3" text-anchor="start" fill="#1a1a1a" stroke="#1a1a1a">100</text>
<line x1="419" y1="37.32" x2="421.2" y2="37.32" stroke="#666" stroke-width="0.8"/>
<text x="424.2" y="40.32" font-size="8.3" text-anchor="start" fill="#1a1a1a" stroke="#1a1a1a">85</text>
<line x1="419" y1="59.43" x2="421.2" y2="59.43" stroke="#666" stroke-width="0.8"/>
<text x="424.2" y="62.43" font-size="8.3" text-anchor="start" fill="#1a1a1a" stroke="#1a1a1a">70</text>
<line x1="419" y1="81.55" x2="421.2" y2="81.55" stroke="#666" stroke-width="0.8"/>
<text x="424.2" y="84.55" font-size="8.3" text-anchor="start" fill="#1a1a1a" stroke="#1a1a1a">55</text>
<line x1="419" y1="103.67" x2="421.2" y2="103.67" stroke="#666" stroke-width="0.8"/>
<text x="424.2" y="106.67" font-size="8.3" text-anchor="start" fill="#1a1a1a" stroke="#1a1a1a">40</text>
<line x1="419" y1="125.78" x2="421.2" y2="125.78" stroke="#666" stroke-width="0.8"/>
<text x="424.2" y="128.78" font-size="8.3" text-anchor="start" fill="#1a1a1a" stroke="#1a1a1a">25</text>
<line x1="419" y1="147.9" x2="421.2" y2="147.9" stroke="#666" stroke-width="0.8"/>
<text x="424.2" y="150.9" font-size="8.3" text-anchor="start" fill="#1a1a1a" stroke="#1a1a1a">10</text>
<text x="413.7" y="8.9" font-size="9.1" text-anchor="middle" fill="#1a1a1a" stroke="#1a1a1a">CO FE (%)</text>
<text x="219" y="12.6" font-size="16.5" fill="#000" stroke="none">b</text>
<line x1="246.1" y1="330.5" x2="248.3" y2="330.5" stroke="#3c3c3c" stroke-width="0.9"/>
<text x="242.9" y="333.5" font-size="8.3" text-anchor="end" fill="#222" stroke="#222">1</text>
<line x1="246.1" y1="283.97" x2="248.3" y2="283.97" stroke="#3c3c3c" stroke-width="0.9"/>
<text x="242.9" y="286.97" font-size="8.3" text-anchor="end" fill="#222" stroke="#222">2</text>
<line x1="246.1" y1="237.43" x2="248.3" y2="237.43" stroke="#3c3c3c" stroke-width="0.9"/>
<text x="242.9" y="240.43" font-size="8.3" text-anchor="end" fill="#222" stroke="#222">3</text>
<line x1="246.1" y1="190.9" x2="248.3" y2="190.9" stroke="#3c3c3c" stroke-width="0.9"/>
<text x="242.9" y="193.9" font-size="8.3" text-anchor="end" fill="#222" stroke="#222">4</text>
<line x1="248.3" y1="330.5" x2="248.3" y2="332.7" stroke="#3c3c3c" stroke-width="0.9"/>
<text x="248.3" y="343.1" font-size="8.3" text-anchor="middle" fill="#222" stroke="#222">30</text>
<line x1="278.76" y1="330.5" x2="278.76" y2="332.7" stroke="#3c3c3c" stroke-width="0.9"/>
<text x="278.76" y="343.1" font-size="8.3" text-anchor="middle" fill="#222" stroke="#222">25</text>
<line x1="309.22" y1="330.5" x2="309.22" y2="332.7" stroke="#3c3c3c" stroke-width="0.9"/>
<text x="309.22" y="343.1" font-size="8.3" text-anchor="middle" fill="#222" stroke="#222">20</text>
<line x1="339.68" y1="330.5" x2="339.68" y2="332.7" stroke="#3c3c3c" stroke-width="0.9"/>
<text x="339.68" y="343.1" font-size="8.3" text-anchor="middle" fill="#222" stroke="#222">15</text>
<line x1="370.14" y1="330.5" x2="370.14" y2="332.7" stroke="#3c3c3c" stroke-width="0.9"/>
<text x="370.14" y="343.1" font-size="8.3" text-anchor="middle" fill="#222" stroke="#222">10</text>
<line x1="400.6" y1="330.5" x2="400.6" y2="332.7" stroke="#3c3c3c" stroke-width="0.9"/>
<text x="400.6" y="343.1" font-size="8.3" text-anchor="middle" fill="#222" stroke="#222">5</text>
<text transform="translate(231.8 260.5) rotate(-90)" font-size="9.2" text-anchor="middle" fill="#1a1a1a" stroke="#1a1a1a"><tspan font-style="italic">j</tspan> (A/cm<tspan font-size="6" dy="-3.4">2</tspan><tspan dy="3.4">)</tspan></text>
<text x="324.45" y="357.1" font-size="9.2" text-anchor="middle" fill="#1a1a1a" stroke="#1a1a1a">CO<tspan font-size="6.3" dy="2.9">2</tspan><tspan dy="-2.9"> flow rate (sccm)</tspan></text>
<rect x="406.6" y="194.3" width="11.4" height="3.37" fill="#fc4040" stroke="none" stroke-width="0"/>
<rect x="406.6" y="197.27" width="11.4" height="3.37" fill="#fc4848" stroke="none" stroke-width="0"/>
<rect x="406.6" y="200.23" width="11.4" height="3.37" fill="#fb4f4f" stroke="none" stroke-width="0"/>
<rect x="406.6" y="203.2" width="11.4" height="3.37" fill="#fb5757" stroke="none" stroke-width="0"/>
<rect x="406.6" y="206.17" width="11.4" height="3.37" fill="#fb5f5f" stroke="none" stroke-width="0"/>
<rect x="406.6" y="209.13" width="11.4" height="3.37" fill="#fb6767" stroke="none" stroke-width="0"/>
<rect x="406.6" y="212.1" width="11.4" height="3.37" fill="#fa6e6e" stroke="none" stroke-width="0"/>
<rect x="406.6" y="215.07" width="11.4" height="3.37" fill="#fa7676" stroke="none" stroke-width="0"/>
<rect x="406.6" y="218.03" width="11.4" height="3.37" fill="#fb7f7f" stroke="none" stroke-width="0"/>
<rect x="406.6" y="221" width="11.4" height="3.37" fill="#fb8787" stroke="none" stroke-width="0"/>
<rect x="406.6" y="223.97" width="11.4" height="3.37" fill="#fc9090" stroke="none" stroke-width="0"/>
<rect x="406.6" y="226.93" width="11.4" height="3.37" fill="#fc9898" stroke="none" stroke-width="0"/>
<rect x="406.6" y="229.9" width="11.4" height="3.37" fill="#fda1a1" stroke="none" stroke-width="0"/>
<rect x="406.6" y="232.87" width="11.4" height="3.37" fill="#fda9a9" stroke="none" stroke-width="0"/>
<rect x="406.6" y="235.83" width="11.4" height="3.37" fill="#feb2b2" stroke="none" stroke-width="0"/>
<rect x="406.6" y="238.8" width="11.4" height="3.37" fill="#febbbb" stroke="none" stroke-width="0"/>
<rect x="406.6" y="241.77" width="11.4" height="3.37" fill="#fec6c6" stroke="none" stroke-width="0"/>
<rect x="406.6" y="244.73" width="11.4" height="3.37" fill="#fed1d1" stroke="none" stroke-width="0"/>
<rect x="406.6" y="247.7" width="11.4" height="3.37" fill="#ffdcdc" stroke="none" stroke-width="0"/>
<rect x="406.6" y="250.67" width="11.4" height="3.37" fill="#ffe7e7" stroke="none" stroke-width="0"/>
<rect x="406.6" y="253.63" width="11.4" height="3.37" fill="#fff2f2" stroke="none" stroke-width="0"/>
<rect x="406.6" y="256.6" width="11.4" height="3.37" fill="#fffdfd" stroke="none" stroke-width="0"/>
<rect x="406.6" y="259.57" width="11.4" height="3.37" fill="#fcfdfd" stroke="none" stroke-width="0"/>
<rect x="406.6" y="262.53" width="11.4" height="3.37" fill="#fafdfd" stroke="none" stroke-width="0"/>
<rect x="406.6" y="265.5" width="11.4" height="3.37" fill="#edf8f8" stroke="none" stroke-width="0"/>
<rect x="406.6" y="268.47" width="11.4" height="3.37" fill="#e1f3f3" stroke="none" stroke-width="0"/>
<rect x="406.6" y="271.43" width="11.4" height="3.37" fill="#d4efef" stroke="none" stroke-width="0"/>
<rect x="406.6" y="274.4" width="11.4" height="3.37" fill="#c8eaea" stroke="none" stroke-width="0"/>
<rect x="406.6" y="277.37" width="11.4" height="3.37" fill="#bbe5e5" stroke="none" stroke-width="0"/>
<rect x="406.6" y="280.33" width="11.4" height="3.37" fill="#aee0e0" stroke="none" stroke-width="0"/>
<rect x="406.6" y="283.3" width="11.4" height="3.37" fill="#a3dcdc" stroke="none" stroke-width="0"/>
<rect x="406.6" y="286.27" width="11.4" height="3.37" fill="#98d8d8" stroke="none" stroke-width="0"/>
<rect x="406.6" y="289.23" width="11.4" height="3.37" fill="#8ed4d4" stroke="none" stroke-width="0"/>
<rect x="406.6" y="292.2" width="11.4" height="3.37" fill="#84d0d0" stroke="none" stroke-width="0"/>
<rect x="406.6" y="295.17" width="11.4" height="3.37" fill="#79cccc" stroke="none" stroke-width="0"/>
<rect x="406.6" y="298.13" width="11.4" height="3.37" fill="#6fc8c8" stroke="none" stroke-width="0"/>
<rect x="406.6" y="301.1" width="11.4" height="3.37" fill="#64c4c4" stroke="none" stroke-width="0"/>
<rect x="406.6" y="304.07" width="11.4" height="3.37" fill="#5ac0c0" stroke="none" stroke-width="0"/>
<rect x="406.6" y="307.03" width="11.4" height="3.37" fill="#51bcbc" stroke="none" stroke-width="0"/>
<rect x="406.6" y="310" width="11.4" height="3.37" fill="#48b8b8" stroke="none" stroke-width="0"/>
<rect x="406.6" y="312.97" width="11.4" height="3.37" fill="#40b4b4" stroke="none" stroke-width="0"/>
<rect x="406.6" y="315.93" width="11.4" height="3.37" fill="#37b1b1" stroke="none" stroke-width="0"/>
<rect x="406.6" y="318.9" width="11.4" height="3.37" fill="#2eadad" stroke="none" stroke-width="0"/>
<rect x="406.6" y="321.87" width="11.4" height="3.37" fill="#25a9a9" stroke="none" stroke-width="0"/>
<rect x="406.6" y="324.83" width="11.4" height="3.37" fill="#1ca5a5" stroke="none" stroke-width="0"/>
<rect x="406.6" y="194.3" width="11.4" height="133.5" fill="none" stroke="#555" stroke-width="0.8"/>
<line x1="418" y1="194.3" x2="420.2" y2="194.3" stroke="#666" stroke-width="0.8"/>
<text x="423.2" y="197.3" font-size="8.3" text-anchor="start" fill="#1a1a1a" stroke="#1a1a1a">100</text>
<line x1="418" y1="216.55" x2="420.2" y2="216.55" stroke="#666" stroke-width="0.8"/>
<text x="423.2" y="219.55" font-size="8.3" text-anchor="start" fill="#1a1a1a" stroke="#1a1a1a">85</text>
<line x1="418" y1="238.8" x2="420.2" y2="238.8" stroke="#666" stroke-width="0.8"/>
<text x="423.2" y="241.8" font-size="8.3" text-anchor="start" fill="#1a1a1a" stroke="#1a1a1a">70</text>
<line x1="418" y1="261.05" x2="420.2" y2="261.05" stroke="#666" stroke-width="0.8"/>
<text x="423.2" y="264.05" font-size="8.3" text-anchor="start" fill="#1a1a1a" stroke="#1a1a1a">55</text>
<line x1="418" y1="283.3" x2="420.2" y2="283.3" stroke="#666" stroke-width="0.8"/>
<text x="423.2" y="286.3" font-size="8.3" text-anchor="start" fill="#1a1a1a" stroke="#1a1a1a">40</text>
<line x1="418" y1="305.55" x2="420.2" y2="305.55" stroke="#666" stroke-width="0.8"/>
<text x="423.2" y="308.55" font-size="8.3" text-anchor="start" fill="#1a1a1a" stroke="#1a1a1a">25</text>
<line x1="418" y1="327.8" x2="420.2" y2="327.8" stroke="#666" stroke-width="0.8"/>
<text x="423.2" y="330.8" font-size="8.3" text-anchor="start" fill="#1a1a1a" stroke="#1a1a1a">10</text>
<text x="406.3" y="187.2" font-size="8.7" text-anchor="middle" fill="#1a1a1a" stroke="#1a1a1a">CO<tspan font-size="6" dy="2.8">2</tspan><tspan dy="-2.8"> SPCE (%)</tspan></text>
<text x="217.8" y="189.3" font-size="16.5" fill="#000" stroke="none">e</text>
<line x1="478.6" y1="12.4" x2="651" y2="12.4" stroke="#3c3c3c" stroke-width="0.9"/>
<line x1="478.6" y1="151.2" x2="651" y2="151.2" stroke="#3c3c3c" stroke-width="0.9"/>
<line x1="478.6" y1="12.4" x2="478.6" y2="151.2" stroke="#3c3c3c" stroke-width="0.9"/>
<line x1="651" y1="12.4" x2="651" y2="151.65" stroke="#a58a6c" stroke-width="0.9"/>
<line x1="476.1" y1="151.2" x2="478.6" y2="151.2" stroke="#3c3c3c" stroke-width="0.9"/>
<text x="473.2" y="154.2" font-size="8.3" text-anchor="end" fill="#222" stroke="#222">0</text>
<line x1="476.1" y1="124.02" x2="478.6" y2="124.02" stroke="#3c3c3c" stroke-width="0.9"/>
<text x="473.2" y="127.02" font-size="8.3" text-anchor="end" fill="#222" stroke="#222">20</text>
<line x1="476.1" y1="96.84" x2="478.6" y2="96.84" stroke="#3c3c3c" stroke-width="0.9"/>
<text x="473.2" y="99.84" font-size="8.3" text-anchor="end" fill="#222" stroke="#222">40</text>
<line x1="476.1" y1="69.66" x2="478.6" y2="69.66" stroke="#3c3c3c" stroke-width="0.9"/>
<text x="473.2" y="72.66" font-size="8.3" text-anchor="end" fill="#222" stroke="#222">60</text>
<line x1="476.1" y1="42.48" x2="478.6" y2="42.48" stroke="#3c3c3c" stroke-width="0.9"/>
<text x="473.2" y="45.48" font-size="8.3" text-anchor="end" fill="#222" stroke="#222">80</text>
<line x1="476.1" y1="15.3" x2="478.6" y2="15.3" stroke="#3c3c3c" stroke-width="0.9"/>
<text x="473.2" y="18.3" font-size="8.3" text-anchor="end" fill="#222" stroke="#222">100</text>
<line x1="477.1" y1="137.61" x2="478.6" y2="137.61" stroke="#3c3c3c" stroke-width="0.9"/>
<line x1="477.1" y1="110.43" x2="478.6" y2="110.43" stroke="#3c3c3c" stroke-width="0.9"/>
<line x1="477.1" y1="83.25" x2="478.6" y2="83.25" stroke="#3c3c3c" stroke-width="0.9"/>
<line x1="477.1" y1="56.07" x2="478.6" y2="56.07" stroke="#3c3c3c" stroke-width="0.9"/>
<line x1="477.1" y1="28.89" x2="478.6" y2="28.89" stroke="#3c3c3c" stroke-width="0.9"/>
<line x1="481.6" y1="151.2" x2="481.6" y2="153.7" stroke="#3c3c3c" stroke-width="0.9"/>
<text x="481.6" y="162.8" font-size="8.3" text-anchor="middle" fill="#222" stroke="#222">0</text>
<line x1="514.28" y1="151.2" x2="514.28" y2="153.7" stroke="#3c3c3c" stroke-width="0.9"/>
<text x="514.28" y="162.8" font-size="8.3" text-anchor="middle" fill="#222" stroke="#222">1</text>
<line x1="546.96" y1="151.2" x2="546.96" y2="153.7" stroke="#3c3c3c" stroke-width="0.9"/>
<text x="546.96" y="162.8" font-size="8.3" text-anchor="middle" fill="#222" stroke="#222">2</text>
<line x1="579.64" y1="151.2" x2="579.64" y2="153.7" stroke="#3c3c3c" stroke-width="0.9"/>
<text x="579.64" y="162.8" font-size="8.3" text-anchor="middle" fill="#222" stroke="#222">3</text>
<line x1="612.32" y1="151.2" x2="612.32" y2="153.7" stroke="#3c3c3c" stroke-width="0.9"/>
<text x="612.32" y="162.8" font-size="8.3" text-anchor="middle" fill="#222" stroke="#222">4</text>
<line x1="645" y1="151.2" x2="645" y2="153.7" stroke="#3c3c3c" stroke-width="0.9"/>
<text x="645" y="162.8" font-size="8.3" text-anchor="middle" fill="#222" stroke="#222">5</text>
<line x1="651" y1="12.3" x2="653.5" y2="12.3" stroke="#a58a6c" stroke-width="0.9"/>
<text x="656" y="15.3" font-size="8.3" text-anchor="start" fill="#a58a6c" stroke="#a58a6c">-1.8</text>
<line x1="651" y1="39.7" x2="653.5" y2="39.7" stroke="#a58a6c" stroke-width="0.9"/>
<text x="656" y="42.7" font-size="8.3" text-anchor="start" fill="#a58a6c" stroke="#a58a6c">-1.5</text>
<line x1="651" y1="67.1" x2="653.5" y2="67.1" stroke="#a58a6c" stroke-width="0.9"/>
<text x="656" y="70.1" font-size="8.3" text-anchor="start" fill="#a58a6c" stroke="#a58a6c">-1.2</text>
<line x1="651" y1="94.5" x2="653.5" y2="94.5" stroke="#a58a6c" stroke-width="0.9"/>
<text x="656" y="97.5" font-size="8.3" text-anchor="start" fill="#a58a6c" stroke="#a58a6c">-0.9</text>
<line x1="651" y1="121.9" x2="653.5" y2="121.9" stroke="#a58a6c" stroke-width="0.9"/>
<text x="656" y="124.9" font-size="8.3" text-anchor="start" fill="#a58a6c" stroke="#a58a6c">-0.6</text>
<line x1="651" y1="149.3" x2="653.5" y2="149.3" stroke="#a58a6c" stroke-width="0.9"/>
<text x="656" y="152.3" font-size="8.3" text-anchor="start" fill="#a58a6c" stroke="#a58a6c">-0.3</text>
<line x1="651" y1="140.17" x2="652.5" y2="140.17" stroke="#a58a6c" stroke-width="0.9"/>
<line x1="651" y1="131.03" x2="652.5" y2="131.03" stroke="#a58a6c" stroke-width="0.9"/>
<line x1="651" y1="112.77" x2="652.5" y2="112.77" stroke="#a58a6c" stroke-width="0.9"/>
<line x1="651" y1="103.63" x2="652.5" y2="103.63" stroke="#a58a6c" stroke-width="0.9"/>
<line x1="651" y1="85.37" x2="652.5" y2="85.37" stroke="#a58a6c" stroke-width="0.9"/>
<line x1="651" y1="76.23" x2="652.5" y2="76.23" stroke="#a58a6c" stroke-width="0.9"/>
<line x1="651" y1="57.97" x2="652.5" y2="57.97" stroke="#a58a6c" stroke-width="0.9"/>
<line x1="651" y1="48.83" x2="652.5" y2="48.83" stroke="#a58a6c" stroke-width="0.9"/>
<line x1="651" y1="30.57" x2="652.5" y2="30.57" stroke="#a58a6c" stroke-width="0.9"/>
<line x1="651" y1="21.43" x2="652.5" y2="21.43" stroke="#a58a6c" stroke-width="0.9"/>
<path d="M484.87 16.66 L488.14 46.56 L491.4 132.17 L494.67 147.12 L497.94 149.16 L507.74 148.48 L514.28 148.48 L520.82 147.8 L530.62 147.12 L540.42 146.44 L546.96 146.44 L563.3 146.44 L573.1 145.76 L579.64 145.08 L595.98 145.08 L605.78 145.08 L612.32 146.44 L628.66 144.41 L645 140.46" fill="none" stroke="#78b99a" stroke-width="1.2" stroke-linejoin="round"/>
<path d="M484.87 150.52 L488.14 118.58 L491.4 32.15 L494.67 19.38 L497.94 16.25 L507.74 16.66 L514.28 17.34 L520.82 18.7 L530.62 18.7 L540.42 20.06 L546.96 20.06 L563.3 18.7 L573.1 20.06 L579.64 20.06 L595.98 21.42 L605.78 21.42 L612.32 21.42 L628.66 22.09 L645 24.81" fill="none" stroke="#f87a7a" stroke-width="1.2" stroke-linejoin="round"/>
<path d="M484.87 138.7 L488.14 122.1 L491.4 115 L494.67 112.1 L497.94 107.8 L507.74 103.7 L514.28 100 L520.82 95.4 L530.62 91.7 L540.42 88.4 L546.96 84.8 L563.3 77.9 L573.1 73.9 L579.64 70 L595.98 63.5 L605.78 58.3 L612.32 54.2 L628.66 48 L645 40.8" fill="none" stroke="#a58462" stroke-width="1.2" stroke-linejoin="round"/>
<circle cx="484.87" cy="16.66" r="2.5" fill="#78b99a"/>
<line x1="488.14" y1="43.84" x2="488.14" y2="49.27" stroke="#78b99a" stroke-width="0.75"/>
<line x1="486.84" y1="43.84" x2="489.44" y2="43.84" stroke="#78b99a" stroke-width="0.75"/>
<line x1="486.84" y1="49.27" x2="489.44" y2="49.27" stroke="#78b99a" stroke-width="0.75"/>
<circle cx="488.14" cy="46.56" r="2.5" fill="#78b99a"/>
<line x1="491.4" y1="128.78" x2="491.4" y2="135.57" stroke="#78b99a" stroke-width="0.75"/>
<line x1="490.1" y1="128.78" x2="492.7" y2="128.78" stroke="#78b99a" stroke-width="0.75"/>
<line x1="490.1" y1="135.57" x2="492.7" y2="135.57" stroke="#78b99a" stroke-width="0.75"/>
<circle cx="491.4" cy="132.17" r="2.5" fill="#78b99a"/>
<circle cx="494.67" cy="147.12" r="2.5" fill="#78b99a"/>
<circle cx="497.94" cy="149.16" r="2.5" fill="#78b99a"/>
<circle cx="507.74" cy="148.48" r="2.5" fill="#78b99a"/>
<circle cx="514.28" cy="148.48" r="2.5" fill="#78b99a"/>
<circle cx="520.82" cy="147.8" r="2.5" fill="#78b99a"/>
<circle cx="530.62" cy="147.12" r="2.5" fill="#78b99a"/>
<line x1="540.42" y1="144.41" x2="540.42" y2="148.48" stroke="#78b99a" stroke-width="0.75"/>
<line x1="539.12" y1="144.41" x2="541.72" y2="144.41" stroke="#78b99a" stroke-width="0.75"/>
<line x1="539.12" y1="148.48" x2="541.72" y2="148.48" stroke="#78b99a" stroke-width="0.75"/>
<circle cx="540.42" cy="146.44" r="2.5" fill="#78b99a"/>
<circle cx="546.96" cy="146.44" r="2.5" fill="#78b99a"/>
<circle cx="563.3" cy="146.44" r="2.5" fill="#78b99a"/>
<line x1="573.1" y1="143.73" x2="573.1" y2="147.8" stroke="#78b99a" stroke-width="0.75"/>
<line x1="571.8" y1="143.73" x2="574.4" y2="143.73" stroke="#78b99a" stroke-width="0.75"/>
<line x1="571.8" y1="147.8" x2="574.4" y2="147.8" stroke="#78b99a" stroke-width="0.75"/>
<circle cx="573.1" cy="145.76" r="2.5" fill="#78b99a"/>
<circle cx="579.64" cy="145.08" r="2.5" fill="#78b99a"/>
<line x1="595.98" y1="143.73" x2="595.98" y2="146.44" stroke="#78b99a" stroke-width="0.75"/>
<line x1="594.68" y1="143.73" x2="597.28" y2="143.73" stroke="#78b99a" stroke-width="0.75"/>
<line x1="594.68" y1="146.44" x2="597.28" y2="146.44" stroke="#78b99a" stroke-width="0.75"/>
<circle cx="595.98" cy="145.08" r="2.5" fill="#78b99a"/>
<line x1="605.78" y1="143.05" x2="605.78" y2="147.12" stroke="#78b99a" stroke-width="0.75"/>
<line x1="604.48" y1="143.05" x2="607.08" y2="143.05" stroke="#78b99a" stroke-width="0.75"/>
<line x1="604.48" y1="147.12" x2="607.08" y2="147.12" stroke="#78b99a" stroke-width="0.75"/>
<circle cx="605.78" cy="145.08" r="2.5" fill="#78b99a"/>
<circle cx="612.32" cy="146.44" r="2.5" fill="#78b99a"/>
<circle cx="628.66" cy="144.41" r="2.5" fill="#78b99a"/>
<line x1="645" y1="134.76" x2="645" y2="146.17" stroke="#78b99a" stroke-width="0.75"/>
<line x1="643.7" y1="134.76" x2="646.3" y2="134.76" stroke="#78b99a" stroke-width="0.75"/>
<line x1="643.7" y1="146.17" x2="646.3" y2="146.17" stroke="#78b99a" stroke-width="0.75"/>
<circle cx="645" cy="140.46" r="2.5" fill="#78b99a"/>
<rect x="482.77" y="148.42" width="4.2" height="4.2" fill="#f87a7a"/>
<line x1="488.14" y1="114.51" x2="488.14" y2="122.66" stroke="#f87a7a" stroke-width="0.75"/>
<line x1="486.64" y1="114.51" x2="489.64" y2="114.51" stroke="#f87a7a" stroke-width="0.75"/>
<line x1="486.64" y1="122.66" x2="489.64" y2="122.66" stroke="#f87a7a" stroke-width="0.75"/>
<rect x="486.04" y="116.48" width="4.2" height="4.2" fill="#f87a7a"/>
<rect x="489.3" y="30.05" width="4.2" height="4.2" fill="#f87a7a"/>
<rect x="492.57" y="17.28" width="4.2" height="4.2" fill="#f87a7a"/>
<rect x="495.84" y="14.15" width="4.2" height="4.2" fill="#f87a7a"/>
<rect x="505.64" y="14.56" width="4.2" height="4.2" fill="#f87a7a"/>
<rect x="512.18" y="15.24" width="4.2" height="4.2" fill="#f87a7a"/>
<line x1="520.82" y1="15.44" x2="520.82" y2="21.96" stroke="#f87a7a" stroke-width="0.75"/>
<line x1="519.32" y1="15.44" x2="522.32" y2="15.44" stroke="#f87a7a" stroke-width="0.75"/>
<line x1="519.32" y1="21.96" x2="522.32" y2="21.96" stroke="#f87a7a" stroke-width="0.75"/>
<rect x="518.72" y="16.6" width="4.2" height="4.2" fill="#f87a7a"/>
<rect x="528.52" y="16.6" width="4.2" height="4.2" fill="#f87a7a"/>
<line x1="540.42" y1="17.47" x2="540.42" y2="22.64" stroke="#f87a7a" stroke-width="0.75"/>
<line x1="538.92" y1="17.47" x2="541.92" y2="17.47" stroke="#f87a7a" stroke-width="0.75"/>
<line x1="538.92" y1="22.64" x2="541.92" y2="22.64" stroke="#f87a7a" stroke-width="0.75"/>
<rect x="538.32" y="17.96" width="4.2" height="4.2" fill="#f87a7a"/>
<rect x="544.86" y="17.96" width="4.2" height="4.2" fill="#f87a7a"/>
<rect x="561.2" y="16.6" width="4.2" height="4.2" fill="#f87a7a"/>
<line x1="573.1" y1="16.93" x2="573.1" y2="23.18" stroke="#f87a7a" stroke-width="0.75"/>
<line x1="571.6" y1="16.93" x2="574.6" y2="16.93" stroke="#f87a7a" stroke-width="0.75"/>
<line x1="571.6" y1="23.18" x2="574.6" y2="23.18" stroke="#f87a7a" stroke-width="0.75"/>
<rect x="571" y="17.96" width="4.2" height="4.2" fill="#f87a7a"/>
<line x1="579.64" y1="17.47" x2="579.64" y2="22.64" stroke="#f87a7a" stroke-width="0.75"/>
<line x1="578.14" y1="17.47" x2="581.14" y2="17.47" stroke="#f87a7a" stroke-width="0.75"/>
<line x1="578.14" y1="22.64" x2="581.14" y2="22.64" stroke="#f87a7a" stroke-width="0.75"/>
<rect x="577.54" y="17.96" width="4.2" height="4.2" fill="#f87a7a"/>
<line x1="595.98" y1="18.83" x2="595.98" y2="24" stroke="#f87a7a" stroke-width="0.75"/>
<line x1="594.48" y1="18.83" x2="597.48" y2="18.83" stroke="#f87a7a" stroke-width="0.75"/>
<line x1="594.48" y1="24" x2="597.48" y2="24" stroke="#f87a7a" stroke-width="0.75"/>
<rect x="593.88" y="19.32" width="4.2" height="4.2" fill="#f87a7a"/>
<line x1="605.78" y1="18.83" x2="605.78" y2="24" stroke="#f87a7a" stroke-width="0.75"/>
<line x1="604.28" y1="18.83" x2="607.28" y2="18.83" stroke="#f87a7a" stroke-width="0.75"/>
<line x1="604.28" y1="24" x2="607.28" y2="24" stroke="#f87a7a" stroke-width="0.75"/>
<rect x="603.68" y="19.32" width="4.2" height="4.2" fill="#f87a7a"/>
<line x1="612.32" y1="18.56" x2="612.32" y2="24.27" stroke="#f87a7a" stroke-width="0.75"/>
<line x1="610.82" y1="18.56" x2="613.82" y2="18.56" stroke="#f87a7a" stroke-width="0.75"/>
<line x1="610.82" y1="24.27" x2="613.82" y2="24.27" stroke="#f87a7a" stroke-width="0.75"/>
<rect x="610.22" y="19.32" width="4.2" height="4.2" fill="#f87a7a"/>
<rect x="626.56" y="19.99" width="4.2" height="4.2" fill="#f87a7a"/>
<line x1="645" y1="19.51" x2="645" y2="30.11" stroke="#f87a7a" stroke-width="0.75"/>
<line x1="643.5" y1="19.51" x2="646.5" y2="19.51" stroke="#f87a7a" stroke-width="0.75"/>
<line x1="643.5" y1="30.11" x2="646.5" y2="30.11" stroke="#f87a7a" stroke-width="0.75"/>
<rect x="642.9" y="22.71" width="4.2" height="4.2" fill="#f87a7a"/>
<rect x="482.77" y="136.6" width="4.2" height="4.2" fill="#a58462"/>
<rect x="486.04" y="120" width="4.2" height="4.2" fill="#a58462"/>
<rect x="489.3" y="112.9" width="4.2" height="4.2" fill="#a58462"/>
<rect x="492.57" y="110" width="4.2" height="4.2" fill="#a58462"/>
<rect x="495.84" y="105.7" width="4.2" height="4.2" fill="#a58462"/>
<rect x="505.64" y="101.6" width="4.2" height="4.2" fill="#a58462"/>
<rect x="512.18" y="97.9" width="4.2" height="4.2" fill="#a58462"/>
<rect x="518.72" y="93.3" width="4.2" height="4.2" fill="#a58462"/>
<rect x="528.52" y="89.6" width="4.2" height="4.2" fill="#a58462"/>
<rect x="538.32" y="86.3" width="4.2" height="4.2" fill="#a58462"/>
<rect x="544.86" y="82.7" width="4.2" height="4.2" fill="#a58462"/>
<rect x="561.2" y="75.8" width="4.2" height="4.2" fill="#a58462"/>
<rect x="571" y="71.8" width="4.2" height="4.2" fill="#a58462"/>
<rect x="577.54" y="67.9" width="4.2" height="4.2" fill="#a58462"/>
<rect x="593.88" y="61.4" width="4.2" height="4.2" fill="#a58462"/>
<rect x="603.68" y="56.2" width="4.2" height="4.2" fill="#a58462"/>
<rect x="610.22" y="52.1" width="4.2" height="4.2" fill="#a58462"/>
<rect x="626.56" y="45.9" width="4.2" height="4.2" fill="#a58462"/>
<rect x="642.9" y="38.7" width="4.2" height="4.2" fill="#a58462"/>
<line x1="497.9" y1="50.2" x2="516.2" y2="50.2" stroke="#f87a7a" stroke-width="1.2"/>
<rect x="505.1" y="48.1" width="4.2" height="4.2" fill="#f87a7a"/>
<text x="518.4" y="53.2" font-size="8" text-anchor="start" fill="#f87a7a" stroke="#f87a7a">CO</text>
<line x1="497.9" y1="59.9" x2="516.2" y2="59.9" stroke="#78b99a" stroke-width="1.2"/>
<circle cx="507.2" cy="59.9" r="2.5" fill="#78b99a"/>
<text x="518.4" y="62.9" font-size="8" fill="#78b99a" stroke="#78b99a">H<tspan font-size="5.6" dy="2">2</tspan></text>
<line x1="628" y1="53.9" x2="642" y2="53.9" stroke="#a58462" stroke-width="1.3"/>
<path d="M638.3 51.3 L643.2 53.9 L638.3 56.5" fill="none" stroke="#a58462" stroke-width="1.2"/>
<text x="455.4" y="81.9" font-size="9.2" text-anchor="middle" fill="#1a1a1a" transform="rotate(-90 455.4 81.9)" stroke="#1a1a1a">FE (%)</text>
<text transform="translate(681.2 81.6) rotate(-90)" font-size="9.3" text-anchor="middle" fill="#a58a6c" stroke="#a58a6c">Potential (V vs RHE)</text>
<text x="565.9" y="175.6" font-size="9.2" text-anchor="middle" fill="#1a1a1a" stroke="#1a1a1a"><tspan font-style="italic">j</tspan> (A/cm<tspan font-size="6" dy="-3.4">2</tspan><tspan dy="3.4">)</tspan></text>
<text x="444.9" y="10.4" font-size="16.5" fill="#000" stroke="none">c</text>
<rect x="486" y="208.97" width="6.8" height="121.93" fill="#f97c7c" stroke="none" stroke-width="0"/>
<rect x="492.8" y="326.21" width="6.8" height="4.69" fill="#7dbd9a" stroke="none" stroke-width="0"/>
<rect x="514.85" y="208.21" width="6.8" height="122.69" fill="#f97c7c" stroke="none" stroke-width="0"/>
<rect x="521.65" y="324.94" width="6.8" height="5.96" fill="#7dbd9a" stroke="none" stroke-width="0"/>
<rect x="543.7" y="210.11" width="6.8" height="120.79" fill="#f97c7c" stroke="none" stroke-width="0"/>
<rect x="550.5" y="323.04" width="6.8" height="7.86" fill="#7dbd9a" stroke="none" stroke-width="0"/>
<rect x="572.55" y="211.5" width="6.8" height="119.4" fill="#f97c7c" stroke="none" stroke-width="0"/>
<rect x="579.35" y="324.31" width="6.8" height="6.59" fill="#7dbd9a" stroke="none" stroke-width="0"/>
<rect x="601.4" y="215.05" width="6.8" height="115.85" fill="#f97c7c" stroke="none" stroke-width="0"/>
<rect x="608.2" y="318.22" width="6.8" height="12.68" fill="#7dbd9a" stroke="none" stroke-width="0"/>
<rect x="630.25" y="258.91" width="6.8" height="71.99" fill="#f97c7c" stroke="none" stroke-width="0"/>
<rect x="637.05" y="277.03" width="6.8" height="53.87" fill="#7dbd9a" stroke="none" stroke-width="0"/>
<line x1="489.4" y1="207.7" x2="489.4" y2="210.23" stroke="#333" stroke-width="0.7"/>
<line x1="488.2" y1="207.7" x2="490.6" y2="207.7" stroke="#333" stroke-width="0.7"/>
<line x1="488.2" y1="210.23" x2="490.6" y2="210.23" stroke="#333" stroke-width="0.7"/>
<line x1="496.2" y1="324.31" x2="496.2" y2="328.11" stroke="#333" stroke-width="0.7"/>
<line x1="495" y1="324.31" x2="497.4" y2="324.31" stroke="#333" stroke-width="0.7"/>
<line x1="495" y1="328.11" x2="497.4" y2="328.11" stroke="#333" stroke-width="0.7"/>
<line x1="518.25" y1="205.92" x2="518.25" y2="210.49" stroke="#333" stroke-width="0.7"/>
<line x1="517.05" y1="205.92" x2="519.45" y2="205.92" stroke="#333" stroke-width="0.7"/>
<line x1="517.05" y1="210.49" x2="519.45" y2="210.49" stroke="#333" stroke-width="0.7"/>
<line x1="525.05" y1="321.77" x2="525.05" y2="328.11" stroke="#333" stroke-width="0.7"/>
<line x1="523.85" y1="321.77" x2="526.25" y2="321.77" stroke="#333" stroke-width="0.7"/>
<line x1="523.85" y1="328.11" x2="526.25" y2="328.11" stroke="#333" stroke-width="0.7"/>
<line x1="547.1" y1="208.84" x2="547.1" y2="211.37" stroke="#333" stroke-width="0.7"/>
<line x1="545.9" y1="208.84" x2="548.3" y2="208.84" stroke="#333" stroke-width="0.7"/>
<line x1="545.9" y1="211.37" x2="548.3" y2="211.37" stroke="#333" stroke-width="0.7"/>
<line x1="553.9" y1="322.28" x2="553.9" y2="323.8" stroke="#333" stroke-width="0.7"/>
<line x1="552.7" y1="322.28" x2="555.1" y2="322.28" stroke="#333" stroke-width="0.7"/>
<line x1="552.7" y1="323.8" x2="555.1" y2="323.8" stroke="#333" stroke-width="0.7"/>
<line x1="575.95" y1="209.22" x2="575.95" y2="213.78" stroke="#333" stroke-width="0.7"/>
<line x1="574.75" y1="209.22" x2="577.15" y2="209.22" stroke="#333" stroke-width="0.7"/>
<line x1="574.75" y1="213.78" x2="577.15" y2="213.78" stroke="#333" stroke-width="0.7"/>
<line x1="582.75" y1="321.77" x2="582.75" y2="326.84" stroke="#333" stroke-width="0.7"/>
<line x1="581.55" y1="321.77" x2="583.95" y2="321.77" stroke="#333" stroke-width="0.7"/>
<line x1="581.55" y1="326.84" x2="583.95" y2="326.84" stroke="#333" stroke-width="0.7"/>
<line x1="604.8" y1="210.23" x2="604.8" y2="219.87" stroke="#333" stroke-width="0.7"/>
<line x1="603.6" y1="210.23" x2="606" y2="210.23" stroke="#333" stroke-width="0.7"/>
<line x1="603.6" y1="219.87" x2="606" y2="219.87" stroke="#333" stroke-width="0.7"/>
<line x1="611.6" y1="313.15" x2="611.6" y2="323.29" stroke="#333" stroke-width="0.7"/>
<line x1="610.4" y1="313.15" x2="612.8" y2="313.15" stroke="#333" stroke-width="0.7"/>
<line x1="610.4" y1="323.29" x2="612.8" y2="323.29" stroke="#333" stroke-width="0.7"/>
<line x1="633.65" y1="253.84" x2="633.65" y2="263.98" stroke="#333" stroke-width="0.7"/>
<line x1="632.45" y1="253.84" x2="634.85" y2="253.84" stroke="#333" stroke-width="0.7"/>
<line x1="632.45" y1="263.98" x2="634.85" y2="263.98" stroke="#333" stroke-width="0.7"/>
<line x1="640.45" y1="274.5" x2="640.45" y2="279.57" stroke="#333" stroke-width="0.7"/>
<line x1="639.25" y1="274.5" x2="641.65" y2="274.5" stroke="#333" stroke-width="0.7"/>
<line x1="639.25" y1="279.57" x2="641.65" y2="279.57" stroke="#333" stroke-width="0.7"/>
<path d="M492.8 309.08 L496.02 308.24 L499.13 307.42 L502.12 306.61 L504.99 305.82 L507.76 305.04 L510.42 304.28 L512.97 303.53 L515.44 302.79 L517.81 302.07 L520.08 301.35 L522.28 300.64 L524.39 299.95 L526.43 299.26 L528.39 298.58 L530.28 297.9 L532.11 297.23 L533.87 296.57 L535.58 295.91 L537.23 295.26 L538.84 294.61 L540.4 293.96 L541.91 293.31 L543.39 292.66 L544.84 292.02 L546.25 291.37 L547.64 290.72 L549 290.07 L550.35 289.42 L551.68 288.76 L552.99 288.09 L554.29 287.42 L555.57 286.73 L556.84 286.03 L558.1 285.32 L559.35 284.6 L560.6 283.85 L561.84 283.09 L563.08 282.31 L564.31 281.51 L565.54 280.68 L566.77 279.83 L568.01 278.95 L569.25 278.04 L570.5 277.11 L571.75 276.14 L573.01 275.14 L574.28 274.1 L575.56 273.02 L576.86 271.91 L578.17 270.76 L579.5 269.56 L580.85 268.33 L582.21 267.04 L583.6 265.71 L585.01 264.34 L586.46 262.91 L587.94 261.43 L589.45 259.9 L591.01 258.31 L592.62 256.67 L594.27 254.97 L595.98 253.21 L597.74 251.38 L599.57 249.5 L601.46 247.55 L603.42 245.54 L605.46 243.46 L607.57 241.31 L609.77 239.09 L612.04 236.8 L614.41 234.43 L616.88 231.99 L619.43 229.48 L622.09 226.88 L624.86 224.2 L627.73 221.45 L630.72 218.61 L633.83 215.68 L637.05 212.67" fill="none" stroke="#a58462" stroke-width="1.25" stroke-linejoin="round"/>
<path d="M492.8 306.28 L495.6 309.08 L492.8 311.88 L490 309.08Z" fill="#a58462"/>
<path d="M521.65 298.84 L524.45 301.64 L521.65 304.44 L518.85 301.64Z" fill="#a58462"/>
<path d="M550.5 287.99 L553.3 290.79 L550.5 293.59 L547.7 290.79Z" fill="#a58462"/>
<path d="M579.35 270.01 L582.15 272.81 L579.35 275.61 L576.55 272.81Z" fill="#a58462"/>
<line x1="608.2" y1="237.62" x2="608.2" y2="241.35" stroke="#a58462" stroke-width="0.7"/>
<line x1="606.9" y1="237.62" x2="609.5" y2="237.62" stroke="#a58462" stroke-width="0.7"/>
<line x1="606.9" y1="241.35" x2="609.5" y2="241.35" stroke="#a58462" stroke-width="0.7"/>
<path d="M608.2 236.69 L611 239.49 L608.2 242.29 L605.4 239.49Z" fill="#a58462"/>
<line x1="637.05" y1="203.53" x2="637.05" y2="221.82" stroke="#a58462" stroke-width="0.7"/>
<line x1="635.75" y1="203.53" x2="638.35" y2="203.53" stroke="#a58462" stroke-width="0.7"/>
<line x1="635.75" y1="221.82" x2="638.35" y2="221.82" stroke="#a58462" stroke-width="0.7"/>
<path d="M637.05 209.87 L639.85 212.67 L637.05 215.47 L634.25 212.67Z" fill="#a58462"/>
<line x1="478.4" y1="191.6" x2="651" y2="191.6" stroke="#3c3c3c" stroke-width="0.9"/>
<line x1="478.4" y1="330.9" x2="651" y2="330.9" stroke="#3c3c3c" stroke-width="0.9"/>
<line x1="478.4" y1="191.6" x2="478.4" y2="330.9" stroke="#3c3c3c" stroke-width="0.9"/>
<line x1="651" y1="191.6" x2="651" y2="331.35" stroke="#a58a6c" stroke-width="0.9"/>
<line x1="475.9" y1="330.9" x2="478.4" y2="330.9" stroke="#3c3c3c" stroke-width="0.9"/>
<text x="473" y="333.9" font-size="8.3" text-anchor="end" fill="#222" stroke="#222">0</text>
<line x1="475.9" y1="305.55" x2="478.4" y2="305.55" stroke="#3c3c3c" stroke-width="0.9"/>
<text x="473" y="308.55" font-size="8.3" text-anchor="end" fill="#222" stroke="#222">20</text>
<line x1="475.9" y1="280.2" x2="478.4" y2="280.2" stroke="#3c3c3c" stroke-width="0.9"/>
<text x="473" y="283.2" font-size="8.3" text-anchor="end" fill="#222" stroke="#222">40</text>
<line x1="475.9" y1="254.85" x2="478.4" y2="254.85" stroke="#3c3c3c" stroke-width="0.9"/>
<text x="473" y="257.85" font-size="8.3" text-anchor="end" fill="#222" stroke="#222">60</text>
<line x1="475.9" y1="229.5" x2="478.4" y2="229.5" stroke="#3c3c3c" stroke-width="0.9"/>
<text x="473" y="232.5" font-size="8.3" text-anchor="end" fill="#222" stroke="#222">80</text>
<line x1="475.9" y1="204.15" x2="478.4" y2="204.15" stroke="#3c3c3c" stroke-width="0.9"/>
<text x="473" y="207.15" font-size="8.3" text-anchor="end" fill="#222" stroke="#222">100</text>
<line x1="476.9" y1="318.22" x2="478.4" y2="318.22" stroke="#3c3c3c" stroke-width="0.9"/>
<line x1="476.9" y1="292.88" x2="478.4" y2="292.88" stroke="#3c3c3c" stroke-width="0.9"/>
<line x1="476.9" y1="267.52" x2="478.4" y2="267.52" stroke="#3c3c3c" stroke-width="0.9"/>
<line x1="476.9" y1="242.17" x2="478.4" y2="242.17" stroke="#3c3c3c" stroke-width="0.9"/>
<line x1="476.9" y1="216.82" x2="478.4" y2="216.82" stroke="#3c3c3c" stroke-width="0.9"/>
<line x1="476.9" y1="191.47" x2="478.4" y2="191.47" stroke="#3c3c3c" stroke-width="0.9"/>
<line x1="651" y1="315.9" x2="653.5" y2="315.9" stroke="#a58a6c" stroke-width="0.9"/>
<text x="657.3" y="318.9" font-size="8.3" text-anchor="start" fill="#a58a6c" stroke="#a58a6c">20</text>
<line x1="651" y1="284.9" x2="653.5" y2="284.9" stroke="#a58a6c" stroke-width="0.9"/>
<text x="657.3" y="287.9" font-size="8.3" text-anchor="start" fill="#a58a6c" stroke="#a58a6c">40</text>
<line x1="651" y1="253.9" x2="653.5" y2="253.9" stroke="#a58a6c" stroke-width="0.9"/>
<text x="657.3" y="256.9" font-size="8.3" text-anchor="start" fill="#a58a6c" stroke="#a58a6c">60</text>
<line x1="651" y1="222.9" x2="653.5" y2="222.9" stroke="#a58a6c" stroke-width="0.9"/>
<text x="657.3" y="225.9" font-size="8.3" text-anchor="start" fill="#a58a6c" stroke="#a58a6c">80</text>
<line x1="651" y1="191.9" x2="653.5" y2="191.9" stroke="#a58a6c" stroke-width="0.9"/>
<text x="657.3" y="194.9" font-size="8.3" text-anchor="start" fill="#a58a6c" stroke="#a58a6c">100</text>
<line x1="651" y1="331.4" x2="652.5" y2="331.4" stroke="#a58a6c" stroke-width="0.9"/>
<line x1="651" y1="300.4" x2="652.5" y2="300.4" stroke="#a58a6c" stroke-width="0.9"/>
<line x1="651" y1="269.4" x2="652.5" y2="269.4" stroke="#a58a6c" stroke-width="0.9"/>
<line x1="651" y1="238.4" x2="652.5" y2="238.4" stroke="#a58a6c" stroke-width="0.9"/>
<line x1="651" y1="207.4" x2="652.5" y2="207.4" stroke="#a58a6c" stroke-width="0.9"/>
<line x1="492.8" y1="330.9" x2="492.8" y2="333.4" stroke="#3c3c3c" stroke-width="0.9"/>
<text x="492.8" y="342.6" font-size="8.3" text-anchor="middle" fill="#222" stroke="#222">30</text>
<line x1="521.65" y1="330.9" x2="521.65" y2="333.4" stroke="#3c3c3c" stroke-width="0.9"/>
<text x="521.65" y="342.6" font-size="8.3" text-anchor="middle" fill="#222" stroke="#222">25</text>
<line x1="550.5" y1="330.9" x2="550.5" y2="333.4" stroke="#3c3c3c" stroke-width="0.9"/>
<text x="550.5" y="342.6" font-size="8.3" text-anchor="middle" fill="#222" stroke="#222">20</text>
<line x1="579.35" y1="330.9" x2="579.35" y2="333.4" stroke="#3c3c3c" stroke-width="0.9"/>
<text x="579.35" y="342.6" font-size="8.3" text-anchor="middle" fill="#222" stroke="#222">15</text>
<line x1="608.2" y1="330.9" x2="608.2" y2="333.4" stroke="#3c3c3c" stroke-width="0.9"/>
<text x="608.2" y="342.6" font-size="8.3" text-anchor="middle" fill="#222" stroke="#222">10</text>
<line x1="637.05" y1="330.9" x2="637.05" y2="333.4" stroke="#3c3c3c" stroke-width="0.9"/>
<text x="637.05" y="342.6" font-size="8.3" text-anchor="middle" fill="#222" stroke="#222">5</text>
<text x="490.2" y="201.2" font-size="7.6" fill="#1a1a1a">2 A/cm<tspan font-size="5.3" dy="-2.8">2</tspan></text>
<rect x="549.8" y="194.4" width="16.8" height="7.8" fill="#f97c7c" stroke="none" stroke-width="0"/>
<text x="569.1" y="201.1" font-size="8" text-anchor="start" fill="#1a1a1a" stroke="#1a1a1a">CO</text>
<rect x="585.5" y="194.6" width="17.4" height="7.8" fill="#7dbd9a" stroke="none" stroke-width="0"/>
<text x="605.6" y="201.1" font-size="8" fill="#1a1a1a" stroke="#1a1a1a">H<tspan font-size="5.6" dy="2">2</tspan></text>
<line x1="625.3" y1="229.3" x2="642" y2="229.3" stroke="#a58462" stroke-width="1.3"/>
<path d="M637.8 226.7 L642.8 229.3 L637.8 231.9" fill="none" stroke="#a58462" stroke-width="1.2"/>
<text x="456.2" y="259.3" font-size="9.2" text-anchor="middle" fill="#1a1a1a" transform="rotate(-90 456.2 259.3)" stroke="#1a1a1a">CO FE (%)</text>
<text transform="translate(680.8 261.2) rotate(-90)" font-size="9.2" text-anchor="middle" fill="#a58a6c" stroke="#a58a6c">CO<tspan font-size="6.3" dy="2.9">2</tspan><tspan dy="-2.9"> SPCE (%)</tspan></text>
<text x="565" y="357.2" font-size="9.2" text-anchor="middle" fill="#1a1a1a" stroke="#1a1a1a">CO<tspan font-size="6.3" dy="2.9">2</tspan><tspan dy="-2.9"> flow rate (sccm)</tspan></text>
<text x="446.6" y="193.6" font-size="16.5" fill="#000" stroke="none">f</text>
<path d="M34.9 469.9l0-.9l.1-.3l0-.2l.1-.8l.1 .2l0-1.7l.1-1.4l0 .8l.1-.3l.1-1.5l0-.3l.1-.2l.1 .7l0-1.4l.1-1.4l0 2.4l.1-1.7l.1 1.9l0-1.2l.1 .6l0-3.1l.1 1.6l.1-3.3l0-.2l.1 .4l.1 4.7l0-3.8l.1-2.3l0-.7l.1 3.3l.1-2.7l0 .8l.1-.8l0-4.5l.1 3.9l.1-2.1l0-2.4l.1 3l.1-1.4l0-.8l.1-.3l0 2.6l.1-3.2l.1-3.2l0 6.2l.1-5.7l0 1.6l.1 1.7l.1-6l0 2.8l.1 4.4l.1-2.8l0-1.2l.1 1.7l0-1.9l.1 1.7l.1-1.7l0-1.7l.1 4.7l0-1.9l.1 1.5l.1-1.4l0 3l.1-1.4l.1-.8l0-2.5l.1-.5l0 7.6l.1-3.3l.1-3.2l0 5.9l.1-3.4l0-.9l.1-3l.1 1.3l0 2.3l.1 0l.1-.2l0-4l.1 4.4l0-.3l.1-1.5l.1 1.1l0 .2l.1 2l0-2.5l.1 1l.1-3.6l0 1.2l.1 1.5l.1-1.6l0 2.3l.1-3.1l0 2.3l.1-1.3l.1 4.2l0-3.7l.1 4.6l.1 .8l0-3.4l.1 .8l0-2.3l.1-4.7l.1 6.9l0-.5l.1-1.8l0-.7l.1 1.5l.1 .1l0-2l.1 .4l.1 3.4l0-2.1l.1-.3l0 2.5l.1-3l.1 2.5l0-4.1l.1 1.8l0 .2l.1 1.5l.1-1l0 4.2l.1-1.9l.1-3.4l0 5.6l.1-6.7l0 5.8l.1-5.6l.1 3.6l0-3.6l.1 1.4l0 3.8l.1-6.3l.1-.4l0 3.4l.1 .4l.1-.2l0 1.8l.1-4.6l0 3.6l.1-1.1l.1 2.9l0-1.6l.1 1.5l0-5.7l.1 3.2l.1-2.5l0 2.1l.1 1.6l.1-.8l0 .5l.1-1.3l0 .9l.1-.2l.1 2.4l0-1.3l.1-5.5l0 6.3l.1-.2l.1-3.1l0-2.4l.1 6.4l.1-2.8l0 .9l.1 2.6l0-5.6l.1 1.7l.1-.2l0 1.8l.1-2.7l0 2.2l.1-.6l.1 1.9l0 .2l.1-5.7l.1 4.2l0-1.8l.1 .7l0 .9l.1 .2l.1-3.6l0 3.6l.1-.8l.1-.4l0-2.6l.1 1.1l0 .7l.1 2.1l.1 1.8l0-5.2l.1 0l0 2.4l.1-1.5l.1-.5l0-.1l.1-.2l.1 3l0-4.4l.1 6.2l0-4.7l.1 .8l.1-.8l0-2.3l.1-1.4l0 8.2l.1 1.2l.1-5.6l0 4.1l.1-2.3l.1-1.9l0 5.6l.1 1l0-5.3l.1 .5l.1 .7l0-.7l.1 2l0 1.5l.1-3l.1 1.8l0 1.5l.1-4.8l.1 1.3l0-1.1l.1 3.1l0-.7l.1 .8l.1-.3l0-2.4l.1 2.2l0-2.6l.1 .1l.1-3.8l0 7.6l.1-6.5l.1 3.6l0-.1l.1 3.2l0-2.2l.1-2.7l.1 1.8l0-.4l.1 .9l0-3.3l.1 2.7l.1 4.8l0-3.3l.1 2.8l.1 2.9l0-6.1l.1-4.2l0 2.9l.1 2.7l.1-.5l0-4.6l.1 2.2l0 .2l.1 .2l.1-.2l0-1.7l.1 .6l.1 .7l0 2.9l.1-3.5l0 2.7l.1-4l.1 5.3l0-2.6l.1-.3l0 5.1l.1-8.9l.1 .6l0 4.3l.1-2.8l.1 .9l0 6.7l.1-6.4l0 .7l.1-.4l.1 2.6l0-1.4l.1-.6l.1-3l0 1.3l.1 1.3l0-3.4l.1 4.7l.1-.4l0 3.2l.1-7.6l0-.1l.1 1.6l.1 .5l0 1.1l.1-.1l.1 1.1l0-.1l.1-.6l0-3.3l.1 2.2l.1 1.4l0 1.1l.1 .1l0-5l.1 2.5l.1 1l0 .9l.1 1.7l.1-2.3l0-2.1l.1 2.8l0-.4l.1 0l.1-.7l0 3.8l.1-3.1l0 1.4l.1-3.9l.1 3.7l0-3l.1-2.1l.1 4.1l0 .7l.1-1.8l0 .4l.1 2.2l.1-3.2l0-3.5l.1 5.1l0-.1l.1 1.9l.1-3.1l0 3.5l.1-.3l.1-5.3l0 4.8l.1-4.4l0-1l.1 2.8l.1-.6l0-3.1l.1 4.8l0 .8l.1 3.9l.1-5.3l0-3.2l.1 1.2l.1 4.2l0-.2l.1-.8l0-1.7l.1 1.1l.1-1l0-.6l.1 1.8l0-.6l.1-.5l.1 .6l0-1.3l.1-3.1l.1 2.9l0 1.2l.1 3.9l0-4.6l.1 5.2l.1-1.2l0-5.1l.1 .3l.1 2l0 3.4l.1-2.9l0 .6l.1-2.9l.1-3.6l0 4.5l.1 2.3l0 .8l.1-2.5l.1 .3l0 2.2l.1-2.8l.1 2.8l0-5.1l.1 .1l0 0l.1 3.5l.1-2.2l0 1.4l.1 .6l0-.1l.1 2.1l.1 .4l0-6.3l.1 3.4l.1-.9l0-1.7l.1 6.1l0-2.1l.1-2.2l.1-.5l0 1.8l.1-3.2l0 1.9l.1 3.1l.1-.6l0-3.9l.1 .8l.1 5.3l0-7.3l.1 1.7l0-1.7l.1 3.9l.1-.2l0 1.8l.1-8.2l0 6.1l.1-3.9l.1 5l0-1.8l.1 4.1l.1-2.9l0-3.1l.1 5l0-5.2l.1 1.7l.1 3.1l0-1.3l.1-.1l0-.9l.1 1.1l.1 .7l0-1.2l.1 1.6l.1 .6l0-2.8l.1-2.1l0 5.4l.1-3.4l.1 1.5l0 .7l.1-4.1l0 3.1l.1-4.5l.1 6.3l0-3.8l.1 1.3l.1 1.2l0-3l.1 1.7l0-1.7l.1 1.4l.1 2.4l0-2.3l.1-.3l.1-2l0 4.1l.1-1.9l0 3.8l.1-5.3l.1 3.8l0 4.5l.1-6.7l0-2.7l.1 5.9l.1-.9l0-.8l.1 .8l.1-3.3l0 2.6l.1 1l0-4.1l.1 3l.1-2.6l0 3.1l.1 .5l0 1.4l.1-11.2l.1 7.8l0-1.2l.1 .6l.1-.7l0 .5l.1-4.1l0 6.5l.1 1.2l.1-1.2l0 .7l.1-4.6l0-.2l.1 4l.1 .9l0-2.3l.1-3.9l.1 9.4l0-7.5l.1 3.6l0-4.7l.1 4.7l.1-1.7l0 2.7l.1-1.2l0-5.3l.1 1.3l.1 2.7l0 1.1l.1 2.3l.1-3.4l0-.8l.1 .1l0 .2l.1 2.1l.1-2.3l0-.1l.1-3l0-1.3l.1 4.7l.1 1.2l0-1.5l.1 1.2l.1 .3l0-1.5l.1 2.2l0-3.7l.1 1.7l.1-.9l0 .9l.1 1.2l0 .5l.1-1.5l.1 .6l0-1.7l.1 .5l.1 3.1l0-3.3l.1 3.2l0-1.6l.1-.7l.1 4l0-4.9l.1-.1l0 .7l.1 .6l.1-.1l0 1.3l.1-1.6l.1 1.5l0-2.3l.1 2.9l0-3.2l.1 .2l.1 .6l0 .7l.1-2.2l.1 7.6l0-7.4l.1 .5l0-.1l.1-.2l.1 2.3l0-.9l.1-2l0 .5l.1 .5l.1 3.8l0-4.6l.1-1.4l.1 .4l0 1.7l.1 4l0-5.6l.1 2.5l.1 5.3l0-6.5l.1 4.2l0-.5l.1-1.5l.1-4.2l0 3.7l.1-1.5l.1-3.3l0 .4l.1 3.8l0 .3l.1 2.2l.1-1.2l0-2.5l.1 0l0 .7l.1-2l.1 3.9l0-1.6l.1-1.7l.1 .3l0-1.1l.1 1.5l0 1.6l.1-1.5l.1 3.1l0 1.4l.1-5l0 1.4l.1-.8l.1 4.5l0-3l.1 .6l.1 .6l0 3.1l.1-4.3l0-2.8l.1 1.2l.1 2.2l0-1.3l.1-1.8l0 7.9l.1-5.9l.1-1.5l0-.3l.1-2.3l.1 1.3l0 1.8l.1 0l0-1l.1 2.9l.1-1.1l0-3.5l.1-1l0 4.8l.1-.3l.1-.5l0-2.6l.1 3.1l.1-3.4l0 5.5l.1-1.8l0 .1l.1-2.2l.1-.6l0 5.7l.1-1.3l.1-2.8l0 2.2l.1 1.9l0-5.7l.1 1.2l.1 0l0 2.2l.1-3.4l0 2.9l.1-3l.1 4.5l0-.2l.1-2.3l.1 2l0-3.1l.1 .9l0 2.7l.1-2.2l.1 .9l0-2.8l.1 3.4l0-.4l.1-3.7l.1-2.3l0 .5l.1 4.4l.1-.4l0-2.9l.1 3.7l0 1.9l.1-2.4l.1-.8l0 2.9l.1 1.8l0-.5l.1-4.7l.1 4.4l0-2.6l.1-.8l.1-.9l0 2.2l.1-1.9l0 3.1l.1-1.2l.1 1.5l0-4.8l.1 2.6l0 1.6l.1-.9l.1-.3l0-2l.1 5.1l.1-1.3l0-1.4l.1-6.5l0 3.5l.1 2.4l.1-1.9l0-3l.1 5.1l0 .3l.1-3.5l.1 1.6l0-.4l.1 2.7l.1-8.5l0 3.5l.1 2.6l0-.3l.1 6.1l.1-6l0 1.9l.1-1.4l0-.6l.1 2.3l.1 3l0-4.6l.1 2.5l.1-.9l0 .6l.1-.6l0 4.4l.1-7.9l.1 2.2l0-2l.1-1.9l.1 4.4l0 4.1l.1-2.1l0 .7l.1-1.6l.1-1.3l0 4.7l.1-5.2l0 4.1l.1-4l.1 .9l0 .4l.1-.5l.1 1l0 .2l.1 2.4l0-3.7l.1-4.2l.1-.3l0 1.5l.1 1.3l0 3.1l.1-4.7l.1 3.3l0 .1l.1 .5l.1-.9l0 1.2l.1-.8l0 2.2l.1-1.5l.1-6l0 5.3l.1 .7l0-2.1l.1-.4l.1 4.1l0-2l.1-2.5l.1 1.4l0 .3l.1-3.2l0 5l.1-1.7l.1 2.2l0-5.3l.1 7.7l0-2.9l.1-.3l.1-2.7l0 .2l.1-1.8l.1 6.6l0-5.2l.1 2.4l0 .8l.1-2.7l.1 3.3l0 2.6l.1-3.9l0 2.6l.1-1.9l.1-2.3l0 .1l.1-2.8l.1 4l0 3l.1-.6l0-.8l.1 .6l.1-3.7l0 2.5l.1 2.9l0-5.9l.1 1.8l.1-1.1l0 .6l.1-1.2l.1 1.3l0-2.6l.1 1.8l0 0l.1 0l.1 4.2l0-2.9l.1 .2l0-1l.1 3.5l.1-6.7l0 3.4l.1 2.9l.1 3.8l0-5.8l.1-.5l0 1.4l.1-1.8l.1 1.7l0-2.7l.1 4l.1-2.7l0-2.3l.1-3.5l0 8l.1-.5l.1 .1l0-3.6l.1 4.3l0-1.5l.1-1l.1 2.1l0 0l.1-1.1l.1 3.6l0-1.4l.1-2.4l0-1.2l.1 .7l.1 3.6l0-2.9l.1-2.9l0 .6l.1 1.4l.1 1.8l0-3.4l.1 2.7l.1 1.3l0-.8l.1-5l0 2.7l.1-2.1l.1 3.7l0-3.2l.1 4.4l0-1.9l.1-5.9l.1 3.8l0 2.8l.1-.9l.1-.9l0-3.9l.1 5.7l0 2.8l.1-3.3l.1-.6l0-.2l.1-2.7l0 2.2l.1-1.1l.1 4.3l0-5.8l.1-1.4l.1 3l0 1.2l.1 .2l0-3.7l.1 6.1l.1-1.8l0-1.3l.1-.6l0 2.6l.1-1.7l.1 1.3l0-.8l.1 .5l.1 2.3l0-2.5l.1-2l0 4.1l.1-1.6l.1-3.1l0 4.9l.1-2.8l0 2.8l.1-4.9l.1-2.7l0 .7l.1 5l.1-2.1l0 1.4l.1 0l0-3.2l.1 6.4l.1-5.3l0 2.4l.1-3.2l.1 2.7l0 1.9l.1-2.1l0-1l.1 1.5l.1-1l0 2.3l.1 3.6l0-6.8l.1 .5l.1 1.2l0 .2l.1-2.2l.1 3.3l0 .6l.1-1.2l0-3l.1 5.7l.1-5.7l0 4.1l.1 1l0-5.3l.1 3l.1 2.7l0-2.1l.1-2.9l.1-.5l0 3.6l.1-1.9l0-.7l.1 3.1l.1-2.3l0 .9l.1 1.1l0-.1l.1-1.2l.1 .1l0 1.3l.1-.3l.1-3.5l0 2l.1-1.5l0-.7l.1 1.4l.1-3.8l0 7l.1-3.7l0 2.5l.1-4.8l.1 .3l0 8.2l.1-2.2l.1-3.7l0-.2l.1 .1l0 1.8l.1-1.9l.1 .3l0 1.6l.1-4.1l0 9l.1-6.5l.1 3.7l0-4.4l.1 2.6l.1 1.5l0-2.8l.1 2.9l0 0l.1 1.4l.1-3.4l0-1.2l.1-1.2l0 2.6l.1-2.6l.1 2.3l0 .2l.1-1.5l.1-1l0 3.1l.1-.2l0-.2l.1-.6l.1 2.2l0-4.3l.1 3.2l0-1.9l.1 2.9l.1-2.7l0-.1l.1 1.9l.1-5.5l0 3.7l.1-3.2l0 1.9l.1 3.6l.1-.6l0-2.5l.1 1.5l.1 0l0 .8l.1 3.4l0-3.6l.1 4.5l.1-5.8l0 2.4l.1 0l0-1.1l.1-1.5l.1 4.2l0 .7l.1-1.5l.1 5.4l0-5.6l.1-5.7l0 5.9l.1-3.8l.1 4.5l0-3.7l.1 1.3l0-.5l.1-1.5l.1-2.6l0 3.5l.1 .1l.1 4l0-5l.1 1.9l0-2.4l.1 1.9l.1-4l0 8.4l.1-3.8l0-4l.1 4.1l.1 1l0-1.2l.1 2.5l.1-3.3l0-5.2l.1 2.9l0 5l.1-.5l.1-1.1l0-3.1l.1 4.1l0-.3l.1-3.6l.1 .1l0 2.8l.1 1.6l.1 1l0-1.9l.1 3.4l0-6.7l.1 3.1l.1-2.5l0-3.1l.1 1.6l0 5.2l.1-4.5l.1-.7l0 4.3l.1 .5l.1-1.9l0 3.3l.1-6.9l0 8.7l.1-2.9l.1-1.9l0-.1l.1-.9l0-.2l.1 1.1l.1-3l0 7.3l.1-4.8l.1 1.6l0-1.9l.1-.2l0 2.6l.1-.6l.1-3.3l0 1l.1 2.3l.1-6l0-.6l.1 8.4l0-4l.1-4.9l.1 3.9l0 1.2l.1 1l0 .7l.1-.7l.1 .8l0-2.9l.1 2.5l.1 .1l0 1.7l.1-2.5l0 1.8l.1-1.6l.1-2.7l0 1.5l.1-.3l0 .3l.1 .7l.1 .4l0 .4l.1-2.4l.1 4.1l0-5.4l.1 2.9l0 1.8l.1 .2l.1-.4l0-1.8l.1 1.9l0-4.1l.1 4.3l.1 3.3l0-3.4l.1 2.8l.1-4.4l0-2.4l.1 .9l0 4.4l.1-1.3l.1-5.7l0 3.3l.1 .7l0-2.3l.1-3.2l.1 2.6l0 2.6l.1-.5l.1-.6l0 3.8l.1 0l0-2.5l.1 2.2l.1-1.9l0-.4l.1-5l0 7.1l.1-1.6l.1 .1l0-1.4l.1-1.3l.1 3.4l0 .8l.1 1.8l0-1.6l.1-3.3l.1 1.1l0 2.4l.1-1.4l0-.9l.1-1.1l.1 2.4l0-.7l.1 3.5l.1-1.5l0-6.2l.1 8.5l0-4.1l.1-1.3l.1 1.4l0 .9l.1-1.6l.1-.2l0 .2l.1 4l0-3.8l.1 1.5l.1-.7l0-1.7l.1-.9l0-.6l.1 3.1l.1-3.1l0-.6l.1 .1l.1-.6l0 3.4l.1 .1l0-2.2l.1 4.9l.1-3.5l0 1.6l.1-.4l0 3.1l.1-1.9l.1-1.9l0-2.1l.1-.2l.1 2.4l0 .2l.1 1.5l0-2.8l.1 1.5l.1-2.9l0-4.3l.1 6.7l0 3.3l.1-1.5l.1 1.4l0-.6l.1-5.6l.1 2.4l0 3.9l.1-4.8l0-3.4l.1 5.6l.1 .7l0-.7l.1-1.4l0-.8l.1-1.2l.1-.1l0 .1l.1-.4l.1 1.5l0 4.9l.1-3.1l0-1.5l.1 2.1l.1-2.9l0 2.8l.1 1.3l0-5.3l.1 1.7l.1 1l0-1.6l.1-.3l.1 1.7l0 6.2l.1-2.9l0-1.6l.1 1.2l.1-2.9l0-1.9l.1 3.7l0 1.5l.1-7.1l.1 5.5l0 1.8l.1-3.3l.1-1.1l0 3.2l.1-3.3l0 3.6l.1 .2l.1-2.5l0-1.3l.1 3.1l0-2.1l.1 .9l.1-6.5l0 7.9l.1-4.7l.1 3.2l0 .2l.1-1.9l0-.4l.1-.8l.1 2.1l0 2.1l.1-.2l.1-2.3l0-.2l.1-1.8l0 2.2l.1-1.4l.1-1.1l0 3.1l.1 3.6l0 1.2l.1-1.3l.1-6.7l0 5.4l.1-4.6l.1 1.4l0-2.5l.1 1.6l0 2.5l.1 .2l.1-.7l0-.2l.1 1.6l0-1.1l.1-3.7l.1 7.4l0-4.4l.1 2.7l.1-2.5l0-1.5l.1 2.1l0-1.9l.1 5.3l.1-6.1l0 3.9l.1-2.8l0 1l.1 6.2l.1-4.1l0-2.2l.1-5.4l.1 5.3l0 0l.1 3.8l0-6.4l.1-.8l.1 4l0 .5l.1 3.1l0-5.6l.1-4l.1 4.4l0-1.2l.1 1.6l.1 3.4l0-5.2l.1 5.8l0-2.3l.1-1.1l.1-1.4l0 1.1l.1 .1l0 2.5l.1 1.2l.1-3l0 1.7l.1 1.3l.1 0l0-1.8l.1 3.1l0-1.2l.1 .7l.1-4.1l0-.5l.1-3.6l0 7.9l.1-1.9l.1-3.5l0 2.5l.1 .3l.1-4.6l0 4.6l.1 3.6l0-1.4l.1-3.7l.1 0l0 3.8l.1-.9l.1-3.4l0-.1l.1 2.8l0-2.9l.1 .1l.1 8.1l0-6.1l.1-1.6l0 2.2l.1 3.5l.1-4.1l0-2.4l.1-4.3l.1 10.9l0-10.7l.1 8.3l0-4.6l.1-2.6l.1 1l0 3.4l.1 2.9l0-4l.1 3l.1 4.1l0-12l.1 4.7l.1-2.4l0 6.1l.1-5.4l0-.2l.1 0l.1 3.6l0 2.6l.1-2.3l0 8l.1-4.6l.1-4l0 4l.1-3.4l.1-.1l0-4.6l.1 1.4l0 3l.1-2.8l.1 5.7l0-1.7l.1-3.3l0 4.8l.1-2.2l.1 2.4l0-3.2l.1-3.4l.1 5.3l0-2.2l.1 2.5l0 .6l.1 .2l.1-6l0-2.1l.1 4.2l0 2.7l.1-3.2l.1 2.4l0-2.6l.1 1.2l.1 0l0-.7l.1 2.6l0-.4l.1 3l.1-2.2l0 1.5l.1-2.9l0 3.4l.1-3.9l.1-.8l0 4.2l.1-1.4l.1 .3l0-3.7l.1-2.2l0 1.9l.1 2.7l.1-4.1l0 6.7l.1-6.7l0 4.8l.1 4.7l.1-12.1l0 2.4l.1 5.8l.1-2.7l0 .9l.1-.7l0 3.5l.1-1.8l.1-2.5l0 .5l.1-2.2l.1 2.5l0-5l.1 6.8l0-2.2l.1 4.9l.1-1.5l0-7.8l.1 7.1l0-3.3l.1 1.4l.1 2.2l0-1.6l.1 .4l.1-.1l0-2.8l.1 .3l0 2.7l.1 .8l.1-2.7l0 .8l.1-2.5l0-3.6l.1 4l.1 2l0 .3l.1 1.5l.1 .1l0 .3l.1-1.4l0 .1l.1-2.6l.1 3.1l0-1l.1 2.2l0-6.4l.1 2.6l.1-2.9l0 2.2l.1-1.5l.1 3.9l0-2.2l.1-4.4l0 8.8l.1-5.4l.1-1.2l0 2.9l.1-.8l0-1.1l.1 4.3l.1-2.4l0 2.9l.1-.4l.1-.2l0-1.1l.1-.6l0-.7l.1 4.3l.1-7.8l0 1.9l.1 1l0 2.4l.1-.6l.1-1.4l0 .3l.1 4.8l.1-5.6l0-5l.1 11l0-6.6l.1 1.5l.1 1.1l0-3.4l.1 7.7l0-5l.1-2.9l.1 3.8l0 .5l.1-1.2l.1 1.2l0-7l.1 8.1l0-5.5l.1 6.3l.1-4.4l0 1.8l.1 5.7l.1-6l0 2.5l.1-1.5l0-4.5l.1 6.1l.1-.1l0-5.8l.1 3.1l0-3.3l.1 2.8l.1 2.8l0-1.9l.1-3l.1 .7l0 2.1l.1-.1l0 .4l.1 2l.1-6.7l0 4.4l.1 2.6l0-1.5l.1-2.7l.1 .1l0 1.8l.1 1.3l.1-1.6l0 3.9l.1-.9l0-4.8l.1 2.9l.1-1.9l0-2l.1 1.3l0 1.5l.1-4.9l.1 3.4l0 2.3l.1-2.5l.1 .8l0 2.9l.1-2.1l0 .5l.1 4.1l.1-4.1l0 .3l.1 .3l0 2.8l.1-3l.1-.7l0-.3l.1 2.8l.1-4l0 4.2l.1-2.3l0-3.5l.1 4.6l.1-.4l0-3.6l.1 3.3l0-.2l.1-1.2l.1-1.9l0 7.5l.1-3.2l.1 2.1l0-1.5l.1-.5l0-.1l.1-2.6l.1 2.8l0-2.4l.1-.6l0 2.6l.1-2l.1-3.4l0 3l.1 2.2l.1-1.3l0 1.9l.1-2.7l0-1.4l.1 3.9l.1-1.4l0-3l.1 3.7l.1-1.9l0 3.1l.1-.5l0-.7l.1-6l.1 5.7l0 .3l.1 .1l0-.9l.1-1.8l.1 1l0-4.2l.1 4.1l.1-2.7l0 2.6l.1-.7l0 4.6l.1-3l.1-.1l0 .4l.1 4.2l0-6.7l.1 2.8l.1 .1l0-.4l.1-.1l.1-1.4l0 5.8l.1-2.8l0-2.7l.1 .3l.1 1.2l0 .4l.1 .6l0-1.7l.1-2.8l.1 5l0-5.8l.1 1.5l.1 2.9l0-2.7l.1 5l0 .6l.1-1l.1-2l0-.2l.1 .5l0-1.4l.1 5l.1-5.9l0 4.3l.1-1.7l.1-.6l0 1.7l.1 .5l0-.8l.1-2.3l.1-1.3l0 .1l.1 3.4l0-.4l.1 1.7l.1-4.5l0 5.6l.1-7.3l.1 3.8l0 .7l.1-2.5l0-1.6l.1 1.6l.1-1.6l0 2l.1-2.4l0-.1l.1 3l.1-3.4l0 2.9l.1 .1l.1 2.3l0-1.4l.1-2.4l0 4.7l.1-4.4l.1 .6l0 .2l.1 5.6l0-4.7l.1-1.7l.1 3.1l0-1.9l.1 5.5l.1-6.8l0 3l.1-4.8l0 7.4l.1-6.7l.1 3.2l0-2.4l.1 3.9l.1-.7l0-6.4l.1 6.9l0-.3l.1-1l.1 1.7l0-4.9l.1-1.2l0 5.4l.1 2.3l.1-8.3l0 1.9l.1 .7l.1-.8l0 4.6l.1-1.6l0 2.7l.1 .1l.1-5.4l0 3.7l.1-6.6l0 5l.1 1.6l.1-3.3l0-2.2l.1 2.9l.1 3.8l0-3.5l.1-2.3l0 4.2l.1 .7l.1-4.1l0 2l.1 2.8l0-1.6l.1 .8l.1-2.3l0 .4l.1-2.4l.1 1l0 5.1l.1-4.4l0-1.1l.1 1l.1-1.3l0 3.6l.1 .8l0-4.2l.1 4.5l.1 2.5l0-7.2l.1 3.9l.1-.9l0 2.4l.1-.1l0-.4l.1-1.8l.1-2.2l0 6.6l.1-6.9l0 4.4l.1-.3l.1-3.9l0 1.7l.1 3.3l.1-7.6l0 6l.1-2.4l0 .1l.1-2.7l.1 4.1l0-3.2l.1 5l0-5.3l.1 4.2l.1-.9l0-5l.1 3.5l.1 .5l0-8.3l.1 7.7l0 2.6l.1-3.4l.1 4.3l0-5.2l.1-.2l.1 4l0 .1l.1-1.8l0 .4l.1 2.2l.1-3.4l0 5.8l.1-3.6l0-.1l.1-.3l.1-1.3l0 3.5l.1-4.1l.1 1.7l0 1.1l.1 3.7l0-2.5l.1-3.5l.1 3l0-2.3l.1-2.3l0 .1l.1-1.2l.1 4.2l0 1.7l.1-4.7l.1 1.6l0-1.8l.1 2.5l0-2.7l.1 .8l.1 .3l0 .5l.1 .2l0 .4l.1 0l.1-1.7l0 3.4l.1-5.1l.1 4.2l0-2.5l.1 2.6l0 .2l.1-5.1l.1 5.2l0 2.2l.1-1.3l0-.9l.1-5.5l.1 4.4l0-1.7l.1 4.4l.1-3.1l0-.7l.1-2.5l0 5.6l.1-2.9l.1 .6l0 3l.1-2.2l0 .5l.1 4.6l.1-6.5l0 .1l.1 2.2l.1 2l0-6.3l.1 2.7l0-1.7l.1-.8l.1 4.3l0-3l.1 2.4l0-.4l.1 0l.1-.2l0-2.5l.1 2.2l.1 .7l0 .2l.1-1.3l0 2.7l.1-.9l.1-.9l0 1.1l.1-1l.1 1.1l0-5.9l.1 1.5l0 2l.1 1.2l.1-5.1l0 4.2l.1 .9l0-.9l.1-.4l.1-2l0 3.2l.1-4.8l.1 8.1l0-4.9l.1 3.8l0-6.3l.1 4.8l.1-.6l0-3.7l.1 .7l0 5.3l.1-1.7l.1 2.3l0-3.4l.1 .5l.1 .6l0 .8l.1-.7l0 2l.1-4.1l.1-2.2l0 7.7l.1-4l0 .7l.1-2.1l.1 3.3l0-1.9l.1 2l.1-3.8l0 1.3l.1 .6l0-1.2l.1 1.4l.1 2.9l0-4.8l.1 .7l0 1l.1-2.6l.1-.5l0 5.2l.1-.7l.1-5.2l0 .2l.1 4.9l0 2.8l.1-3.1l.1-.3l0 2.5l.1-3.6l0 2.9l.1-.2l.1-4.7l0 3.5l.1-1.3l.1-1.6l0-.4l.1 2.6l0-.9l.1 3.3l.1-7.1l0 1.4l.1 5l0-2.5l.1-1.6l.1 .5l0-3l.1 1.1l.1 4.2l0-1l.1 2.7l0-3.4l.1 .2l.1-5.7l0 5.8l.1 4.9l0-2.1l.1-2.8l.1 3l0 .5l.1-2.5l.1-1.5l0 1.1l.1 1.6l0-3.7l.1 2.9l.1-.1l0 2l.1-1.3l.1-3.2l0 5l.1-3.4l0-1.8l.1 2.5l.1-1.4l0 3l.1-5.4l0 .5l.1 1.9l.1 4.4l0-1.5l.1-4.6l.1-1.6l0 3.2l.1-2.2l0 4.2l.1-1l.1-.4l0-.9l.1 4.3l0-5.5l.1-.8l.1 5.5l0 .5l.1-3.9l.1 2.3l0 3.8l.1-7.1l0 1.5l.1 1.4l.1-5.8l0 4.4l.1 2l0-1.9l.1 2.5l.1-.6l0-2.5l.1 2.1l.1 .4l0-5.4l.1 1.8l0 .1l.1 .6l.1 .1l0-2.1l.1 3.3l0-4.2l.1 6.2l.1-1.5l0 2.5l.1-2.3l.1-1.9l0-2.1l.1 4.7l0-1.5l.1 .8l.1 2l0-.1l.1-2.8l0 4l.1-4.1l.1 .2l0 1.5l.1 2.4l.1 1.4l0-12.4l.1 10.1l0-6.5l.1 2.2l.1 2.1l0 1.8l.1-4.9l0-1.5l.1 5.9l.1-1.4l0-3l.1 1.6l.1-3.8l0 5.8l.1-2.5l0 4l.1-7.5l.1 6.4l0 3.3l.1-4.7l.1 0l0-4.6l.1 5.1l0-.8l.1-1.3l.1-2.2l0 3.7l.1-2.5l0 1.2l.1 1.8l.1-.9l0 .1l.1 3.6l.1-6.2l0 5.8l.1-5.7l0 .5l.1 2.5l.1 1.3l0-1.2l.1-1.5l0-.6l.1 1l.1-1.6l0 3.5l.1-2.2l.1 4.4l0-6.4l.1 2.6l0 1.9l.1-4.2l.1 1.1l0 7.8l.1-6.4l0 3.4l.1-5.7l.1-3.1l0 6.7l.1-1.3l.1 .7l0-1.4l.1-.6l0-1.5l.1 5.1l.1-5.7l0 5.6l.1-2.7l0-2l.1 1l.1 3.7l0-.5l.1-.5l.1-1l0-2.6l.1 5.4l0-3.9l.1-.3l.1 .1l0 .2l.1-2.4l0 2.3l.1-.8l.1-.2l0-1.9l.1 11.2l.1-10l0 3.4l.1 0l0 1.6l.1 2l.1-3.3l0 .7l.1-2.7l0 4.4l.1-6.5l.1 2.6l0 1.6l.1 .6l.1 .2l0 .7l.1-1.3l0-1.2l.1 .4l.1 2.8l0-2.6l.1 1.4l0-2.3l.1-3.8l.1 2.7l0 2.1l.1 3l.1-.5l0 .6l.1-5.4l0 3.3l.1-1.9l.1 1.6l0-1.6l.1-2.9l.1 4.7l0-.8l.1 1l0-3.7l.1 4.2l.1 .3l0 .5l.1 .1l0-4.2l.1-4.7l.1 7.9l0-4.3l.1 1.6l.1 3l0-1.9l.1-.1l0 1.1l.1-5.9l.1 8.6l0-5.1l.1 .1l0 2l.1-1.8l.1-2.8l0 3l.1-.6l.1-.6l0 6.1l.1-7.9l0-1.8l.1 2.9l.1 0l0 5.4l.1-2.9l0 1.5l.1-.5l.1-3.4l0 3.9l.1-1.5l.1 4l0-3.9l.1-.6l0 1.8l.1 0l.1-5.8l0 8.8l.1-2.2l0-.6l.1-4.5l.1-5.3l0 7.3l.1 2.3l.1-.6l0-3.4l.1 4.5l0-5.3l.1 .1l.1 3l0-1.3l.1-.3l0-1.8l.1 5.9l.1-5l0 3.5l.1 .8l.1-1.9l0 .7l.1 1.7l0 1.4l.1-1.5l.1-5.3l0-1.2l.1 3l0-3.1l.1 5.7l.1-1l0-.8l.1 3l.1-.2l0-2.4l.1 .9l0 1.7l.1-3.2l.1 1.4l0-2.9l.1 2.3l.1 .7l0-1l.1 .7l0 1.1l.1-.6l.1-2.6l0 .3l.1-1.5l0 6.7l.1-2.9l.1 0l0-1.3l.1 1.4l.1 .2l0-2.9l.1 1.3l0 3l.1-5.6l.1 .8l0 3.5l.1-3.1l0 3.5l.1-4.2l.1 3l0 1.3l.1-.9l.1 .8l0-2.1l.1 0l0 .3l.1 1.4l.1 6.9l0-8.4l.1 7.4l0-7.7l.1-2l.1 1.9l0 1.5l.1-.5l.1-.1l0 1l.1 0l0 .8l.1-4.7l.1 2.7l0-2.2l.1 2.7l0-.7l.1 .5l.1-2.1l0-.1l.1 1.3l.1 2l0 .3l.1-5.5l0 4.3l.1 .1l.1-4l0 .9l.1 1.2l0 2.1l.1-6.1l.1 4.3l0-.3l.1 1.6l.1 2.8l0-.2l.1-3.9l0 0l.1 1.8l.1 1.7l0 .6l.1-2.4l0 2.5l.1-5.3l.1-.6l0-3.7l.1 4.4l.1 3.2l0 .7l.1 5.7l0-6.3l.1-.7l.1-2.8l0 .8l.1 0l.1 .8l0-1l.1-1.7l0 5.6l.1-1.4l.1 2.1l0-6.7l.1 .7l0 1.2l.1 4.4l.1-3.1l0 .9l.1-.7l.1 .9l0-1.8l.1 2l0-2.8l.1 1.4l.1 1.2l0-.3l.1 .6l0-2.8l.1 2.4l.1-1.2l0 1.5l.1 2.4l.1-5.3l0 4.4l.1-3.9l0 .6l.1 4.6l.1-1.6l0-.9l.1 .7l0 .8l.1-4.3l.1 2.2l0-1.4l.1 1.8l.1-1.7l0 2.4l.1-1.6l0-2.3l.1 2.1l.1 1.1l0 1.5l.1-2.9l0-.4l.1 1.4l.1 1.1l0-2.9l.1-4.3l.1 6.2l0-1.4l.1-.1l0 6.6l.1-6.1l.1 1.9l0-4.7l.1 4.1l0 .8l.1-1.3l.1-.9l0 1.7l.1-1.2l.1 3l0-2.6l.1-2.2l0-2.7l.1 2.8l.1 1l0-2l.1 .3l0-1.4l.1 1.3l.1 2.7l0-.9l.1 .2l.1-.3l0 .3l.1 2.2l0 2.9l.1-3.2l.1 3.1l0-4.7l.1 .1l0 3.8l.1-6.4l.1 .7l0 1.7l.1-3.5l.1-.5l0 6.9l.1-5l0 1.3l.1 .1l.1-1.2l0 3.7l.1-.3l.1 .6l0-.2l.1-1.5l0 3.1l.1-.9l.1-3.7l0 1.5l.1-1l0 5l.1-1.2l.1-1.7l0-1.4l.1 1.4l.1-3.4l0 2.3l.1-.2l0 0l.1-1.6l.1 2.7l0-3.6l.1 .8l0 1.4l.1 .2l.1-1l0-1.1l.1 .1l.1 1.3l0-1.1l.1 1.7l0-2.6l.1 2.9l.1 4.6l0-7.7l.1 2.8l0 2.8l.1-2.1l.1 1.5l0-6.7l.1 3.6l.1 4.6l0-4.7l.1 2.1l0-5.2l.1 6.7l.1 6.2l0-8.7l.1 .9l0 .2l.1 3.8l.1-5.7l0-2.8l.1 8l.1-6.9l0 3.9l.1-6.5l0 4.2l.1 1.4l.1-2.9l0 1.3l.1 2.5l0-2.9l.1 2.8l.1 2.8l0-8.5l.1 5.3l.1 .6l0-2.1l.1 4.2l0-.5l.1-1.9l.1 .1l0-1.3l.1-2.4l0 3.6l.1-2.2l.1-.2l0 3.7l.1-2.9l.1 2.6l0-4.5l.1 1.4l0 1l.1 3l.1-3.2l0 1.9l.1-3.3l.1 1.9l0 1.5l.1-3.8l0 .4l.1 3.9l.1-4.9l0 3.3l.1 0l0-1l.1 2l.1-.7l0-.6l.1-3.8l.1 .1l0 3.9l.1-4.2l0 3.7l.1-.9l.1-1.2l0 1.4l.1-8.6l0 8.7l.1 3.2l.1-5.6l0 4.5l.1-.9l.1 6l0-8.9l.1 .4l0-1.2l.1 .8l.1-1.6l0 3.9l.1-2.2l0 3.8l.1-.9l.1-3.1l0 1.4l.1 3.9l.1-3.8l0 1.2l.1 1.5l0-2.8l.1 1.8l.1 2.6l0-1l.1-6.4l0 7.3l.1-3.9l.1-.8l0-.1l.1 4.2l.1-2.1l0-1l.1-1.5l0 3.3l.1 1.1l.1-4.8l0-.3l.1 1.7l0 2.2l.1-2.3l.1 .7l0-1.7l.1 4.7l.1-3l0 .6l.1 2.1l0-3l.1 .4l.1 1l0-1.8l.1 4.1l0-3.1l.1-1l.1 .3l0-1.8l.1 5.1l.1 .7l0-3.9l.1-.5l0-3.7l.1 3.3l.1 3.4l0-3.8l.1 3.7l0 1.4l.1-9.1l.1 5.1l0-.9l.1 .4l.1-2.8l0 3.4l.1-2.1l0 5l.1 .8l.1-6.3l0-.1l.1 2.2l.1 .6l0 .1l.1 2l0-5l.1 1.9l.1 .4l0 .3l.1-1.5l0 1.2l.1-.5l.1 4.2l0-3.7l.1-3.8l.1 6.1l0-.9l.1-2.3l0-.1l.1 .7l.1 5l0-5.5l.1 4.6l0-.8l.1-3.1l.1 1.9l0-2.5l.1-5.2l.1 5.3l0 .1l.1 3.6l0-.5l.1 .9l.1-1.2l0 1.3l.1-1l0-1l.1 1.8l.1 .9l0-.1l.1-4.1l.1 .9l0-2.2l.1 0l0 3.1l.1-2.3l.1 4.7l0-8.3l.1 2.4l0 3.2l.1 3.9l.1-5.2l0 5l.1-2.4l.1-3.5l0 1.6l.1 1.2l0-3.2l.1 4.4l.1-2.9l0 1.7l.1 .8l0-2.9l.1 3.2l.1-6.4l0 5.5l.1-5.7l.1 6.9l0-3.8l.1 5.9l0-1.6l.1-3.3l.1-1.2l0 4.4l.1-5.5l0 4.4l.1-2.3l.1-.3l0-.5l.1 5.3l.1-7.6l0 2.4l.1 2.2l0 1.3l.1 1.5l.1-.7l0-4.3l.1 2l.1 1.8l0-1.4l.1-4.7l0 4.3l.1 .5l.1-4.3l0 2l.1 .9l0 1.5l.1 2.1l.1-.9l0-1.5l.1-.6l.1-1.3l0-.4l.1 .7l0 0l.1 2.8l.1 2.5l0-3.6l.1 1l0-.7l.1-.9l.1 2.2l0-.3l.1-2.3l.1-.4l0 1.7l.1-2.6l0 1.6l.1 1.8l.1-2.4l0-4.1l.1 5.7l0-4.1l.1-.5l.1-.2l0 5.2l.1-6.4l.1 4.3l0 .8l.1-.1l0-1.8l.1 1.2l.1 .5l0-3.2l.1 4.4l0 .8l.1-4.2l.1 .2l0-.8l.1 4.8l.1-4.8l0 1.3l.1-2.8l0 6.7l.1-3.3l.1 1.1l0 3l.1-2l0-4.1l.1 3.6l.1 .5l0-4.9l.1 1.1l.1 0l0 4l.1-1.6l0-2.5l.1 3.8l.1 .2l0-3.5l.1-1.7l0 6.1l.1 3.2l.1-2.5l0 .6l.1-3.6l.1-2.6l0 2.6l.1 1.3l0-1.9l.1 2.5l.1-2.1l0 1.4l.1-7.5l.1 4.2l0 3.7l.1 .4l0-.6l.1 2l.1-2l0 0l.1-3.7l0 3l.1 .8l.1 1.2l0-.3l.1-2.5l.1 .3l0-3l.1 4.9l0-4.7l.1 1.3l.1 1l0 4.5l.1-1.6l0-5.7l.1-.3l.1 2.7l0-1.3l.1 2.6l.1 0l0 .6l.1-3.7l0 1.5l.1 1.2l.1 .3l0-2l.1 .5l0 2.6l.1-5.7l.1 3.2l0 .6l.1-3.3l.1 1l0 2.5l.1-1.4l0 3.6l.1-.9l.1 3.6l0-7.8l.1 7l0-5.8l.1 3.4l.1 .3l0-1.7l.1-1.1l.1-.7l0-2.6l.1 3.1l0-2.5l.1 5.6l.1-3.9l0 1.3l.1 1.4l0-.9l.1 0l.1-.6l0-.5l.1 2.1l.1 .5l0-3.4l.1 8.2l0-5.1l.1-7.3l.1 12l0-4.5l.1-3.1l0 5.2l.1-9.5l.1 11.6l0-9l.1-.3l.1 1.5l0 2.5l.1-1.3l0 2.8l.1-3.8l.1 4.3l0-1.9l.1-2.8l0 4.7l.1-1.7l.1-1.1l0 3.3l.1-5.6l.1 1.9l0 4.1l.1-3.3l0 1.7l.1-.3l.1-1.7l0 1.8l.1-3.7l.1 3.7l0-3.8l.1 2.3l0-2l.1 3.1l.1 0l0 1.4l.1-3.9l0-.8l.1-5.9l.1 5.1l0 2.4l.1 1l.1-2l0 1.6l.1-3.4l0 1.2l.1 4l.1-.3l0-4.6l.1 2.3l0 1.2l.1-3.1l.1 3.5l0-.3l.1 .5l.1 3.3l0-6.3l.1 4.6l0-1.4l.1 .4l.1-3.3l0 1.8l.1-.2l0 3.8l.1-3.6l.1 3.1l0-4l.1-.1l.1 .9l0-4.6l.1 2.5l0 .7l.1 .8l.1 1l0-2.6l.1-.3l0 5.3l.1-5.2l.1 1.2l0-1l.1 1.1l.1 3.8l0-.2l.1-6.7l0 3.6l.1 3.7l.1-4l0 1.6l.1 3.3l0 1l.1 1l.1-7.1l0 1.1l.1 .5l.1-1.2l0-.7l.1 6l0-4l.1 1.2l.1 .9l0-.7l.1-1.8l0 .3l.1 2.7l.1-2.2l0-5.6l.1 6.9l.1 1.4l0-4.4l.1-.7l0 .3l.1 3.5l.1-4.7l0 4l.1 .8l.1-1.2l0-1.1l.1-1.9l0 .2l.1 1.5l.1-2.2l0 1.9l.1-1.8l0 5.2l.1 .3l.1-5.2l0 4.8l.1-1.9l.1-1l0 .9l.1-.1l0-4.1l.1 8.8l.1-7.7l0-3.1l.1 5.1l0 .1l.1-1.7l.1-2.5l0 6.8l.1-2.9l.1 .6l0-2.5l.1 1.8l0-1.2l.1 2.5l.1-1.2l0 1.7l.1 0l0-1.2l.1 .3l.1 2l0-6.1l.1 3.8l.1 2.8l0-5.5l.1 4.1l0-2.8l.1 1.2l.1-.6l0 .1l.1 1.7l0-1.4l.1-4.4l.1 9.5l0-5.1l.1-.9l.1 3.4l0 .7l.1-7.9l0 5.7l.1-5.5l.1 3.4l0 1.1l.1-.9l0-1.4l.1-.2l.1 1.6l0 .5l.1 .1l.1-2.6l0 1.2l.1 4.1l0-.9l.1-2.1l.1 2.1l0-.5l.1 1.3l0-1.6l.1-1.5l.1-1.3l0 2.2l.1-4.6l.1 4.8l0-7.3l.1 4.9l0 1.1l.1 2.2l.1 5.2l0-5.9l.1-.8l.1-3.9l0 7.4l.1-10.3l0 7.8l.1-2.2l.1 7.3l0-6l.1 1.1l0-2.3l.1 1.3l.1 2.8l0-4.7l.1 .6l.1 .2l0-.9l.1-.2l0 2.5l.1 3l.1 2.2l0-8.3l.1 1.4l0 1.4l.1 1.2l.1-1.1l0 .1l.1 .8l.1 .8l0-6.4l.1 4.3l0 1.9l.1 1.5l.1-1.3l0-3.2l.1-.1l0 2.2l.1-.6l.1 .8l0 1.8l.1-5.4l.1 2.1l0-4.7l.1 7.2l0-1.4l.1-2.3l.1 2.6l0 2.5l.1-1l0-2.5l.1-.9l.1 1.5l0-2.4l.1 0l.1 1.5l0 .7l.1 .6l0-1.8l.1-.8l.1 1.9l0-.9l.1 1.7l0 2.5l.1-.9l.1-4l0 .7l.1-2.5l.1 3.4l0-1.8l.1-1l0 .7l.1 3.6l.1-1l0-.7l.1 2.5l0-3.2l.1-1.3l.1 3.4l0-5.5l.1 5.1l.1-.2l0 .1l.1 1l0-2.5l.1 .9l.1-3.7l0 1.4l.1 1.1l0 1.7l.1 2.7l.1-3l0 1.7l.1-4l.1 2.2l0-3.8l.1 2.1l0-.2l.1 1.3l.1 .1l0-1l.1-.6l.1 3.6l0-2.7l.1-4.7l0 6l.1 .4l.1 2.1l0 .6l.1-5.9l0 2.5l.1-.5l.1-3.5l0-1.5l.1 7.6l.1-4.3l0 .9l.1 .5l0-.2l.1 1.2l.1-3.6l0 2.1l.1 .1l0-1.5l.1 .8l.1 1l0 .3l.1-3.2l.1 2.8l0 1.3l.1 1.7l0-1.1l.1 1.6l.1-2.6l0-.8l.1 5.6l0-4.6l.1-1.4l.1 1l0 4l.1-6.4l.1 4.4l0 1.2l.1-.4l0-2.3l.1-2.3l.1-.4l0 2.1l.1 3.2l0-1.2l.1 .5l.1-1.6l0 3.6l.1-4.2l.1-1.2l0 1.8l.1-1.4l0 3.1l.1 1.2l.1-1.9l0-4l.1 .3l0 3.3l.1-3.7l.1 3.4l0-4.1l.1 2.3l.1 2.1l0-2.8l.1 3.6l0 .3l.1 1.2l.1-3.9l0 .7l.1 .1l0 .7l.1-4.1l.1 4.2l0 .6l.1-4.4l.1-2.6l0 4.7l.1 4.6l0-2.5l.1-2.7l.1 1.3l0-3.5l.1 6.6l.1-4.6l0 2.9l.1-4.3l0 3.1l.1-4.1l.1 5.4l0 1.7l.1-.7l0-1.1l.1 .9l.1-5l0-.3l.1 2.4l.1 2.9l0-2l.1 1.3l0-4.8l.1 2.5l.1-.4l0 2l.1 3.6l0-2.8l.1 .8l.1-3.3l0 .6l.1 2l.1-.9l0-4.4l.1 5.7l0 1.3l.1-3l.1 1.1l0-.6l.1-2.2l0-2.7l.1 7.9l.1-3.9l0-.2l.1 .3l.1 .2l0 .4l.1-3l0 3.3l.1-.8l.1-.3l0-.2l.1 .6l0-2.6l.1 2.2l.1-.4l0 .5l.1 2.2l.1-.4l0 .5l.1-2.8l0 2l.1 .8l.1-2.9l0-.7l.1 5.2l0-7.8l.1 3.7l.1 .4l0-2.7l.1 2.3l.1 1.5l0-6.3l.1 7.3l0-2.2l.1-2.1l.1 4.3l0-2.2l.1-1l0-8.3l.1 12.5l.1-3.3l0-1.6l.1 1.3l.1 4.8l0-6.1l.1 1.3l0-.8l.1-1.5l.1 .3l0 1.3l.1 .2l0 4.9l.1-3.9l.1-.8l0 1.4l.1-1.1l.1 2.1l0-5.3l.1-1.4l0 5.7l.1-1.8l.1 1.4l0-3.3l.1 1.8l.1 .8l0 .7l.1-.8l0 2.6l.1-3.8l.1 4.2l0-3.9l.1 .9l0-2.1l.1 2.5l.1-2.4l0 4.4l.1-3.4l.1 1.8l0-.9l.1 .3l0-2l.1 6.6l.1-5.2l0 4.1l.1-6.1l0 7.1l.1-2.1l.1 1.5l0-7.4l.1 6.5l.1-3.1l0 1.4l.1 2.8l0-3.2l.1-2.3l.1 1.9l0-2.5l.1 2.9l0-.8l.1 .9l.1-1.6l0-3.5l.1 3.4l.1 .4l0 1.8l.1 .3l0-5l.1 5.8l.1-.4l0-1.9l.1 .8l0-5.4l.1 13.4l.1-9.8l0-.8l.1 4.1l.1-1l0-2.4l.1-2.7l0 5.7l.1 1.5l.1-5.8l0-3.6l.1 6.6l0 4.2l.1-8.2l.1 3.7l0-3l.1 2.6l.1 .8l0 .8l.1-5l0 .1l.1 8l.1-2.7l0-6.1l.1 4.8l0 2.3l.1-3.1l.1 .3l0-.1l.1 1.6l.1-1.1l0 .3l.1-1.7l0 2.5l.1-1.1l.1-.4l0-3.2l.1 2.1l.1 1.2l0-1.6l.1 .3l0-1.5l.1 1.3l.1-2.9l0 1l.1 3.1l0 .8l.1-2.9l.1 .9l0 1.3l.1 3.1l.1 .8l0-4.9l.1-.9l0-.1l.1 4.7l.1-5.2l0 3.5l.1-2l0-.1l.1 2.7l.1-.5l0 3.4l.1-2.6l.1 2l0-5.1l.1 .9l0-3.4l.1 2.7l.1 2.2l0-2.2l.1 1.7l0-2.2l.1 .1l.1 3.4l0-2.2l.1-.1l.1 .8l0-2.7l.1-1.8l0 4.6l.1 0l.1 4.3l0-4.8l.1 .7l0 7.2l.1-8.8l.1-.7l0 3l.1-.8l.1 1.3l0-3.9l.1 5.1l0-2.7l.1-5l.1 4.2l0-.9l.1 1.3l0 2.3l.1-2.5l.1-1l0 3.2l.1-3l.1-4l0 2.3l.1 6l0-1.4l.1 1.4l.1-6l0 1.1l.1-.3l0 3.6l.1 .6l.1-2.8l0 0l.1 2.1l.1-2.2l0-1.1l.1 .9l0 2.8l.1 2.4l.1-4.1l0-.9l.1 .9l.1 .4l0 .6l.1-3.2l0 1.7l.1-.4l.1 2.5l0-.8l.1-1.7l0 2.6l.1 .5l.1-2l0-3.5l.1 2.3l.1-2.8l0 3.5l.1 .4l0 2.4l.1-1.8l.1-4.5l0 2.5l.1-.9l0 0l.1 1.6l.1 .5l0-.7l.1-1.3l.1 .5l0-.1l.1 .8l0 2l.1-1.1l.1 1.5l0-4.3l.1 10.2l0-7.5l.1-5.8l.1 6.1l0 1.8l.1-2.5l.1-3l0 3.3l.1-1.8l0 1.2l.1 1.1l.1-7.9l0 6.9l.1 1.3l0-.1l.1-1.9l.1-.1l0-.8l.1 1.4l.1 3.5l0-4.4l.1 1.9l0 0l.1 2.6l.1-2l0 .3l.1-1.4l0 3.1l.1-3.4l.1-.2l0 2.8l.1-1.1l.1 .5l0-3.9l.1 7.7l0-4.9l.1 5.5l.1-5.3l0-2.9l.1 3.3l0-1.7l.1 2.2l.1-6.2l0 2.3l.1-2.3l.1 7.3l0 1.2l.1-6.6l0 2.9l.1 .1l.1-1.3l0 3.5l.1-4.5l0 1.7l.1-1.1l.1 2.6l0-2.6l.1 3.8l.1-4.8l0-.4l.1 .5l0 .9l.1-.3l.1 7.5l0-7.9l.1 2.4l.1-.8l0 .9l.1 2.4l0-1.9l.1-2.7l.1-1.6l0 4.5l.1 .6l0-5.2l.1 5.2l.1-6.6l0 4.5l.1 2.1l.1-4.2l0-1.6l.1 7l0-6.7l.1 4.2l.1-4l0 4.2l.1 2.6l0-4.6l.1-1l.1-2.6l0 .9l.1 2.3l.1 2.1l0 .6l.1-.5l0 2.5l.1-2.6l.1 5.1l0-6.1l.1 .5l0-9.8l.1 8l.1 2.8l0-2.3l.1 4l.1-1.4l0 2.8l.1-7.4l0 1.9l.1 5.8l.1-4.3l0-2.3l.1 1l0 .3l.1 2.7l.1-.5l0-1.7l.1-3.2l.1 6.7l0-.7l.1-5l0 4.6l.1-4.5l.1 1.9l0-1.4l.1-2l0 2.4l.1-.2l.1 3.8l0-.5l.1-3l.1-4.4l0 2.7l.1-2.1l0 4.5l.1 .3l.1-1.8l0 2.2l.1 .2l0 3.8l.1-6.2l.1 4.6l0-3.5l.1 4.3l.1-5.6l0 4.7l.1-4.2l0 5.5l.1-2.6l.1-3.6l0 4.4l.1-1.9l.1 1.2l0 4.1l.1-5.9l0-.9l.1 4.1l.1-3.8l0 3.1l.1 .5l0-2.3l.1 1.5l.1-6.6l0 11l.1-7.5l.1-.6l0 6.6l.1-.5l0-5.1l.1 2.3l.1-1.9l0-1.7l.1 3.4l0 1.5l.1 8l.1-10.8l0 2.5l.1-2.8l.1 .2l0 3.6l.1-6.9l0 1.4l.1 .5l.1 4.6l0-1.8l.1 .3l0-.3l.1 1.6l.1-3.5l0 .5l.1-.3l.1 2.7l0-4.8l.1 2.5l0 6.5l.1-4.6l.1-1.4l0-2.2l.1 2.8l0-.1l.1 .9l.1-3l0 2.5l.1 .4l.1 .3l0-3.8l.1 3.3l0 2.6l.1-5.2l.1 3l0-2.4l.1 0l0-1.9l.1 .4l.1 3.6l0-.9l.1 2.5l.1-6.6l0 2.7l.1-2.1l0 3.8l.1 3.9l.1-8l0 3.2l.1-.1l0 .2l.1-1.3l.1 .2l0 4.8l.1-6l.1 3.6l0 .6l.1-5.6l0 1.8l.1 2.8l.1 3.4l0-4.5l.1-.9l0 1.4l.1 2.6l.1-1l0 1l.1-3.3l.1-1.3l0-.5l.1 4l0-2.2l.1-.7l.1 2.4l0-.8l.1-5.1l.1 4.3l0-1.6l.1 3l0-1.1l.1 4l.1-3.8l0-2.7l.1-2.1l0 2l.1 1.2l.1 1.4l0 1.5l.1-1l.1-1.7l0 3.1l.1-3.9l0 4.3l.1 1.8l.1-1.7l0 1.4l.1-.6l0-5.6l.1 3l.1-1l0-2.1l.1-.2l.1 4l0-4.2l.1 2.2l0 .8l.1-1l.1 4.2l0-1.4l.1-1.5l0-1.6l.1 2.2l.1-.6l0-4l.1 .6l.1 1.4l0-1.1l.1 3.7l0-.2l.1-1.4l.1 1.4l0 .5l.1-4.9l0 4.2l.1 1.7l.1-3.3l0-3l.1 3.9l.1-2.5l0 3.7l.1 .1l0 .5l.1-1.3l.1-4.4l0 6.7l.1-6.2l0 5.9l.1-1.8l.1-2.3l0 .4l.1 .8l.1 4.3l0-5.1l.1 3.7l0-8l.1 6.2l.1-.9l0 3l.1-.8l0 1.1l.1-5.1l.1 2.8l0-1.8l.1 2.8l.1-.5l0-4l.1 5.1l0 1.9l.1-5l.1 3.5l0-.9l.1-3.7l.1 3.9l0-3.8l.1 3.4l0-4.8l.1 .4l.1 4l0-.6l.1 1.4l0-2.6l.1-1.8l.1 5.8l0-5.3l.1 5l.1-1.1l0 2.1l.1-8.7l0 4.6l.1-.4l.1 2l0-3.9l.1 7.1l0-4.7l.1-4.9l.1 5.8l0-.9l.1-1.5l.1 3.3l0-1.8l.1-2.1l0 1.7l.1-.4l.1 1.6l0-1.5l.1 .6l0-3.1l.1 1.6l.1 2.2l0 4.9l.1-7.1l.1-.1l0 3.8l.1 5.5l0-5l.1-4.7l.1 4.5l0-1.4l.1-1.5l0-2.2l.1 2.8l.1 .1l0 1l.1-4.8l.1 1.2l0 2.6l.1 2.9l0-1.3l.1-3.1l.1 2.9l0-3.6l.1 1.2l0 .2l.1-.8l.1 .3l0 3l.1-1.1l.1-6l0 7.9l.1-1.6l0-3.5l.1 3l.1 1.2l0 1.2l.1-4.2l0-1.1l.1-.8l.1 3l0-2.2l.1 4.6l.1-2.7l0 1.9l.1-1.9l0-1.3l.1-.7l.1 4.6l0-5l.1 3.9l.1 2.8l0-3.5l.1 2.9l0-3.3l.1-.6l.1 1.4l0-2l.1 1.9l0-.7l.1 3.2l.1-3.3l0 2l.1-.9l.1-.8l0-.6l.1 4.1l0-.2l.1-2.8l.1-1.7l0 .2l.1-1.2l0-.9l.1 1.8l.1 1.2l0 2.2l.1-.2l.1-1l0-1.7l.1 .1l0 .5l.1 .4l.1-1.8l0 1l.1-.2l0-.1l.1 1.9l.1 1.1l0-3.4l.1 .2l.1 1.4l0 .5l.1-6.1l0 6.8l.1-1.2l.1-1.1l0 3.2l.1-2.8l0-3.8l.1 1.9l.1 .7l0 .1l.1 1.1l.1-3.4l0 4l.1 .6l0-1.2l.1-1.8l.1 1.3l0-.8l.1 6l0-7.1l.1-2.6l.1 2.2l0 3.7l.1 1.2l.1-2.5l0 2.8l.1-3.8l0 2.8l.1-3.3l.1-.9l0 7.6l.1-5.2l0 2.2l.1 1.6l.1-1.8l0-.9l.1-2.8l.1 5.7l0-5.7l.1-2.2l0 3.2l.1 .1l.1 1.3l0 2.6l.1-3.9l0 .4l.1-.8l.1-4.1l0 4.1l.1 .7l.1-2.6l0 6.5l.1-.4l0-1.2l.1 .1l.1-3l0 2.2l.1-4.6l.1 .5l0 1.7l.1 2.6l0-2.3l.1-.4l.1 4.2l0-3.2l.1-.8l0 1.1l.1-3l.1 .8l0 4.6l.1-2.2l.1 3.5l0-4.5l.1 3.3l0-4l.1 1.2l.1-1.4l0 2.5l.1 3l0-7.2l.1 4.3l.1-5.6l0 4.3l.1-.6l.1-2.6l0 3.4l.1-2.4l0 8.8l.1-7.6l.1 2.5l0-.1l.1-.5l0-.8l.1-2.9l.1 7.9l0-4.3l.1 1.7l.1-4.2l0 4.2l.1-2.6l0 1.9l.1-2.4l.1-.7l0 3.1l.1-1l0 3.3l.1-3.9l.1-1.2l0 3.2l.1-3.8l.1 7.2l0-.5l.1-1.1l0-2l.1-1.1l.1 .2l0 0l.1-1.8l0 2.7l.1 1.7l.1 0l0-7.5l.1 10l.1-4.9l0-3.6l.1 2.1l0 3l.1-1.9l.1-1.9l0-.8l.1 4.7l0-3.7l.1 .8l.1-1.5l0-.7l.1 3.9l.1 2.5l0-4.2l.1-3.1l0 2.5l.1 1l.1-4.8l0 7.6l.1-4.3l.1 3.3l0-1.4l.1-.1l0-3.2l.1 5.5l.1-.9l0 2.4l.1-4.7l0 2.1l.1-1.9l.1 3.3l0-1.6l.1-3.1l.1 2.7l0-1.8l.1 .2l0 2l.1 2.7l.1-5.7l0 1.8l.1-1.8l0 6.7l.1-.8l.1 1.1l0-1.4l.1-7.3l.1 2.7l0 1.3l.1-.4l0-1.4l.1 2.4l.1-1.6l0 .6l.1 5.2l0-4l.1-3.9l.1 3.9l0-.6l.1 1.1l.1-.3l0-3.6l.1 3.1l0 1.7l.1 4.7l.1-5.7l0 3.1l.1 2.6l0-8.8l.1 .2l.1 8.9l0-9.2l.1 .9l.1 4l0-4.6l.1 5.3l0-1l.1 .5l.1-.7l0-4.4l.1 4.9l0-.4l.1-.4l.1-2.6l0 1.2l.1-2.7l.1 3.5l0 1.3l.1-1.8l0-1.2l.1 2.2l.1-2.7l0-3.4l.1 5.3l0-1.4l.1-2.9l.1 4.5l0 .4l.1 .6l.1-3.3l0-.3l.1 1.5l0-.4l.1-2.8l.1 .9l0 5.1l.1-3.1l0-.3l.1-1.3l.1 2.1l0 .9l.1-.4l.1 3l0-4l.1 1.3l0-2.4l.1 3.4l.1-1.3l0 1.2l.1 .2l.1-4l0 2.6l.1-2l0 3.5l.1-2.7l.1 4l0-2.7l.1 0l0-2.4l.1 .9l.1 .8l0-2.3l.1 1.5l.1-.8l0-.5l.1 1.9l0 .5l.1-1.4l.1 1.7l0-1.8l.1-1.7l0 .6l.1 2.8l.1 2l0-2.8l.1 .2l.1-2.7l0 3.3l.1-.4l0-2.1l.1 2.7l.1-.4l0-4.5l.1 .5l0 1.9l.1 .8l.1 2.8l0-3.4l.1 1.1l.1-.4l0 1.7l.1-1.1l0 .3l.1-1.1l.1-2.5l0 2.4l.1 4.5l0-1.5l.1 1.4l.1-1.8l0-3l.1 .3l.1 2.3l0-2l.1 2.3l0 1.5l.1 0l.1-1.3l0-5l.1 6.1l0-5.7l.1-2.2l.1 5.3l0-.3l.1 1.3l.1-1.3l0-1.5l.1 1.4l0-2.2l.1-.4l.1 1.9l0 0l.1 .9l0-.9l.1 3.2l.1-3.4l0 .5l.1 2.4l.1-6.8l0 7l.1-.2l0-2.6l.1 5l.1-2.6l0 1.6l.1-1.2l.1-1.9l0-1l.1-1.7l0 .6l.1-.8l.1 1.3l0 2.4l.1-3.5l0 3.5l.1 .3l.1-4.8l0 1.7l.1 1.3l.1-1.2l0-.3l.1 5l0-2.8l.1 2.4l.1-3l0 1.8l.1-4.5l0 1.9l.1 3l.1-1.8l0 2.7l.1-2.8l.1-1.2l0 .7l.1 4.9l0-3.6l.1-1.9l.1 .5l0-1.9l.1 5.4l0-4l.1 2.6l.1-2.1l0-.3l.1-.6l.1 2.8l0-1.7l.1 3.1l0 .5l.1-4.4l.1 1.4l0 3.5l.1-1.7l0-2l.1-3.4l.1 1.1l0 .6l.1 5.7l.1-3.7l0-2l.1 .9l0-.1l.1 1.5l.1-4.5l0 .7l.1 3.5l0 1.9l.1-6.7l.1 5.8l0-3.9l.1-1.6l.1 6.4l0-2.8l.1 1.4l0-1.9l.1 0l.1-3.2l0 3l.1 1.4l0-2.6l.1 3.2l.1 .2l0-5.9l.1 6.9l.1-.8l0-1.1l.1 2.4l0 2.4l.1-7.1l.1 4.1l0-.5l.1-.4l.1 1.3l0 .3l.1-2.8l0-5l.1 3.7l.1 0l0 5l.1-3.3l0 2.6l.1-4.4l.1 2.3l0-.6l.1 .3l.1 1.1l0 2.1l.1-4.7l0 4.3l.1-.4l.1-2l0 .9l.1-2.1l0-3.2l.1 3.2l.1 .1l0 .4l.1-1.9l.1 6.1l0-5l.1 2.9l0 .7l.1-2.8l.1 .9l0-2.2l.1-1.1l0 7.7l.1-5.1l.1-4.5l0 2.4l.1-1.3l.1 3l0 3.5l.1-.7l0-4.1l.1-.6l.1 3.8l0-.5l.1-1.7l0 4.5l.1-3.2l.1-4.4l0-1.2l.1 5.1l.1-4.3l0 5.2l.1 .7l0 3.2l.1-7.2l.1 3l0-9.7l.1 8.1l0 .3l.1 7.4l.1-10.3l0 4.2l.1-.5l.1 4.6l0-7l.1-.2l0 3.6l.1-1.6l.1-.6l0-1.3l.1 1.9l0-3.6l.1 4.4l.1 .8l0-.3l.1 4.6l.1-3.8l0-4.1l.1 1.7l0 2.4l.1-2.6l.1 5.3l0-3.9l.1-1.8l0-.4l.1 3.3l.1-3.8l0-2.1l.1 5.1l.1-2.6l0 7.7l.1-1.7l0-5.7l.1 1.2l.1-.3l0 2.7l.1-1.6l.1-2.5l0-2l.1 4.3l0 3.2l.1-8.4l.1 3.4l0-1.2l.1 2.1l0-4.8l.1 5.1l.1-1l0 5.3l.1-2.9l.1 .3l0-1.5l.1-.8l0 2.4l.1-5.5l.1 6.2l0-1.4l.1-1.5l0 3.3l.1-4l.1-.2l0 2.1l.1-4.9l.1 4.1l0-.5l.1 2.8l0 1.6l.1-2.4l.1-.6l0 .3l.1-2.8l0 7.1l.1-2.8l.1 1.5l0-7.1l.1 4.3l.1-.1l0 1.3l.1-4.5l0 3l.1-1.5l.1 5.1l0-7.2l.1 1.8l0-.4l.1-1.5l.1 3.2l0-.1l.1-2l.1 .7l0 1.5l.1-.7l0 1.3l.1-2.8l.1-.5l0 2.1l.1-4.2l0 7.7l.1-2.9l.1-4.4l0 4.8l.1 2.6l.1-6.7l0 1.9l.1 3.9l0-4.4l.1 4l.1 .7l0-2.6l.1 .7l0 1.4l.1-1.7l.1 1.5l0-2.4l.1 .2l.1-1.7l0 2.6l.1 2l0 0l.1-2l.1-4.4l0 1.5l.1 3.4l.1-3.6l0 4.7l.1-4.8l0 3.1l.1-2.6l.1 .3l0 2l.1-1.3l0 3.1l.1-2.2l.1-2.6l0-6.8l.1 7.6l.1 1.4l0 2.5l.1-4.7l0 6.1l.1-1.9l.1-2.6l0 3.5l.1-6.1l0 1l.1 3.7l.1 .9l0 .8l.1 .2l.1-4.2l0-.4l.1 .6l0 .2l.1 1.9l.1-2.1l0 4.1l.1-3.3l0-3.3l.1 .4l.1 4l0-.3l.1-3.9l.1-.9l0 7.4l.1-2.4l0-1.5l.1-2.2l.1 4.6l0-4.3l.1 3.1l0-6l.1 4.4l.1 1.2l0 .5l.1-3.1l.1 .8l0 4l.1-3l0 3.5l.1-1.3l.1 1.2l0 .1l.1-1.4l0 .6l.1-3.4l.1-.6l0 2.4l.1 1.9l.1-4.3l0 6.4l.1-.2l0-6l.1 .1l.1-.7l0 2.7l.1 2.4l0-1.7l.1-2.5l.1 3l0-.1l.1 1.6l.1-.6l0-4.5l.1 .9l0 3.6l.1-.2l.1-1.1l0-2.5l.1 3.8l.1-2.2l0 4.4l.1-2l0-3.7l.1-1.1l.1 4.6l0-.8l.1-3.6l0 2.7l.1 .3l.1-2.3l0 .7l.1-2.1l.1 .7l0 3.1l.1-1l0 0l.1 2.8l.1-.9l0-4.4l.1 5.8l0-5.8l.1 1.6l.1 .9l0-1.5l.1-.5l.1-1l0 3.6l.1-.4l0 .1l.1-4.8l.1 2.1l0 4.2l.1-1.3l0 .8l.1-1.6l.1-.5l0-4.6l.1 9.2l.1-7.9l0 2.8l.1 3.8l0-2.5l.1 .8l.1-1.2l0-2.1l.1 5.6l0-6.3l.1 3.7l.1-4.2l0 2.5l.1-1.9l.1 1.5l0-1.1l.1 2.3l0 3.3l.1-4.7l.1-.1l0-3.1l.1 9.2l0-4.1l.1-2.8l.1 7.2l0-4.3l.1-5.3l.1 1.6l0 5.2l.1-5.2l0 .5l.1 1l.1 .8l0 0l.1 2.8l0-.7l.1-2.9l.1 1.4l0-3.9l.1 5.5l.1 4.1l0-4.7l.1-1.3l0-.3l.1 .7l.1 2l0-5.2l.1 4.9l0-3.1l.1 2.2l.1 2.1l0-5.9l.1 8.8l.1-2.3l0-4.3l.1 1.8l0-2.5l.1 1.9l.1 .8l0-5.9l.1 5.4l.1-.2l0 2.1l.1-.8l0-3.1l.1 .2l.1 1.3l0 1.5l.1-3.1l0 5.4l.1-3.1l.1-.2l0 1.4l.1-2.3l.1 1.9l0 .3l.1-5.9l0 2.4l.1-1l.1 2.5l0-2l.1 .4l0-1l.1-2.5l.1 5.8l0-1.1l.1 .7l.1 7.7l0-4.7l.1-3.2l0-1.4l.1 3.6l.1-4.7l0-.3l.1 3.8l0-4.2l.1-3.4l.1 5.6l0 3.2l.1-5.5l.1 3.7l0 .5l.1-1.3l0 1.6l.1-3.6l.1 .7l0-1l.1 1.4l0 3.1l.1-1.4l.1-2.3l0 2.8l.1-7.4l.1 7.1l0 .7l.1-3.8l0 .8l.1 1.8l.1 .8l0-1.8l.1-.9l0 .1l.1 2.9l.1-2.1l0-1l.1 .2l.1 8.6l0-4.9l.1-.2l0-1.3l.1-.9l.1-1.6l0 .6l.1 1.7l0-.3l.1-3.9l.1 5.3l0-2.1l.1-2.8l.1 2.7l0 5.4l.1-5.4l0 1.7l.1-.6l.1-2.6l0 1.3l.1 1.6l.1-2.6l0 1l.1 .8l0-.5l.1 .2l.1 1.3l0 .2l.1-1l0 2.2l.1 .6l.1-5.7l0 3.5l.1-.5l.1 .2l0-.3l.1 0l0-.1l.1 3.2l.1-5.2l0 3.7l.1-3.9l0 6.6l.1-1.9l.1-4.6l0 2.6l.1 1.1l.1-2.3l0 3.2l.1-2.6l0 5.2l.1-4l.1 .5l0-2.7l.1-2.1l0 5.2l.1-5.5l.1 4.9l0 3.3l.1 .7l.1-8.7l0 3.6l.1 1.3l0 .2l.1 .8l.1-5.5l0 3.2l.1-4.2l0 4.5l.1 8.5l.1-10.9l0 2.7l.1 .1l.1-4.4l0 4.1l.1-3.2l0 2.6l.1 1.7l.1-2.8l0 2.5l.1-4.1l0 .6l.1 2l.1-1.2l0 .1l.1 1.8l.1-2.6l0 2.5l.1-1.9l0 3.5l.1-2.3l.1-.7l0 2.7l.1-.9l0 .3l.1-4l.1 4.4l0-2.6l.1-2.4l.1 2.6l0 4.4l.1-3.9l0-2l.1 2.9l.1-3.1l0 .1l.1 1.5l0 1.5l.1 .6l.1-.6l0-.7l.1-1.1l.1 .3l0 1.6l.1-.8l0-.8l.1 4.5l.1-1.9l0 .1l.1-1.3l.1 .1l0 0l.1 1.3l0-3.4l.1 .9l.1 6.8l0-6.2l.1 2.5l0-6.3l.1 4.8l.1-.1l0-1.1l.1 .6l.1-.3l0-3.6l.1 2.6l0-1l.1-.6l.1 4.7l0-6l.1 2.2l0-.6l.1 4.1l.1-3.7l0 .9l.1 2.1l.1-6.3l0 3.8l.1 1.8l0-1l.1-1.6l.1-.4l0 .2l.1-.4l0-.6l.1 6l.1-1.6l0 1l.1-2.3l.1-3.1l0 1.8l.1 3.8l0-1.7l.1-2.9l.1 3.5l0-1l.1-.9l0 4.8l.1-5.9l.1 1l0-.5l.1 3.5l.1-.5l0-.4l.1-1.9l0 .4l.1-.1l.1-3.7l0 1.1l.1 4.5l0-.2l.1-5.3l.1 4.6l0-3.8l.1-.5l.1 5.6l0-1.4l.1-.8l0 2.1l.1 .3l.1-1.3l0-2.8l.1 2.9l0-.6l.1 .6l.1 2l0-6.3l.1 8.5l.1-3.8l0-2.7l.1 4.4l0-4.5l.1-1.4l.1 4.7l0-2.4l.1 4.7l.1-5.4l0 1l.1-.3l0-2.6l.1 2l.1-1.9l0 1.6l.1 4.1l0-3.3l.1-.5l.1 4.3l0-6.2l.1 2.8l.1-.6l0 2.8l.1-2.2l0-.5l.1 1.4l.1-.9l0 4.9l.1-7.8l0 5.6l.1 2.4l.1-2.8l0-.3l.1-3.9l.1 4.1l0-2.7l.1 2.8l0-7.1l.1 3.8l.1-3.2l0 6.7l.1-4.9l0 4.7l.1-3.4l.1-.2l0 5l.1-1l.1 .1l0 .7l.1-1.7l0 .5l.1 3.4l.1-5.7l0-1l.1 4.1l0-1.7l.1-1.2l.1 .5l0 1.1l.1-3.4l.1-.1l0 .4l.1 2l0-4.9l.1 .5l.1 4.8l0-.6l.1-3l0 4.5l.1-2.7l.1 .8l0 2.8l.1-2.2l.1 3l0-2.3l.1 3.3l0-9.6l.1 1.7l.1 .7l0 2l.1-3.1l0 1l.1 .5l.1 .2l0 4.1l.1-3l.1 3l0 .6l.1 0l0-3.5l.1-1.4l.1 5.4l0-7l.1 .6l.1 4.2l0 .1l.1-.8l0-2.4l.1 3.1l.1 1.6l0-3.3l.1 5.4l0-4.9l.1-2.3l.1 1.9l0-2.3l.1 1.9l.1-.5l0 1.3l.1 2.2l0-1.4l.1-.3l.1-3l0-.8l.1 2.7l0 2.6l.1 0l.1-1.3l0-3.5l.1 2.4l.1 .8l0 1.6l.1-3.7l0 1.4l.1 .7l.1-.5l0-3.4l.1 4.2l0-4.2l.1 1l.1 2.7l0-1.9l.1 2.3l.1 1.6l0-1.3l.1 1.5l0-3.2l.1 1.1l.1-1.2l0-.6l.1 8.8l0-7.7l.1 4.8l.1-4.7l0 2.6l.1-2.2l.1-2.8l0 6.8l.1-4.2l0 .6l.1 4.1l.1-5.7l0 1.3l.1 1.3l0 .4l.1-8.8l.1 8.7l0 2.5l.1-1.9l.1-1.3l0 .1l.1-.7l0 2.2l.1-3.6l.1 2.3l0 2l.1-1.3l0-.9l.1-2.8l.1 .1l0 2.6l.1-.8l.1-.5l0-4l.1 5.9l0-2.4l.1-.6l.1 3.8l0-2.6l.1 .1l0 1.4l.1-2.3l.1-1.1l0-.2l.1 3l.1-.9l0-4.8l.1 7.7l0-3l.1-2.9l.1 3.1l0-2.2l.1 2.1l.1-1.3l0-1.1l.1 3.3l0-.9l.1 .5l.1 .8l0-.8l.1 2.5l0-4.2l.1-2.2l.1 0l0 1l.1 5l.1-5.6l0 5l.1-1.5l0-4.2l.1 8.2l.1-6l0 1.3l.1 1l0 1.6l.1-2.9l.1 2l0-3.4l.1-.4l.1 5.8l0-1.9l.1-.5l0 2l.1-.2l.1-2.7l0 .7l.1 3.2l0-2.5l.1-2.3l.1 3.8l0-.6l.1-5.6l.1 .6l0 6.5l.1 1.6l0-6l.1 3.5l.1-2.1l0 .4l.1-2.2l0 6.9l.1-.8l.1-2.1l0-5l.1 2.6l.1 3.4l0-4.9l.1-.5l0 2.2l.1 .7l.1-2.3l0-1.7l.1 2.4l0-.9l.1 1.3l.1 .8l0 1.2l.1-2.7l.1 1.3l0-.1l.1-2.7l0 1l.1-.8l.1 5.4l0-4.7l.1 2.5l0 .5l.1 .1l.1-4.6l0 .9l.1 3.4l.1 1l0-2.6l.1 1l0-4.7l.1 7l.1 .8l0-3.5l.1-.6l.1-.3l0-1.4l.1-2.9l0 5.4l.1 .4l.1 2.8l0-4.5l.1-1.4l0 2.5l.1-3.2l.1 2.6l0-3.4l.1 2.7l.1 3.1l0-1l.1 2.1l0 .4l.1-4.5l.1-1.3l0-2.5l.1 4.6l0 .4l.1 1.9l.1-4.7l0 1.4l.1 2.2l.1-2.9l0 .3l.1 8.3l0-8.7l.1 1.3l.1 1.2l0 .1l.1-4.9l0 .5l.1-.7l.1 6.7l0-1.1l.1-4.9l.1 6.1l0-1.1l.1 2.5l0-8.2l.1 1.7l.1 1.4l0 .5l.1 1.5l0-.1l.1-2.3l.1 3l0-4.3l.1 3.8l.1 2.2l0-6.2l.1 3.2l0-1.5l.1 2.1l.1 4.2l0-6.3l.1 6.3l0-7.5l.1 5.9l.1 .7l0-4.9l.1-.2l.1 .5l0 3.1l.1-4.7l0 5.3l.1-2.2l.1 .7l0-.9l.1-2.8l0 3.3l.1-2.6l.1-.3l0 5.3l.1-1.2l.1-1.7l0 .4l.1-2.4l0 5.4l.1-5.9l.1 0l0 2l.1 2.7l0-3.1l.1 1.2l.1-2.4l0 1.4l.1-1.8l.1 3.3l0-4.9l.1 8.4l0-2.9l.1-3.4l.1 4.5l0-5l.1 4.3l.1-2.9l0 2.3l.1-1.1l0-1.4l.1 .7l.1 .6l0-5.7l.1 4.8l0 2.2l.1-4.3l.1 .3l0-.9l.1-1.3l.1 6.1l0-4.4l.1-.2l0 2.5l.1-.5l.1 7.2l0-5.4l.1-5.3l0 8l.1-2.8l.1-1.8l0-.7l.1-2.3l.1 7.6l0-4.1l.1-1.8l0 4.9l.1-2.9l.1-4.3l0 1.3l.1 1.7l0 7.1l.1-5.6l.1-1.1l0 1.5l.1-.5l.1-7.1l0 7.4l.1 1.7l0-2.7l.1 1.7l.1-.5l0-.5l.1-1.9l0 1.2l.1 3.2l.1-2.4l0-1.3l.1 2.1l.1-5.4l0 2.6l.1 3.9l0-2.9l.1-3.7l.1 .9l0 3.6l.1-3.5l0 4.9l.1 1.8l.1-4.5l0 .7l.1-.6l.1 1.2l0-.8l.1 1.9l0-2.2l.1-.8l.1 2l0-2l.1 5.8l0-2.2l.1-5l.1-.7l0 3l.1 1.2l.1 4.5l0-5.6l.1-.9l0 7.4l.1-6.9l.1 .1l0-.6l.1 4.2l.1-3.7l0 4.6l.1-6.7l0 3l.1 2.9l.1-5.6l0 .4l.1 4.1l0-6.4l.1 8.7l.1-4.5l0-1.9l.1 11.3l.1-10.9l0 2.4l.1-.1l0 2.3l.1-3.1l.1 3.2l0-.3l.1-1.2l0 1.8l.1-6.3l.1 6.5l0-1.3l.1-1l.1-.7l0-1.8l.1-1.3l0 3.8l.1 .2l.1-1l0-1.7l.1 .3l0 2.7l.1 3.4l.1-9.4l0 2.7l.1 1.5l.1-.7l0 2.5l.1 1.1l0-1.5l.1-.3l.1 .9l0 1.9l.1-2.6l0-2l.1 2.4l.1-1.1l0 4.7l.1-4.2l.1 0l0 2.3l.1 1.1l0-4.8l.1 2.7l.1-3.6l0 2.8l.1-2.4l0 2.2l.1 2.6l.1-3.2l0 1.1l.1-2.7l.1 2.4l0-.1l.1-2.8l0-.7l.1 .9l.1-.6l0 1.3l.1-.7l0-.2l.1 1l.1 .8l0-.2l.1-5.1l.1 5.4l0 .6l.1 .2l0-.7l.1-.6l.1 3.1l0 1.9l.1-5.1l.1 4.2l0-4.2l.1 .3l0-2.3l.1-1.1l.1 2.9l0 2.1l.1 1.3l0-.8l.1-1.9l.1 8l0-8l.1 .1l.1-2.4l0 3.2l.1-1l0 1.9l.1-.6l.1 2.9l0-4.3l.1-3.1l0 3.1l.1-.5l.1 4.6l0-7l.1 4.9l.1-3.5l0 1.6l.1 2.4l0-4.5l.1 2.3l.1-.4l0-.6l.1 1.1l0 .8l.1-1.9l.1 1.9l0-1l.1 1.6l.1 1.9l0-1.9l.1 .4l0-1.9l.1-2.6l.1 6.4l0-4.1l.1 5.3l0-2.6l.1-1.2l.1 3.9l0-.9l.1-4.5l.1 .1l0 .5l.1 1.5l0-6.6l.1 5.2l.1 1.6l0-5.7l.1 2.3l0 2.3l.1-3.5l.1 2.3l0-1.1l.1 .9l.1 2.8l0-4.5l.1 1.9l0 2.6l.1-.6l.1-3.8l0 2.9l.1-.9l0-1.3l.1 1.1l.1 3.7l0-4.8l.1-.7l.1-1.2l0-.3l.1 2.2l0-.3l.1-1.8l.1 4.2l0-4.6l.1 0l0 2.2l.1-2.4l.1 2.2l0 3.9l.1-4.5l.1 1.8l0-.2l.1 .6l0-2.7l.1 .9l.1 4.8l0-3.8l.1-.5l.1 3.2l0 .1l.1-.8l0 .5l.1-2.2l.1-1.5l0-1.9l.1-.3l0 2.2l.1-.2l.1-.5l0 3.9l.1-2.4l.1 .3l0 1.5l.1 .7l0 .2l.1-.6l.1 2.2l0-3.9l.1 1.2l0-.3l.1-.5l.1-.9l0 2.9l.1-1l.1 3.3l0 1.4l.1-.6l0-7.8l.1 7.5l.1-5.1l0-2.3l.1 5.1l0-5.4l.1-3.4l.1 4.9l0-3.2l.1 3.9l.1 3.1l0-2.9l.1 2.2l0 1.9l.1 0l.1-8.1l0 6.4l.1-1.1l0 1.4l.1-2l.1 1l0 .4l.1 1.8l.1 .5l0-1.5l.1-2.4l0-4l.1 2.3l.1-1.7l0 3l.1 1.3l0 2.8l.1-3l.1 4.8l0-4.1l.1-4.4l.1 2.9l0-1.7l.1 3.3l0 2.3l.1-2.1l.1 .5l0-4.2l.1-1.7l0 6l.1-.8l.1-.5l0 .5l.1 2l.1-3l0-.6l.1-.1l0 3.6l.1-2.5l.1 3.7l0-6l.1 4.3l.1-1.6l0 .4l.1 .3l0 1l.1 1.6l.1-7.8l0 3.3l.1 0l0-4.1l.1 4.9l.1-1.5l0 1.2l.1-2.6l.1 1.5l0 .4l.1 1.3l0-1.2l.1-2l.1 10.5l0-7.6l.1 .7l0-.3l.1 3.8l.1-6.1l0 3.5l.1-1.3l.1 .6l0 2.6l.1-2.8l0 3.2l.1-2l.1-1.4l0-.7l.1-.2l0 .5l.1-5.1l.1 3.8l0 3.7l.1-1.4l.1 .1l0-1.1l.1 1l0 .6l.1-5.6l.1 3.5l0 .9l.1-.2l0-.1l.1-3.6l.1 2.1l0-1.5l.1 9.5l.1-7.7l0-1.6l.1-2.1l0 4.4l.1 3.9l.1-5.2l0 2.7l.1 2.7l0-2.7l.1-3.7l.1-.3l0 1l.1 4l.1-8l0 8.3l.1-2.5l0 3.1l.1-6.2l.1 1.9l0-.9l.1 1.7l0 .4l.1-.6l.1 4.7l0-6.5l.1 .2l.1 2.9l0-.8l.1-.7l0-2.9l.1 2.6l.1 .8l0 1.3l.1 2.2l.1-2l0-1.5l.1 .7l0-.7l.1-1.5l.1 .6l0 .4l.1-.8l0 1l.1 .5l.1-1.1l0 4.9l.1-6.7l.1 5.7l0-4.8l.1 1.8l0-2.4l.1 2.4l.1 2.2l0-4.5l.1 2l0 .1l.1 .1l.1-2l0 .4l.1 1.3l.1 4l0-2.6l.1-1.1l0-3.8l.1 3.1l.1 1.1l0-2.9l.1 3l0-.2l.1-.8l.1 4.1l0-5.5l.1 1.1l.1 1.6l0 2l.1-3.1l0-2.6l.1 4.5l.1 1l0-3.3l.1 4.5l0 1.4l.1-4l.1 .5l0-.9l.1 .6l.1-1.9l0 1.2l.1 .8l0-.3l.1-2.4l.1-.8l0 .2l.1 .4l0 9l.1-5.2l.1-1.5l0-1.2l.1 4.1l.1-6.8l0 2.5l.1 2.1l0-1.8l.1 1.2l.1 .9l0-2.8l.1 2.1l0 2.1l.1-1.7l.1-1.2l0 2.2l.1-5.2l.1 5.2l0-6.3l.1 1.9l0 4.1l.1-2.4l.1-2.4l0 3.1l.1 2.2l0-2.9l.1-7.4l.1 11l0-4.6l.1 1.1l.1 .4l0 .6l.1-.1l0-3l.1 .9l.1 3.6l0-5.7l.1 6.4l.1-4.4l0 1.1l.1-2.3l0 1.9l.1-1.6l.1 2.4l0-2.2l.1 1.4l0-4l.1 6.3l.1-4.2l0 1.6l.1 .7l.1 1.6l0-2.2l.1 4.3l0-.3l.1-5.9l.1 6.3l0-6.7l.1 3.9l0-1.2l.1 .4l.1-.8l0 1.6l.1 .2l.1-.6l0-2.6l.1-.2l0-.3l.1 1.3l.1 2l0 3.3l.1-5.2l0-.4l.1 2.8l.1-2.8l0-1l.1 2.6l.1-2.1l0 1.7l.1 7.1l0-4.8l.1-.7l.1-2.1l0 3.1l.1-1l0 1.2l.1-2.1l.1-.2l0-2l.1 .4l.1 1.4l0-.2l.1 .3l0 0l.1-3.2l.1 9l0-5l.1-1.3l0-1.8l.1 5l.1-3.2l0-1.2l.1 2.9l.1 3.3l0-3l.1 1.4l0-4.1l.1 3.4l.1-5.9l0 3.6l.1 2.2l0-.7l.1 1.3l.1-3.3l0-2.5l.1 3.8l.1-2.5l0 4.2l.1-2.8l0-8.2l.1 12l.1-8l0 2.2l.1 6.9l.1-1l0-1.1l.1-4.3l0 3.1l.1-.6l.1-3.2l0 2.6l.1-.3l0 1.3l.1-3.3l.1 4.3l0-5.5l.1 4.5l.1 1l0-3.2l.1 .4l0 5.5l.1-4.9l.1 3.5l0-1.2l.1-3.6l0 3.7l.1-2.7l.1 1.6l0-5.2l.1 4.6l.1 2.4l0 1.4l.1-2l0-2.3l.1 .3l.1-2.2l0 1.8l.1 .1l0-.5l.1 1.1l.1-1l0-1.1l.1 0l.1 3l0 2.7l.1-2.1l0-2.5l.1 6.2l.1-4.5l0-2l.1 2.2l0 1.3l.1-6.4l.1 .8l0 3.7l.1-3.6l.1 .1l0 5.4l.1-8.5l0 8.1l.1-1.5l.1 1.8l0-2.6l.1 3.1l0-2.9l.1-2.4l.1 1.9l0 1.1l.1-4.1l.1 5.5l0-4.2l.1 2.9l0-1.2l.1 .4l.1-.2l0 .4l.1 1.7l0-.5l.1-2.3l.1 1.3l0 2.3l.1-1l.1 0l0-1.5l.1-.5l0 .2l.1 1.7l.1-1.5l0 3.1l.1 3.4l0-6.3l.1 3.5l.1-1.5l0 .5l.1-5.1l.1 5.1l0-3.3l.1 1.7l0 1.7l.1 .8l.1-4.6l0-.5l.1-.2l.1-2.3l0 3.5l.1-.1l0 .9l.1-.5l.1 1.1l0 1.2l.1-6.5l0 8.6l.1-4.7l.1-.4l0 .6l.1 2.5l.1-1.7l0 .6l.1 1.4l0-2.3l.1 .8l.1 .3l0-2.7l.1 5.5l0-5l.1 2.4l.1-2.3l0 .8l.1-.8l.1 3.1l0-.4l.1 .1l0-2.3l.1-1.2l.1-.8l0 3.5l.1-1.3l0 3.8l.1 1.4l.1-3l0-.5l.1 2l.1 .5l0-5.1l.1 2.9l0 2l.1-8.9l.1 4.8l0 1.1l.1-3.3l0 4.3l.1-5.3l.1 7l0-.5l.1-2.6l.1 1.4l0-4.9l.1 6.7l0-1.9l.1-2.2l.1-.7l0-1l.1 1.5l0-4.1l.1 5.9l.1-1.6l0-1.3l.1 2.6l.1-.1l0 1.2l.1-.4l0 1.1l.1-1.3l.1 2.3l0-4.3l.1 4.4l0-11.4l.1 4l.1 1.3l0 3l.1 .8l.1-4l0 2.1l.1-.6l0 2.8l.1-4l.1 5.5l0-3.3l.1 4.1l.1-2.4l0-2.6l.1 2.1l0 0l.1-2.7l.1 1.9l0-2.9l.1 8.1l0-6.6l.1 .1l.1 4.6l0-.6l.1-4.8l.1 4.3l0-.9l.1-2.8l0 2.1l.1-1.8l.1 3l0-2.6l.1-1.8l0 1.7l.1 5.6l.1-6.3l0 1.3l.1 2.2l.1-5.2l0 9.8l.1-10.8l0 6.6l.1-6l.1 3.6l0 2.9l.1-3.2l0-.5l.1-.5l.1-1.1l0 4.3l.1-3.1l.1-.5l0 2.8l.1 .9l0 .1l.1-3.8l.1-.1l0 3.6l.1 1.1l0-5.7l.1 6.2l.1-3.8l0 3.5l.1 .8l.1-4.2l0 .7l.1-3.7l0-1.8l.1 5.5l.1-2.7l0-.1l.1 3.5l0 .8l.1-5.5l.1 4.4l0-.8l.1 .6l.1-.4l0 1.1l.1-3l0-1.1l.1 3.6l.1 2.2l0-3.2l.1 3.5l0-1.9l.1-4.2l.1-2.4l0 4.3l.1 3.2l.1-4.1l0 6.7l.1-3.4l0-4.9l.1 1.7l.1 4.7l0 .6l.1-5.6l.1 2.1l0 1.2l.1-2.3l0 2.2l.1 3l.1-6.1l0 3.3l.1 .8l0 .7l.1-3.5l.1 2.3l0-3.1l.1 1.9l.1-3l0 3.3l.1 .6l0 2.9l.1-1.9l.1-4.1l0-5.2l.1 9.6l0-.4l.1-3.1l.1-.3l0 2.6l.1-1.7l.1 3.7l0-2.9l.1-2.7l0-1.6l.1 4l.1 .2l0-1.6l.1-1.4l0 1.4l.1 2.7l.1-2.4l0-1.4l.1 3.7l.1 1.4l0-4.1l.1 .3l0-2.7l.1 3.3l.1 1.7l0-.5l.1 1.3l0-.2l.1-.8l.1-.2l0-3.5l.1 5.2l.1-2.7l0 1.2l.1-4.6l0 2.8l.1 1.4l.1-2.7l0 1.7l.1 1.2l0-4.5l.1 1.9l.1-2.3l0 1.3l.1 .8l.1 1.4l0 2.7l.1-5l0 2.4l.1-1.3l.1 1.5l0 1.6l.1 .7l0-3.8l.1-1.4l.1 3.6l0-1.7l.1-2.1l.1 5l0-1.1l.1 1.7l0-5.1l.1 2l.1 1.6l0 2.7l.1-3.3l0-2.6l.1 2.9l.1 .3l0-2.4l.1 4.2l.1-2.9l0-1.2l.1 3l0 1.5l.1-3.7l.1 .7l0 .3l.1-1l.1 0l0 2.6l.1-.6l0-2.5l.1-1.5l.1-.5l0 4.9l.1-4.3l0 .7l.1 1.8l.1-1.2l0-.7l.1-2.2l.1 6.3l0-3.6l.1 1.9l0-.1l.1-3l.1 .7l0 4l.1-1.6l0-1.1l.1 3.6l.1-5l0 2.2l.1-.7l.1-.4l0-3.2l.1 3.9l0 .9l.1-4.7l.1 5l0 .1l.1 1.9l0-5.5l.1 1.8l.1-.5l0 .7l.1 .7l.1 2.7l0-1.3l.1-2.7l0 .7l.1-3.3l.1 5.3l0-.6l.1 1.1l0-5.3l.1 7.8l.1-6.4l0-1.5l.1 3.5l.1-1.9l0 6.3l.1-3.9l0 2.9l.1-4.1l.1 .4l0 1.7l.1-5.2l0 2.7l.1 1.9l.1 0l0 2.1l.1-2.8l.1-5.1l0 6.3l.1-2.6l0 2.2l.1-3l.1 .8l0 1.5l.1 3.4l0-2.8l.1-3.8l.1 3.2l0-1.9l.1 2.4l.1 3.1l0-5.1l.1 .3l0 2.9l.1-1.4l.1-1.5l0 2l.1-2.1l.1 1.6l0 4.4l.1-4.9l0 1l.1 .5l.1-2.7l0 2l.1-2.3l0-1.2l.1 2.1l.1 3.7l0-1.8l.1-3.6l.1 2.5l0 1.3l.1-1.6l0-1.3l.1 .5l.1-.9l0 3.3l.1-1.2l0-.1l.1-.5l.1 4.6l0-4.1l.1 2.4l.1-6l0-.4l.1-.2l0 1.9l.1 2.8l.1-3.2l0 2.6l.1-1.8l0 3.4l.1-.7l.1-2.4l0-2.9l.1 4l.1-5l0-1.1l.1 8.9l0-2.8l.1 2.1l.1-1.8l0 .8l.1-1l0-2.3l.1 .1l.1 1.5l0 .6l.1-.3l.1 0l0-1l.1 1.2l0-1.1l.1 4.1l.1-4.7l0-2.1l.1 3.4l0 3.6l.1-6.1l.1 3.7l0 10.5l.1-10.8l.1-1.8l0 .5l.1-1.9l0 1.4l.1 1.1l.1 4.6l0-1.9l.1-2.8l0-1.1l.1 3.7l.1-.9l0-2.4l.1 5.3l.1 .1l0-3.8l.1-1.1l0 2.4l.1 3.2l.1-5.1l0 3l.1-4.4l0 1.7l.1-1.2l.1-.5l0 2.6l.1-3l.1-.9l0 1.9l.1-2.1l0 4.3l.1-3.4l.1 1.5l0 2.7l.1-2l.1 1l0 .1l.1-1.4l0-2.2l.1 3.1l.1-1l0 5.8l.1-5.8l0-4.1l.1 1.3l.1 2l0 2.2l.1 1l.1-1.9l0 2.7l.1-.2l0-6.3l.1 5.6l.1-8.8l0 9.9l.1-4.1l0 5.4l.1-4.8l.1 2.7l0-2.4l.1 .4l.1 .6l0-2.1l.1-2.2l0 4.7l.1-4.7l.1 3.2l0 .2l.1-4.9l0 9.7l.1-3.3l.1 2.5l0-3.4l.1-.1l.1-9l0 7.7l.1-3.2l0 1.1l.1 3.8l.1-2l0-2.7l.1 3.4l0-.1l.1-.7l.1 4.5l0-1.6l.1-2.5l.1-.5l0 3.3l.1-1.3l0-.5l.1 .1l.1-1.9l0 1.3l.1-.1l0 3.5l.1-.8l.1-3.1l0 4.3l.1-4.1l.1 2l0 .4l.1-3.3l0 3l.1 .4l.1-.4l0-1.7l.1-5.9l0 10.8l.1-4.7l.1 .5l0-2.7l.1 3l.1 4.6l0-8.4l.1 5.4l0-2.3l.1 2.9l.1-.6l0-1.3l.1-3l.1 0l0 3.2l.1-2.4l0 1.9l.1-1.2l.1 0l0-1l.1 2.7l0-1l.1-.8l.1 .3l0 2l.1-5.6l.1 4.8l0-2.7l.1 1.2l0-2.2l.1 7.5l.1-9.4l0 5.1l.1 2.2l0-3l.1-4.7l.1 3.9l0 3.8l.1-1.7l.1-4l0 6.1l.1-2.7l0 .2l.1-5.4l.1 5.4l0-3.5l.1 4.4l0 .3l.1-4l.1 .8l0 5.2l.1-5.2l.1 0l0 2.8l.1-1.9l0-.1l.1 1.7l.1 .2l0 .2l.1-.9l0 2.3l.1-2.8l.1 3.2l0-3.5l.1 .4l.1 2.1l0-4.2l.1-2.4l0-.7l.1 8l.1-5.8l0 2.3l.1 .6l0 1.2l.1-1.3l.1-3.1l0 1.9l.1 2.1l.1 .6l0-.6l.1-2.2l0-2.8l.1 6.4l.1-2.3l0 .9l.1 .8l0-2.6l.1-.3l.1 4.3l0-.8l.1-6.8l.1 3.8l0-.5l.1 2.3l0-.3l.1-1.8l.1 2.1l0 1.4l.1-2.5l.1-2l0 4.3l.1-4.6l0-.3l.1 4.5l.1-1.9l0 .1l.1-1.5l0-.1l.1 4.4l.1 .1l0-5.3l.1 2l.1-.6l0 .2l.1-2.7l0 6.1l.1-5.1l.1 4.2l0-3.4l.1-1.4l0 8.3l.1-6.2l.1 1.5l0 0l.1-.7l.1 2.4l0-.2l.1-3.6l0-.4l.1 3.2l.1 1.9l0-8.3l.1 2.7l0 1.6l.1 3.1l.1-1l0-1.8l.1 2.6l.1-5.6l0 3.2l.1-.6l0 3.2l.1-.3l.1-.3l0-2.3l.1 1.2l0 0l.1-1.3l.1 .2l0-2.8l.1 3.7l.1 1.8l0-2.2l.1-3.2l0 4.4l.1-1.3l.1 .9l0-1.7l.1 .3l0 2.4l.1-1.3l.1-2.6l0-.3l.1 .4l.1 .1l0 2.6l.1 .1l0-2.8l.1 4.6l.1-2.3l0 3.8l.1-3.3l0 .7l.1 1.1l.1-3.9l0 2.9l.1-.8l.1-.2l0 1l.1-4.7l0 5l.1-2.3l.1 5.3l0-3.9l.1-.3l0 0l.1 .6l.1-1.6l0-3.1l.1 3.7l.1 0l0 .6l.1-6.5l0 2l.1 2.4l.1-.4l0 3.2l.1-1.3l.1-.8l0 .2l.1 2.2l0-.2l.1-2.8l.1 .4l0 5.3l.1-4.8l0-2.6l.1 4.2l.1-1.9l0 6l.1-7.3l.1 6l0 .5l.1-4l0-5.9l.1 6.5l.1 1.5l0-3.8l.1 .5l0-3.1l.1 6.4l.1 .7l0-2.8l.1-1.5l.1 0l0-1.6l.1 5.7l0-1.5l.1-1.5l.1-2.2l0 .8l.1 2l0 1.3l.1-4.1l.1-.2l0-3.9l.1 6.4l.1-4l0 6.2l.1-1.4l0 .3l.1-.5l.1 .9l0-.7l.1-1.1l0 .9l.1-3.4l.1 2.6l0-.2l.1-3.2l.1 2.1l0 .7l.1 .4l0-.1l.1-1.2l.1 3l0-4.2l.1-1l0 1l.1 3.6l.1 2.4l0-2.6l.1-1.2l.1-1.5l0 2.2l.1 .3l0-4l.1 4.8l.1-3.8l0 .3l.1 4.9l0-3.5l.1 1.8l.1 .9l0 1.9l.1-.6l.1-4.3l0 1.7l.1-1.4l0 4.6l.1-3.3l.1-.1l0 2.8l.1 .2l.1-4.6l0 .7l.1 2.3l0-1.8l.1-1.7l.1-2.5l0 7.3l.1-4.7l0-3.3l.1 4.5l.1-3l0 8.9l.1-8.9l.1 3.2l0 4.1l.1-5.8l0-.6l.1-.4l.1 .1l0 2.7l.1 1.5l0-.6l.1-.9l.1-1l0 1.9l.1-1.1l.1-1.8l0 1.2l.1-4.3l0 .3l.1 7.2l.1-1.3l0 1.7l.1-.4l0-3.7l.1 4.9l.1-1.4l0-1.7l.1-2.4l.1 2.6l0 0l.1-2.8l0 1l.1 0l.1-1.1l0 4.3l.1-3l0 2.2l.1-3.7l.1-.7l0 5.3l.1-5.3l.1 5.6l0-5.2l.1 2.1l0 2.4l.1 2.3l.1-3.5l0-.7l.1 1.5l0-2.8l.1 4.4l.1-3.1l0 0l.1 4.1l.1-4.8l0 3.5l.1 2.7l0-3.2l.1-1.8l.1-2.5l0 3.1l.1-6.6l0 2.3l.1 .8l.1-.5l0 2.1l.1 2l.1-2.6l0-.7l.1 1.6l0 1l.1 5.4l.1-8.4l0 1.7l.1 3.7l0-3.1l.1-1.4l.1 1.8l0-1.9l.1 0l.1 4.9l0-2.5l.1-1.8l0-.9l.1-1.1l.1 7.3l0-4.1l.1-1.7l.1-3l0 .9l.1 5.8l0-.7l.1 .9l.1-4.1l0 4.7l.1-5.5l0 .5l.1 1l.1 5.9l0-3.3l.1-4.3l.1 5.9l0-2.6l.1-.3l0-2.2l.1 1.4l.1 0l0 1.6l.1-1l0 .3l.1-1.9l.1 2l0-2.7l.1 6l.1-6.4l0 3.1l.1-2.9l0 2.3l.1-1.7l.1-1.4l0 4.5l.1-1.4l0 .6l.1-.9l.1 4.1l0-3.2l.1 .1l.1 1.2l0-1.3l.1 3l0-6.5l.1 1.5l.1-2.6l0 6.1l.1 .7l0-3.2l.1 4.3l.1-4.2l0 2l.1-.8l.1-1.3l0 .5l.1-4l0 2.7l.1 4.3l.1-5.1l0 5.2l.1-3.2l0 3l.1-1l.1-4.7l0 4.1l.1 .2l.1-.2l0-.5l.1-3.9l0 5.8l.1 .1l.1-4.8l0 5.6l.1-2.7l0-3.3l.1 2.5l.1 1.1l0 .5l.1 .4l.1-.7l0-1.6l.1-2.4l0 .6l.1 3.4l.1 .3l0-3.1l.1 5.5l.1-3l0-.3l.1 1.8l0-.3l.1-2.9l.1 4.4l0-1.6l.1-.6l0-1.6l.1 3.2l.1-7.1l0 4.7l.1-.1l.1 .2l0 .7l.1 .7l0-4.7l.1 2.1l.1 .7l0-2.4l.1 3.7l0-2.9l.1 1.3l.1 2l0-3.6l.1 5l.1-4.8l0 3.4l.1-2.8l0-2.2l.1 1.8l.1 2.6l0-1.3l.1 .8l0 1.8l.1-.2l.1-2.5l0-1.1l.1 5.1l.1-3.7l0-1.3l.1 .9l0 2.4l.1-4.5l.1 5l0-4.1l.1-2.1l0 8l.1-5.1l.1-.1l0 .2l.1 2.2l.1-1l0 2.4l.1-3.4l0-.9l.1 2.7l.1 .6l0-1l.1-1.1l0-.1l.1 .4l.1-.4l0 3l.1 7.5l.1-11.7l0-1.8l.1 6.2l0-1.6l.1-2.1l.1-1.5l0 .7l.1-1.4l0 3l.1-1.1l.1 0l0 1.9l.1-3.6l.1 1.3l0-.8l.1 3l0-3.1l.1 6.3l.1-4.9l0 6.6l.1-3.5l.1-3.9l0 2.6l.1-1.3l0 3.9l.1-6.9l.1 2l0 1.4l.1-1l0 .2l.1-2.4l.1 2.7l0 3.7l.1-2.7l.1-3.4l0 1.6l.1 2.2l0-3.1l.1 1.9l.1-1.1l0 4.8l.1-1.5l0-3.4l.1 1.9l.1-1.2l0-3.5l.1 4.9l.1-1.2l0 1.8l.1 .1l0-1.2l.1 5.4l.1-1l0-7.5l.1 3.2l0-2.7l.1 2.2l.1-.1l0-1.1l.1-.1l.1 4.2l0-5.3l.1 4.8l0-2.6l.1-5.1l.1 5.4l0-3.5l.1 4.4l0-2.1l.1 1.2l.1-.8l0 2.8l.1 .1l.1-2.7l0 4.2l.1-1.6l0-3.3l.1 2.8l.1 .6l0 .5l.1-2.9l0 1.2l.1-1.1l.1 .8l0-4.5l.1 5l.1 3.3l0-4.5l.1 .2l0-.3l.1 3.8l.1-5.9l0 2.7l.1-.2l0 3.4l.1-4.5l.1 1.2l0-3.1l.1 4.6l.1 1l0-2.9l.1 2.2l0-2.9l.1 3.3l.1-2.1l0 .2l.1-.4l0 1.1l.1 .6l.1-1.6l0 1.1l.1-1.6l.1 .9l0 4.3l.1-4.7l0-3.2l.1 2.4l.1-.7l0 .4l.1 2l.1 1.8l0-4.6l.1-.5l0 1l.1 .3l.1 .1l0 .9l.1-.7l0 .6l.1-.7l.1 2.8l0-.7l.1-2.6l.1 2l0 4.5l.1-5.5l0 5.2l.1-9.1l.1 2.6l0 .1l.1 2.9l0 1l.1-2l.1-.5l0 1.7l.1-2l.1-1.1l0 .1l.1 3.6l0 2.4l.1-4.7l.1 1.4l0-2.3l.1-2.6l0 0l.1 2.9l.1-1.8l0-1.1l.1 3.4l.1-.5l0-1.2l.1 1.9l0 1l.1 .5l.1-1.6l0 1.3l.1-3l0 2.4l.1-3.8l.1 .5l0 5.3l.1-5l.1 3.2l0-3.8l.1 1.8l0 1.4l.1-1.7l.1 2.6l0-1.9l.1-.1l0 1.1l.1-1.1l.1 2.9l0-3.3l.1 3.8l.1-3.9l0 .3l.1-.5l0 2.7l.1-12.1l.1 11.4l0-.8l.1 1.9l0-4.7l.1 4.1l.1-3.1l0 4.1l.1-2.7l.1 1.4l0-2.7l.1 2.6l0 1.2l.1-2.8l.1 3.5l0-.5l.1-3.7l.1 8.5l0-8.5l.1 2.5l0 1.1l.1-2.5l.1-1.7l0 3.5l.1-.9l0-2.1l.1 .1l.1 1.7l0 1.6l.1 .3l.1-.7l0-2.7l.1 .2l0 .6l.1-4.3l.1 5.5l0 .2l.1 0l0-4.8l.1 8.4l.1-5l0-.3l.1 .8l.1-8.2l0 5.8l.1 .9l0 3.5l.1-3l.1 1.9l0-.9l.1-.3l0 1.4l.1-2.4l.1-2.1l0-.2l.1 3.2l.1 7.4l0-9.2l.1 0l0 3l.1 .3l.1-2.4l0 3.1l.1-3.4l0 3.9l.1-.3l.1-2l0 3.1l.1-3l.1-1.2l0 3.9l.1-4.7l0 3.1l.1-2.3l.1 .7l0 1.4l.1 .1l0 2.5l.1-2.1l.1 .2l0-5.1l.1 1.3l.1 5l0-4.5l.1 1.2l0 1.2l.1-1.7l.1-.7l0 2.8l.1-.6l0-.9l.1 2.4l.1-2.5l0 .6l.1 1.3l.1 .3l0-2.4l.1-1.2l0 1.1l.1 2.5l.1-3.3l0 1.2l.1-.9l.1-1.2l0 4.3l.1-1.6l0 1l.1 .6l.1-6.1l0 2.3l.1 5.6l0-4.6l.1 2.1l.1-3.6l0 2.3l.1 .5l.1-.7l0-.5l.1 .8l0 .5l.1-.2l.1-1.3l0 3.4l.1-2.4l0 .3l.1 .7l.1-2.5l0 4.2l.1-1.9l.1 1l0-2.9l.1 2.1l0-1.1l.1-.7l.1 4.2l0-4.3l.1 3.6l0-2.1l.1-.3l.1-2l0 .2l.1-2.2l.1 3.4l0 1.3l.1 .1l0-2.4l.1-2l.1 2.6l0 1.9l.1-1.8l0 .1l.1 .5l.1 1.6l0 3.7l.1-4.2l.1-3.3l0 1.8l.1 5l0-4.6l.1 3.9l.1-8l0 3.7l.1 2.9l0-4.1l.1 3.3l.1-2.9l0 1.2l.1 2.5l.1-3.9l0 4.2l.1-5.6l0 2.7l.1 2.3l.1 1.6l0-7.2l.1 .4l0 5.6l.1-6l.1 3.1l0 .8l.1-.3l.1 .4l0-3.6l.1 2.7l0 4.2l.1-8.3l.1 2.6l0 4.1l.1-1.5l0 1.1l.1-2l.1-.7l0 .3l.1 1.8l.1 .4l0-3.4l.1 1.9l0-4.9l.1 6.4l.1-3.3l0 1.5l.1 1.7l.1-4.4l0 2.6l.1 3.4l0-2.5l.1-4.3l.1 6.2l0-5.5l.1 1.5l0 2l.1-3.4l.1-.8l0 2.4l.1 .9l.1-3.5l0 .7l.1 5.1l0-1.5l.1 0l.1 .4l0 2.3l.1-5.1l0 1.7l.1 0l.1-2.7l0 4.1l.1-1.1l.1-.7l0 1.5l.1-.6l0-1.9l.1 1.6l.1-2.8l0 4.4l.1-2l0 3.4l.1-2.7l.1 1.2l0-4.3l.1 1.3l.1 .5l0-2.9l.1 .9l0 1.5l.1 3l.1 1.6l0-3l.1 .7l0 .6l.1-.8l.1 2.9l0-6.6l.1 5.5l.1-1l0-2.6l.1 4.7l0-5.4l.1-.1l.1 2.7l0 1.6l.1-1.3l0 2.9l.1-6.8l.1 2.8l0 1.7l.1 .3l.1-3.1l0-2l.1 5.9l0-1.5l.1 2.5l.1-5.1l0 1.1l.1-4.5l0 5.1l.1 .6l.1 .6l0-3.3l.1 5.3l.1-5.1l0 1.1l.1 1.6l0 .8l.1-4.1l.1-1.7l0 4.9l.1-2.1l.1-2.6l0 5l.1-.7l0 2l.1-2.3l.1 0l0 .6l.1 .7l0 1.8l.1-.5l.1-.8l0-3.4l.1 2.4l.1 .7l0-3.2l.1 .2l0 2.8l.1-.2l.1-2.8l0 .6l.1 2.6l0-2.3l.1 .6l.1-2.4l0 4.2l.1-3.8l.1 1l0 3.1l.1-4.4l0 .3l.1 4.7l.1-7l0 6.7l.1-.5l0-1.3l.1-3.5l.1 1.6l0 1.4l.1-3.1l.1 2.1l0-2.2l.1-3l0 5.6l.1 5.9l.1-4.5l0 1.3l.1-2.5l0-.1l.1 3l.1-.2l0-1.9l.1-.2l.1 5.2l0-7.7l.1 2.1l0 .1l.1-.7l.1 2.8l0-2.1l.1-2.3l0-.1l.1 .6l.1 2.3l0 1.2l.1-4.6l.1 1.7l0 2l.1 3.8l0-2.8l.1 2.3l.1-6.9l0 2.3l.1 3.2l0-2.2l.1-6.2l.1 3l0 5.5l.1-2.6l.1 4.3l0-.8l.1-4.2l0-4.9l.1 1.9l.1 3.3l0 .9l.1-1.2l0-1.8l.1 5.4l.1 .9l0-8.2l.1 3.5l.1-2.9l0 3l.1-2.7l0 4.6l.1-2.5l.1-2.3l0 1.2l.1 3.2l.1-2.9l0 3.4l.1 1.7l0-4.3l.1-2l.1 1.2l0 4.7l.1-6l0 1.7l.1 2.5l.1 8.4l0-11.6l.1 .3l.1 .8l0 7.6l.1-3.2l0-5.5l.1 .4l.1 .7l0 1.7l.1-1.5l0 2.1l.1-.5l.1 1.2l0-2.5l.1 1.6l.1-3.1l0 .5l.1 3.4l0-5.9l.1 6.6l.1-3.5l0-1.4l.1-.4l0 7.7l.1-7.1l.1-.5l0-.5l.1 8.2l.1-3.5l0-1.3l.1 .8l0-4l.1 4.5l.1-4.2l0 1.5l.1 4.5l0-1.1l.1-1.1l.1-1.4l0-1.9l.1 2.6l.1-2.4l0 5.5l.1 3.3l0-6l.1-1.8l.1 1.8l0 1.5l.1-3.9l0-2.7l.1 4.6l.1 1.3l0 .3l.1-6.3l.1 4.5l0-1.4l.1-1.4l0 .3l.1 4.5l.1-4.2l0 .2l.1 .1l0-.4l.1 3.5l.1-1.1l0 1l.1-2.9l.1 3.2l0-2.4l.1 3.4l0-2.2l.1 .5l.1-.5l0-.6l.1 .7l.1 .1l0 4.2l.1-7.2l0 3.9l.1-.8l.1 1.3l0-4.1l.1 5.7l0-4.6l.1-1.5l.1-1.1l0 1.1l.1 1.2l.1 6l0-7.5l.1 .3l0 .7l.1 .1l.1 1.6l0 1.4l.1-3.6l0-.4l.1 5.1l.1-4.3l0 1.5l.1-1.5l.1 1.4l0-1.9l.1 .2l0 .3l.1 5.1l.1-4.9l0 1.7l.1 4.3l0-5.8l.1 4.6l.1-6.4l0-.4l.1 4.9l.1-3.2l0 .4l.1 .2l0 4.5l.1-4.4l.1 1.1l0-1.4l.1 1.7l0-2.5l.1 1.9l.1-.9l0-1.6l.1 2.7l.1-1.8l0 1.7l.1-.7l0 3.1l.1-3.7l.1-1l0 3l.1-2l0 .8l.1 3.4l.1-3.8l0-1.6l.1 4l.1 2.9l0-4.4l.1 1.9l0-5.6l.1 4.2l.1 0l0 1.3l.1-1.9l0 1.8l.1 .7l.1-1.8l0 1.6l.1-4.7l.1 5.5l0-2.4l.1 1.4l0 1.5l.1-6.7l.1 8.3l0-7.9l.1 6.3l.1-3.3l0-4.7l.1 9.6l0-1.6l.1-5.9l.1 2.5l0 1.5l.1-1.1l0 2.1l.1-2.4l.1-3l0 4.1l.1-1.2l.1-2.3l0-1.7l.1 5.6l0-1.9l.1 1.9l.1 .2l0-.6l.1 .5l0 2.4l.1 3.6l.1-5.8l0-1.8l.1-2.4l.1 3.8l0-.8l.1-1.8l0-.2l.1 1.9l.1-.1l0-4.3l.1 4.9l0 .3l.1 2.5l.1-4.5l0 1.5l.1-4.7l.1 4.9l0-2.5l.1-.3l0-1.6l.1 6.5l.1-6.3l0 3.4l.1 .3l0 .4l.1 .2l.1-.1l0 4.4l.1-6.3l.1 1l0 2.2l.1-1.9l0-5.2l.1 4.2l.1 1.7l0-4.6l.1 5.5l0-1.4l.1 .9l.1-.7l0-2.2l.1 .4l.1 2.8l0-1.3l.1-.4l0 1l.1-.8l.1 1.5l0 .1l.1-1.8l0 2.4l.1-3.2l.1 1.4l0 1.6l.1-.7l.1-.3l0-.7l.1-.6l0 .7l.1 1.4l.1-5l0 1.2l.1 1.7l0-1.8l.1 1.3l.1 1.3l0-.7l.1-5.6l.1 3.6l0-.1l.1 3.1l0-2.2l.1-3.6l.1 3.3l0-.7l.1-.4l.1 1.4l0-2.1l.1 3l0-.6l.1 2.4l.1-7.1l0 5.1l.1 .4l0-2.8l.1 4.1l.1-1l0 1.7l.1-1.8l.1 .9l0-2l.1 1.4l0 1.1l.1-.7l.1-.4l0 .9l.1-3.2l0 .6l.1 1.1l.1 2.9l0-3.7l.1 3.9l.1-3.1l0 .1l.1 1.5l0 .6l.1-.3l.1-6l0 5l.1-.1l0-4l.1 2.7l.1-3.1l0 6.6l.1-.3l.1-9.5l0 7.3l.1 .5l0-1l.1-1.8l.1 4.7l0-3.1l.1 .6l0-1.5l.1 1.1l.1 1.5l0 .7l.1 3.4l.1-7.4l0 5.3l.1-2.3l0-4.4l.1 4.5l.1-2.3l0 1.8l.1-1.9l0 1.4l.1 1.2l.1-4l0 3.8l.1 1.9l.1-2.1l0-1.9l.1 3.6l0-4.1l.1 0l.1-2.9l0 5.9l.1-2.8l0 5.1l.1-2.7l.1-1.2l0-.6l.1 1l.1 .1l0 1.1l.1-.4l0-1.6l.1-.5l.1-.2l0-.8l.1-.4l.1 6.4l0-2.7l.1-.8l0 1l.1-3.6l.1 .7l0 1.8l.1-.5l0-2.4l.1 3.4l.1-.1l0-2.6l.1 1l.1-2.1l0 2.3l.1-.8l0 2.7l.1 .9l.1-2l0 5.7l.1-6.6l0-1.2l.1 1.9l.1 .6l0-2.8l.1 2.5l.1-2.2l0-2.6l.1 3.1l0-.4l.1 .9l.1 .5l0 0l.1 .4l0-2.2l.1 8.2l.1-5.3l0-1.9l.1 3.2l.1-1.6l0 1.2l.1-2.4l0-.9l.1-1.2l.1 2l0 3.6l.1-3.1l0-.7l.1-1.8l.1 7.6l0-5.3l.1 4.7l.1-5.5l0 .6l.1-.1l0-.8l.1 1l.1 2.2l0-2.1l.1-1.8l0 2.9l.1-.4l.1 2.7l0-5.1l.1 3.5l.1 .5l0-.6l.1 .9l0-1.3l.1-3.3l.1 1.1l0-1.4l.1-2.4l0 7.4l.1-3l.1-2.1l0-1.7l.1 10l.1-2.1l0-4l.1 1.7l0 1.4l.1-2.9l.1 2.4l0 3.2l.1-4.8l0-.5l.1-.9l.1-.6l0 1.6l.1 .9l.1 .9l0 2.1l.1-2.6l0-3.1l.1 .8l.1-3l0 4.7l.1 3.5l.1-5.6l0-.4l.1 4.7l0 .9l.1-3.8l.1-1.1l0 3.9l.1-1.7l0 .9l.1 .9l.1 .3l0-3.1l.1 1.1l.1 .6l0 4.1l.1-9.3l0 5.8l.1-1.7l.1 2.1l0-3.2l.1 4l0-3.4l.1 .6l.1-2.4l0 4.3l.1-.9l.1-.9l0-5l.1 7.6l0-3.7l.1 2l.1-2.1l0-.7l.1 1.1l0-.7l.1 .4l.1 1.8l0-.7l.1 3l.1-2.7l0 .8l.1-1.1l0-2.1l.1 .8l.1-.2l0-1.4l.1 7.5l0-6.7l.1 1.7l.1 .1l0 2.6l.1-4l.1-1.2l0 .2l.1 2.4l0-1.6l.1-.6l.1-1.9l0-.6l.1 4.2l0 .1l.1-.1l.1-.2l0 1.6l.1-2.7l.1 3.1l0 .2l.1-2.4l0 1.9l.1-.7l.1 3.9l0-6.1l.1 1.7l0 .3l.1-1.3l.1 .6l0 1.9l.1-5.8l.1 5.3l0-3.1l.1-1.8l0 5.2l.1-1.5l.1 2l0-4l.1 2.9l.1 1.7l0-5.2l.1 .9l0 3.8l.1-4.4l.1 2.1l0-5.4l.1 2.2l0 4.8l.1-.6l.1 1.3l0-2.2l.1 .2l.1-2.6l0 2.5l.1 3.4l0-1.4l.1-4.8l.1 .6l0 2.8l.1-.1l0 .1l.1-.4l.1 3.6l0-5.5l.1 3.3l.1-1.7l0 5.7l.1-5.9l0-2.3l.1 7.6l.1-8l0 2.2l.1 2.6l0 1.8l.1-5.9l.1 2l0-.7l.1 1.8l.1 1.1l0-3.5l.1 3.9l0-4l.1 8l.1-4.1l0 1.1l.1-5.9l0 6.6l.1-1.3l.1-3.9l0 .9l.1-4.2l.1 .8l0 2.6l.1-.2l0 5.4l.1-2l.1-1.2l0-.3l.1 2.6l0-1l.1 1.1l.1-5.4l0 1.4l.1 2.1l.1-.6l0-1.2l.1 2.1l0-.9l.1 5.7l.1-7.7l0-.6l.1 1.2l0-.2l.1 .2l.1-3.5l0 3.9l.1 3.3l.1-.6l0-3.8l.1-.8l0 .7l.1-.2l.1 1.4l0 3.6l.1-1.7l.1 2.4l0-3l.1 2l0-3.1l.1 .6l.1 3.8l0-5.7l.1-.1l0 4.6l.1-3.3l.1-1.2l0 2.2l.1-2.5l.1 1.4l0-1.9l.1 1.9l0 .8l.1-1.5l.1-.5l0 1.1l.1 1.5l0 .7l.1-.9l.1 .5l0-1.7l.1 .1l.1 .5l0-.1l.1-.4l0-3l.1 .8l.1 3.8l0-2.8l.1 2.3l0-.5l.1 .3l.1 1.8l0 .6l.1 2.4l.1-5.8l0-2.1l.1 4.5l0-3l.1 1.9l.1-1.4l0 2.3l.1-1.2l0-.3l.1 4.9l.1-5.6l0 1l.1 4.8l.1-6.7l0 1.4l.1-.5l0-.8l.1 2.2l.1 1.4l0-1.4l.1 0l0-5.7l.1 .8l.1 5l0-.1l.1-1.6l.1-.5l0 2.7l.1 .6l0-6.3l.1 1.9l.1 8l0-1.9l.1-2l0-2.3l.1-.7l.1 1.9l0 2.8l.1-4l.1-.8l0 1.3l.1 1.1l0-2.4l.1 1.4l.1 2.3l0-2.6l.1 3l0-4.9l.1 1.1l.1 3.2l0-2.7l.1-2.2l.1 7.3l0-4.3l.1-3.9l0 7l.1-3l.1 2.7l0-3l.1 5.1l.1-1.7l0-2.3l.1-1.5l0-.5l.1-.1l.1-1.6l0 1l.1-.1l0 3.7l.1-1.5l.1-7.6l0 2l.1 3.2l.1 .2l0-.6l.1 3.1l0-5.2l.1 5.1l.1-.6l0-5l.1 9.3l0-5.3l.1 4.6l.1-2.4l0-1.2l.1 .6l.1-1.2l0 2.1l.1-1.5l0 2.4l.1-1.8l.1 2.2l0-4.5l.1 4.3l0-4.3l.1 2.4l.1-.2l0-3.3l.1 2.3l.1 4.5l0-5.3l.1 7.5l0-7.4l.1 1.9l.1 2.2l0-3.3l.1 .9l0-5.1l.1 5.4l.1-8.3l0 4.2l.1 4.4l.1 .5l0-4.7l.1 3.2l0-.7l.1 1l.1 2.1l0-1.9l.1 1.3l0 1.3l.1-2.8l.1-4.6l0 .4l.1 3.7l.1-.4l0-.8l.1-1.9l0 2.3l.1 1.7l.1-.1l0-3.4l.1-3.3l0 7.2l.1 3.1l.1-6.3l0 2l.1-.5l.1-2.5l0 2.6l.1 3.1l0 1.5l.1-4.3l.1 2.5l0-3.7l.1 3.9l.1-2l0 2.5l.1-2.5l0 .2l.1-2.3l.1-1.7l0 3.4l.1 1.5l0-6.3l.1 3.6l.1-.6l0 0l.1-1.9l.1-.5l0 2.3l.1-.2l0 5l.1-2l.1-1.1l0-.4l.1 .2l0-.7l.1 .6l.1 1l0 5.3l.1-9.4l.1 1.9l0 3.2l.1-3l0 .2l.1 .7l.1 4.3l0-1.4l.1-1.4l0-4.9l.1 5.5l.1-1.1l0 1.7l.1-1.4l.1-1.9l0 5.4l.1 1.7l0-7.8l.1 1.4l.1 1.4l0-3.5l.1 0l0 6.9l.1-4.3l.1-2.9l0 4l.1-.8l.1-2.9l0 2.8l.1 4l0-3.1l.1 1.4l.1-4.2l0 5.1l.1-6.1l0 6l.1-3.8l.1 3.4l0-2.6l.1-3l.1-.2l0-.4l.1 3.1l0-.5l.1-.2l.1-.9l0 2.3l.1-3.4l0 1.8l.1-3.6l.1 3.2l0-.4l.1 4.3l.1-1.9l0 2l.1-2.3l0-.2l.1-2.3l.1 4.7l0-10.1l.1 7.6l.1-3.1l0 .5l.1 7.9l0-5l.1-3.9l.1 8.7l0-7.1l.1 3.7l0-1l.1-1.5l.1 4.7l0-4.7l.1 1.9l.1 .3l0-3.3l.1-6.3l0 7.1l.1-.5l.1 1.4l0 2.7l.1-3.4l0-2.8l.1 3l.1-3l0 3.9l.1-6.2l.1 9.4l0-5.9l.1 1l0 .6l.1 3.1l.1 0l0-2l.1-.7l0 4.9l.1-2.3l.1-3.7l0-1l.1 3.6l.1 1.4l0-1.1l.1-7.1l0 4.4l.1 1.2l.1-2.4l0-2.8l.1 2.5l0 5.8l.1-3l.1 .7l0-.1l.1 1.9l.1-1.8l0 1.5l.1-3.2l0 .7l.1 3.3l.1 .6l0-2.7l.1-2.6l0 .4l.1 1.3l.1 7.2l0-6.3l.1 .6l.1-.9l0 1.9l.1-1.7l0 .5l.1-7.6l.1 4.5l0 2l.1-.3l0 .2l.1-.7l.1 1.3l0-.8l.1-2.4l.1 .4l0 1.2l.1-2.3l0 2.5l.1 2.7l.1 1.7l0-2.3l.1-1.4l0-1.1l.1-1.5l.1 4.7l0-.5l.1-3.5l.1-.9l0 3.7l.1-1.8l0-2.4l.1 2.4l.1 .8l0 4.6l.1-7.7l.1 1.6l0 1.1l.1 1.4l0 1.7l.1-2.6l.1 .1l0-2.8l.1 5.2l0-5.9l.1 3.1l.1-2.6l0 4.9l.1-3l.1-1.9l0 2.3l.1 3.7l0-2.5l.1-2l.1 4.3l0 .2l.1-3.8l0 2.6l.1-3.6l.1 4.1l0 1.5l.1-2.3l.1-5.1l0 5.2l.1-1.9l0-.5l.1 2.6l.1-4.5l0 2l.1-.6l0 4.8l.1 .1l.1 2.3l0-5.8l.1 .1l.1-2.1l0-1.7l.1 3.9l0 0l.1-1.6l.1-2.4l0 5.3l.1-3.3l0 2l.1 .2l.1-2.6l0 3.6l.1 .6l.1-3.9l0 1.6l.1 1l0-.8l.1-1.4l.1 1.9l0-2.5l.1 .8l0-2.4l.1 .5l.1 .9l0 2.4l.1-.8l.1 1.6l0-12.1l.1 11.3l0-1.7l.1-1.8l.1 6.1l0-1.3l.1-.9l0 1.3l.1 2.7l.1-3.7l0-4.1l.1 1.3l.1 1.5l0 0l.1 3.8l0-5.3l.1 .6l.1 3.4l0-3.1l.1 1.1l.1 .8l0 2.6l.1-2.3l0 .6l.1-3.1l.1 .2l0 .1l.1 1.1l0 .5l.1-5.5l.1 8.8l0-6.9l.1 1.9l.1 .6l0 1.3l.1-.6l0 2.1l.1 .5l.1-2.6l0 3.2l.1-5.6l0-.6l.1 10.2l.1-4.2l0-4.1l.1 .1l.1 .2l0-.7l.1-.7l0-.3l.1-4.8l.1 6.7l0-1.8l.1 5.5l0-3.3l.1 2.4l.1-5.8l0-2.1l.1 4l.1 4.1l0-2.7l.1-.3l0-.4l.1-2l.1 .3l0 8.1l.1-9l0 4.2l.1 .1l.1-4.4l0 3.8l.1 2.4l.1-.1l0-3.1l.1-1.9l0-1.3l.1 3.8l.1 .6l0-7.2l.1 7.2l0-4.3l.1 2.7l.1 0l0 1.1l.1-1.2l.1 1.7l0 .5l.1-1.2l0 1.1l.1-2.5l.1 .9l0 .8l.1-.2l0 .1l.1-4.4l.1 3.9l0 1.3l.1-.7l.1-2.1l0 1.9l.1-.1l0 .2l.1-.9l.1-.5l0-.8l.1 5.3l0-1.2l.1 3.5l.1-7.7l0-.7l.1-.4l.1 2.6l0-2.3l.1 2.7l0 .1l.1 3.2l.1-1.7l0-.4l.1-3.4l.1-1.6l0 4.7l.1-1.9l0 .3l.1 2.3l.1 2.1l0-2.1l.1 1.5l0-2.5l.1-.4l.1 .1l0 0l.1-1.5l.1 3.2l0-4.1l.1 5.7l0-3.9l.1-.7l.1 2.6l0 1.8l.1-4.9l0 2.9l.1-3.3l.1 .1l0 1.7l.1 0l.1-2.2l0 .8l.1 3.5l0-2.5l.1-.9l.1 .8l0 .1l.1 .7l0-.1l.1 1.9l.1 1.1l0-7.4l.1 5.6l.1-1.9l0 3.8l.1-3.7l0 2.2l.1-8.4l.1 8.9l0-.2l.1-4.2l0-.4l.1 7.2l.1-5.3l0-1.4l.1 4.7l.1-4.2l0 2.7l.1 1l0-1.4l.1 .2l.1 2.1l0-8.1l.1 6l0 .6l.1-3.5l.1 2l0-3.1l.1 3.6l.1-1.4l0 .6l.1-.2l0 .8l.1-.2l.1-3.9l0 5.2l.1-.3l0-.5l.1-2.8l.1 1.2l0-1.2l.1 7.2l.1-5.7l0 1l.1 .2l0-1l.1 4.8l.1-5l0 .3l.1 3.5l.1-2.8l0-3.9l.1 4.3l0-2.1l.1 1.8l.1 2.6l0-1.1l.1-1.1l0-5.8l.1 3.1l.1 3.4l0-3.8l.1 2.5l.1 1.2l0-2.5l.1 3l0 1.5l.1-6.4l.1 9.8l0-8.1l.1 4.6l0-3.4l.1 .4l.1 .6l0 3.8l.1-4.4l.1-.3l0 1.9l.1-1.9l0-2.3l.1 3.8l.1-2.2l0 3.1l.1-3.4l0-.5l.1-4.1l.1 3.5l0 1l.1-2.1l.1 5.3l0-4.6l.1 3.6l0 1.1l.1-4.7l.1 1.9l0-2.5l.1 6.2l0-3.8l.1 1.7l.1-.5l0 3.6l.1-6.3l.1 1.6l0 2.6l.1 .8l0-1l.1-5l.1 3.3l0 .5l.1-1.8l0 1l.1-.4l.1-1.2l0 .9l.1-1.2l.1 4.6l0-2.8l.1 .9l0-1l.1 .3l.1 1.3l0-.6l.1-2.8l0 3.3l.1 1.5l.1-4.1l0-.8l.1 2.7l.1-.8l0 2.1l.1-1.4l0-2.9l.1 .7l.1 1.4l0 .9l.1 3l.1-4.3l0-.3l.1-1.3l0-2.1l.1 3.6l.1-1.3l0 4.6l.1-5.1l0 .7l.1-1.1l.1 1.5l0 .5l.1-2.2l.1 4.7l0-2.9l.1-2.6l0 5.7l.1 .8l.1-3.4l0 .6l.1-1l0-.1l.1 3.1l.1-2.4l0-1.8l.1 3.3l.1-.2l0 1.9l.1-4.3l0-2.5l.1 7.3l.1-4.7l0-.3l.1 3.2l0-.4l.1 1.5l.1-.6l0-2.1l.1-1l.1 1.1l0-1.6l.1 1.4l0 3l.1-5.7l.1 .6l0 4.1l.1-5.4l0 2.9l.1 .7l.1-3.9l0 9.6l.1-1.9l.1-5.1l0 2.1l.1 1.5l0-5.3l.1 2.2l.1 3.9l0-1.4l.1-3.3l0-2l.1 8.2l.1-4.9l0 1.4l.1 3l.1-3.5l0 3.2l.1-2.4l0-4.7l.1 2.4l.1-.5l0-.6l.1 1.5l0-1.4l.1 4.7l.1-1.8l0-2.6l.1 3.4l.1-.6l0-3.6l.1-.7l0 4.7l.1 .4l.1-3l0 .7l.1 2l0-2.8l.1 .1l.1 1.1l0-6.3l.1 3.5l.1 1.2l0-.5l.1-4.2l0 4l.1 4l.1-2.3l0 .6l.1 1.4l.1-1.8l0 0l.1 .7l0 .9l.1-2.9l.1 5.3l0-5.3l.1 1.8l0-.6l.1 5.8l.1-8.8l0 7.4l.1-1.9l.1-3.3l0 3.6l.1-1.3l0 4l.1-3.9l.1-1.4l0-1.1l.1 2.2l0-1.2l.1-.4l.1 2.4l0 .2l.1-6l.1 7.4l0-5.8l.1 2.6l0-3.1l.1 5.5l.1-3.4l0 .4l.1 1.2l0-1.2l.1 2.4l.1-1.5l0 .7l.1-2.5l.1 1.8l0 2.9l.1-2.3l0-.6l.1 1.8l.1-4.9l0 2l.1-2.3l0 4.9l.1-.8l.1-3.1l0 7.5l.1-6.1l.1 .6l0 1.3l.1-1.5l0 2.8l.1-2.9l.1 3.2l0 .1l.1-5.8l0 4.6l.1 3.1l.1-6.8l0 3.8l.1 6.1l.1-7.7l0-2.1l.1 1.2l0-3l.1 4.1l.1-1.6l0 3.5l.1-2.5l0-3l.1 2.2l.1 .8l0 4.7l.1-3.6l.1 2.1l0-4.6l.1 3.3l0-2.4l.1 4.5l.1-7.8l0 6.7l.1-2.9l.1-5.5l0 5.3l.1 2.4l0-3.2l.1-.9l.1 .3l0 6.3l.1-4.9l0 5.2l.1-8.9l.1 4.1l0 1.1l.1-2.5l.1 .4l0 3.7l.1-6.2l0 4.2l.1 3.3l.1-9.2l0 1.9l.1 .6l0 1.6l.1 4.5l.1-5.4l0-2l.1 2.3l.1-4.3l0 7.8l.1-3.9l0 .1l.1 5.4l.1 .3l0-2l.1-1.8l0-.8l.1 1.5l.1-.3l0 .1l.1-.5l.1-1.1l0 .2l.1 1.2l0-.7l.1 1.6l.1-2.8l0 2.9l.1-4.7l0 3.7l.1-1.2l.1 2.8l0-.9l.1-1.2l.1 .4l0 1.4l.1 1.2l0-2.7l.1-.2l.1-1.9l0-.6l.1 3.5l0 3.7l.1-4.1l.1 3.8l0-1.2l.1-5.2l.1 1l0 2.7l.1 0l0-1.2l.1 3.7l.1-5.8l0 2.7l.1-4.9l0 8l.1-6.1l.1 4.7l0-4.8l.1 4.5l.1-3.8l0 2.6l.1 .8l0-1.5l.1-1.4l.1 .2l0-2.6l.1 1.7l0 7.7l.1-5l.1 3.5l0-3.5l.1-2.3l.1 4.4l0-.4l.1-2.9l0 .9l.1-4.1l.1 2.8l0-.5l.1-2.7l.1 5l0-1.1l.1 2.2l0-2.8l.1-1.7l.1-.8l0 3.2l.1 2.5l0-.9l.1 1.4l.1-3.4l0-2.7l.1 8.3l.1-.5l0-7.9l.1 6.7l0-4.4l.1 3.6l.1-4.6l0 0l.1 1.4l0-1.5l.1 1.8l.1-1.2l0-2.8l.1 1.6l.1 4l0 .3l.1-1.3l0 0l.1-.7l.1 1.5l0-2.8l.1 1.4l0-.7l.1 .8l.1-1.4l0 5.8l.1-8l.1 2.8l0-.2l.1-.4l0-1.1l.1 .8l.1 1.1l0 1l.1 3.2l0-4.1l.1 1.2l.1 0l0-6.1l.1 9.5l.1-4.3l0-2.6l.1 .6l0-.6l.1 5.6l.1-.7l0-3.5l.1 2.4l0-4.9l.1 3.3l.1 .1l0-.5l.1 1.6l.1-.9l0 1.8l.1-1.5l0 1l.1-1.6l.1 3.7l0 .2l.1-4.4l0 .5l.1 2.7l.1-1.7l0 1.9l.1-6.9l.1 8l0-7.3l.1 5.7l0-2.8l.1 1.5l.1 .3l0-3l.1 .3l.1 2.5l0 1.4l.1-6.7l0 1.5l.1 2.8l.1 1l0-1.3l.1 .4l0-2.5l.1 4.9l.1-2.2l0 1.8l.1-4.7l.1-1.1l0 4.2l.1-1.4l0-1.9l.1 3.8l.1 1.4l0-4.4l.1 1.2l0 1.6l.1-3.7l.1 2.7l0 4.5l.1-4.8l.1 1l0-4.4l.1 4.3l0 .4l.1-1.5l.1 .5l0 3.7l.1-3.5l0 1.1l.1-3.9l.1-2.3l0 7.9l.1-.3l.1-.3l0-.4l.1 .1l0-1.7l.1-2.3l.1 5.3l0 .6l.1 .6l0-6.6l.1-2.7l.1 8.6l0 .3l.1-4l.1-2.1l0 .1l.1 1.9l0-1.1l.1 .8l.1 2l0-5.6l.1 4.2l0 2.6l.1-1.4l.1 4.6l0-5.7l.1-2.4l.1 5.2l0-5.3l.1-2.2l0 3.9l.1 3.4l.1-.7l0-1.1l.1 2.1l0 1.7l.1-4l.1-.2l0-1.7l.1 4l.1-10l0 4.9l.1 .4l0 4.3l.1-6.2l.1 4.7l0-4.9l.1 1.7l.1 4.4l0-1l.1-5.2l0 2l.1 2.6l.1-.8l0 0l.1 2.1l0-1.2l.1 1l.1-.5l0-2l.1 3.2l.1-3.8l0 1.4l.1-1.5l0-.3l.1-.8l.1 1.4l0-.2l.1 2l0-1.7l.1 3.3l.1-1.4l0-2.3l.1 1.8l.1-1.9l0 4.2l.1-5.5l0 4.4l.1-2.2l.1 1l0-2.2l.1 3l0 1.4l.1 2l.1-3.6l0 2l.1-3.9l.1-2l0 8.2l.1-2.1l0-3.6l.1-2.1l.1 2.1l0 0l.1-.4l0-.2l.1-6.9l.1 4.2l0 7.5l.1-3.1l.1-2.8l0 4.2l.1-2.3l0 1.1l.1 .7l.1-7.9l0 6.7l.1 2.8l0-1.5l.1-3.1l.1-8.4l0 7.5l.1-4.9l.1 4l0 10.7l.1-10.3l0 5l.1 2.1l.1-1.2l0-11.6l.1 13.7l0-3.9l.1-7.2l.1 2l0 9.6l.1-6.5l.1 1.7l0-1.3l.1-3.9l0 5.4l.1-1l.1-7.2l0 13.4l.1-6l0-3.4l.1 6.9l.1-2.5l0 2.8l.1-5.9l.1 3.1l0-5.7l.1-1l0 4l.1 1.7l.1-2.6l0 .9l.1 5.1l.1-9.3l0 3.5l.1-2.3l0 8.7l.1-9.1l.1-11.2l0 12.3l.1 8.4l0-6.1l.1 .4l.1-1.1l0 1.8l.1-2.9l.1 3.9l0-2.8l.1 3.7l0-3.2l.1-3.6l.1 6l0-4.7l.1 6.3l0-2.1l.1-.5l.1-6.1l0 8.2l.1-8l.1 10.9l0-5.4l.1-4.3l0 .9l.1 6.9l.1 .9l0-8.6l.1 8.7l0-7.4l.1 4.4l.1-2l0-16.3l.1 9.9l.1 2.9l0 9l.1-6.9l0 1.1l.1 .6l.1-5.8l0 12.4l.1-8.3l0 .2l.1 6.1l.1-12l0 12.2l.1-5.3l.1-.2l0 9.2l.1-3.1l0-1.8l.1-7.2l.1-.6l0 1.4l.1 1.5l0 9.9l.1-9.8l.1 2.9l0-6.8l.1-.8l.1-3.6l0 6.2l.1-.4l0 7.5l.1-4.5l.1 5.4l0-8.7l.1 11.7l0-7.2l.1 2.5l.1-1.4l0-3.8l.1 4.1l.1-3.2l0 5l.1-9.8l0 8.4l.1-6.8l.1-4.6l0 18.7l.1-5.9l.1-3.2l0-5.6l.1 6.7l0-3.5l.1 4.5l.1-5.2l0 7.2l.1-8.4l0 15.7l.1-4.5l.1-15.2l0 6.8l.1 4.3l.1-12.7l0 4.8l.1-.4l0 6.4l.1-4.3l.1 .5l0 8.9l.1-9.3l0 3.2l.1-6l.1-.1l0 8l.1-.2l.1-4l0-1.1l.1 4.4l0-1.3l.1-2.9l.1 .7l0-3l.1 3.8l0 4.6l.1 3.6l.1-10.6l0 4.7l.1 .1l.1-.2l0 5.2l.1-4.8l0 9.1l.1-9.1l.1 2.1l0-11.3l.1 5.7l0 2.8l.1-2.2l.1-1.7l0 6.1l.1-2.2l.1 .5l0-11.7l.1 9.6l0 8.8l.1-11.4l.1-7.4l0 14.6l.1-18.3l0 14.7l.1-4.4l.1 6.4l0-1.2l.1 4l.1-.7l0 4.5l.1-13.6l0 9.4l.1-6.2l.1 .1l0 4.1l.1-2.9l0 .6l.1 1.7l.1-2.3l0 0l.1 4.4l.1 1.2l0-1.9l.1-4l0-5.2l.1-.4l.1 4.8l0-2.6l.1 3.4l0-4.1l.1 4.1l.1-1.1l0 2.8l.1-1.2l.1-7.9l0 16.2l.1-8.3l0 2.5l.1-6.5l.1-9l0 14.3l.1 10.2l.1-14l0 0l.1 9.5l0-6l.1-.7l.1 9.4l0-12.5l.1 1l0 .8l.1 5.4l.1-1.4l0-.3l.1-4.7l.1 6.1l0-10.2l.1 4.6l0 10.6l.1-16.1l.1 6.4l0 2.9l.1-2.7l0 8.1l.1-8.4l.1 11l0-6l.1-9.9l.1 .4l0 6.7l.1 2.6l0-10.8l.1 7l.1-1.1l0-1.8l.1 7.2l0-7.9l.1 12.2l.1-15l0 12.7l.1-3.9l.1 .2l0-5.9l.1 0l0 1.6l.1-.8l.1-1.2l0 3.8l.1 7.7l0 1.7l.1-.1l.1-9.4l0 .7l.1-.3l.1-1.5l0 1.9l.1 3.2l0 2.1l.1 1.7l.1-13.1l0 1.3l.1 9.5l0-4.5l.1-4.4l.1-3.5l0 9.2l.1-3.2l.1-4.1l0 12.1" fill="none" stroke="#7e7e7e" stroke-width="0.27"/>
<line x1="34.7" y1="370" x2="653.5" y2="370" stroke="#999" stroke-width="0.9"/>
<line x1="34.7" y1="506.4" x2="653.5" y2="506.4" stroke="#555" stroke-width="0.9"/>
<line x1="34.7" y1="370" x2="34.7" y2="506.4" stroke="#555" stroke-width="0.9"/>
<line x1="653.5" y1="370" x2="653.5" y2="506.4" stroke="#777" stroke-width="0.9"/>
<line x1="32.2" y1="370" x2="34.7" y2="370" stroke="#555" stroke-width="0.9"/>
<text x="30.7" y="373" font-size="8.3" text-anchor="end" fill="#1a1a1a" stroke="#1a1a1a">-2.5</text>
<line x1="32.2" y1="397.28" x2="34.7" y2="397.28" stroke="#555" stroke-width="0.9"/>
<text x="30.7" y="400.28" font-size="8.3" text-anchor="end" fill="#1a1a1a" stroke="#1a1a1a">-2.0</text>
<line x1="32.2" y1="424.56" x2="34.7" y2="424.56" stroke="#555" stroke-width="0.9"/>
<text x="30.7" y="427.56" font-size="8.3" text-anchor="end" fill="#1a1a1a" stroke="#1a1a1a">-1.5</text>
<line x1="32.2" y1="451.84" x2="34.7" y2="451.84" stroke="#555" stroke-width="0.9"/>
<text x="30.7" y="454.84" font-size="8.3" text-anchor="end" fill="#1a1a1a" stroke="#1a1a1a">-1.0</text>
<line x1="32.2" y1="479.12" x2="34.7" y2="479.12" stroke="#555" stroke-width="0.9"/>
<text x="30.7" y="482.12" font-size="8.3" text-anchor="end" fill="#1a1a1a" stroke="#1a1a1a">-0.5</text>
<line x1="32.2" y1="506.4" x2="34.7" y2="506.4" stroke="#555" stroke-width="0.9"/>
<text x="30.7" y="509.4" font-size="8.3" text-anchor="end" fill="#1a1a1a" stroke="#1a1a1a">0.0</text>
<line x1="33.2" y1="383.64" x2="34.7" y2="383.64" stroke="#555" stroke-width="0.9"/>
<line x1="33.2" y1="410.92" x2="34.7" y2="410.92" stroke="#555" stroke-width="0.9"/>
<line x1="33.2" y1="438.2" x2="34.7" y2="438.2" stroke="#555" stroke-width="0.9"/>
<line x1="33.2" y1="465.48" x2="34.7" y2="465.48" stroke="#555" stroke-width="0.9"/>
<line x1="33.2" y1="492.76" x2="34.7" y2="492.76" stroke="#555" stroke-width="0.9"/>
<line x1="653.5" y1="506.4" x2="656" y2="506.4" stroke="#555" stroke-width="0.9"/>
<text x="659.3" y="509.4" font-size="8.3" text-anchor="start" fill="#1a1a1a" stroke="#1a1a1a">0</text>
<line x1="653.5" y1="480.35" x2="656" y2="480.35" stroke="#555" stroke-width="0.9"/>
<text x="659.3" y="483.35" font-size="8.3" text-anchor="start" fill="#1a1a1a" stroke="#1a1a1a">20</text>
<line x1="653.5" y1="454.3" x2="656" y2="454.3" stroke="#555" stroke-width="0.9"/>
<text x="659.3" y="457.3" font-size="8.3" text-anchor="start" fill="#1a1a1a" stroke="#1a1a1a">40</text>
<line x1="653.5" y1="428.25" x2="656" y2="428.25" stroke="#555" stroke-width="0.9"/>
<text x="659.3" y="431.25" font-size="8.3" text-anchor="start" fill="#1a1a1a" stroke="#1a1a1a">60</text>
<line x1="653.5" y1="402.2" x2="656" y2="402.2" stroke="#555" stroke-width="0.9"/>
<text x="659.3" y="405.2" font-size="8.3" text-anchor="start" fill="#1a1a1a" stroke="#1a1a1a">80</text>
<line x1="653.5" y1="376.15" x2="656" y2="376.15" stroke="#555" stroke-width="0.9"/>
<text x="659.3" y="379.15" font-size="8.3" text-anchor="start" fill="#1a1a1a" stroke="#1a1a1a">100</text>
<line x1="653.5" y1="493.38" x2="655" y2="493.38" stroke="#555" stroke-width="0.9"/>
<line x1="653.5" y1="467.32" x2="655" y2="467.32" stroke="#555" stroke-width="0.9"/>
<line x1="653.5" y1="441.27" x2="655" y2="441.27" stroke="#555" stroke-width="0.9"/>
<line x1="653.5" y1="415.22" x2="655" y2="415.22" stroke="#555" stroke-width="0.9"/>
<line x1="653.5" y1="389.17" x2="655" y2="389.17" stroke="#555" stroke-width="0.9"/>
<line x1="34.7" y1="506.4" x2="34.7" y2="508.9" stroke="#555" stroke-width="0.9"/>
<text x="34.7" y="518.6" font-size="8.3" text-anchor="middle" fill="#1a1a1a" stroke="#1a1a1a">0</text>
<line x1="184.88" y1="506.4" x2="184.88" y2="508.9" stroke="#555" stroke-width="0.9"/>
<text x="184.88" y="518.6" font-size="8.3" text-anchor="middle" fill="#1a1a1a" stroke="#1a1a1a">50</text>
<line x1="335.05" y1="506.4" x2="335.05" y2="508.9" stroke="#555" stroke-width="0.9"/>
<text x="335.05" y="518.6" font-size="8.3" text-anchor="middle" fill="#1a1a1a" stroke="#1a1a1a">100</text>
<line x1="485.22" y1="506.4" x2="485.22" y2="508.9" stroke="#555" stroke-width="0.9"/>
<text x="485.22" y="518.6" font-size="8.3" text-anchor="middle" fill="#1a1a1a" stroke="#1a1a1a">150</text>
<line x1="635.4" y1="506.4" x2="635.4" y2="508.9" stroke="#555" stroke-width="0.9"/>
<text x="635.4" y="518.6" font-size="8.3" text-anchor="middle" fill="#1a1a1a" stroke="#1a1a1a">200</text>
<line x1="109.79" y1="506.4" x2="109.79" y2="507.9" stroke="#555" stroke-width="0.9"/>
<line x1="259.96" y1="506.4" x2="259.96" y2="507.9" stroke="#555" stroke-width="0.9"/>
<line x1="410.14" y1="506.4" x2="410.14" y2="507.9" stroke="#555" stroke-width="0.9"/>
<line x1="560.31" y1="506.4" x2="560.31" y2="507.9" stroke="#555" stroke-width="0.9"/>
<rect x="40.8" y="385.1" width="4.2" height="4.2" fill="#fff" stroke="#f77b7b" stroke-width="0.85"/>
<rect x="43.6" y="384.6" width="4.2" height="4.2" fill="#fff" stroke="#f77b7b" stroke-width="0.85"/>
<rect x="47.6" y="385.1" width="4.2" height="4.2" fill="#fff" stroke="#f77b7b" stroke-width="0.85"/>
<path d="M40.1 415.2 L42.9 412.4 L45.7 415.2 L42.9 418Z" fill="#fff" stroke="#a8875f" stroke-width="0.85"/>
<path d="M42.9 415.2 L45.7 412.4 L48.5 415.2 L45.7 418Z" fill="#fff" stroke="#a8875f" stroke-width="0.85"/>
<path d="M46.9 415.2 L49.7 412.4 L52.5 415.2 L49.7 418Z" fill="#fff" stroke="#a8875f" stroke-width="0.85"/>
<circle cx="42.9" cy="495.6" r="2.35" fill="#fff" stroke="#74b896" stroke-width="0.85"/>
<circle cx="45.7" cy="496.2" r="2.35" fill="#fff" stroke="#74b896" stroke-width="0.85"/>
<circle cx="49.7" cy="495.6" r="2.35" fill="#fff" stroke="#74b896" stroke-width="0.85"/>
<rect x="68" y="385.1" width="4.2" height="4.2" fill="#fff" stroke="#f77b7b" stroke-width="0.85"/>
<rect x="71" y="384.6" width="4.2" height="4.2" fill="#fff" stroke="#f77b7b" stroke-width="0.85"/>
<rect x="74.3" y="385.1" width="4.2" height="4.2" fill="#fff" stroke="#f77b7b" stroke-width="0.85"/>
<path d="M67.3 415.2 L70.1 412.4 L72.9 415.2 L70.1 418Z" fill="#fff" stroke="#a8875f" stroke-width="0.85"/>
<path d="M70.3 415.2 L73.1 412.4 L75.9 415.2 L73.1 418Z" fill="#fff" stroke="#a8875f" stroke-width="0.85"/>
<path d="M73.6 415.2 L76.4 412.4 L79.2 415.2 L76.4 418Z" fill="#fff" stroke="#a8875f" stroke-width="0.85"/>
<circle cx="70.1" cy="495.6" r="2.35" fill="#fff" stroke="#74b896" stroke-width="0.85"/>
<circle cx="73.1" cy="496.2" r="2.35" fill="#fff" stroke="#74b896" stroke-width="0.85"/>
<circle cx="76.4" cy="495.6" r="2.35" fill="#fff" stroke="#74b896" stroke-width="0.85"/>
<rect x="154.4" y="385.1" width="4.2" height="4.2" fill="#fff" stroke="#f77b7b" stroke-width="0.85"/>
<rect x="157.9" y="384.6" width="4.2" height="4.2" fill="#fff" stroke="#f77b7b" stroke-width="0.85"/>
<rect x="161.7" y="385.1" width="4.2" height="4.2" fill="#fff" stroke="#f77b7b" stroke-width="0.85"/>
<path d="M153.7 415.2 L156.5 412.4 L159.3 415.2 L156.5 418Z" fill="#fff" stroke="#a8875f" stroke-width="0.85"/>
<path d="M157.2 415.2 L160 412.4 L162.8 415.2 L160 418Z" fill="#fff" stroke="#a8875f" stroke-width="0.85"/>
<path d="M161 415.2 L163.8 412.4 L166.6 415.2 L163.8 418Z" fill="#fff" stroke="#a8875f" stroke-width="0.85"/>
<circle cx="156.5" cy="495.6" r="2.35" fill="#fff" stroke="#74b896" stroke-width="0.85"/>
<circle cx="160" cy="496.2" r="2.35" fill="#fff" stroke="#74b896" stroke-width="0.85"/>
<circle cx="163.8" cy="495.6" r="2.35" fill="#fff" stroke="#74b896" stroke-width="0.85"/>
<rect x="227.5" y="385.1" width="4.2" height="4.2" fill="#fff" stroke="#f77b7b" stroke-width="0.85"/>
<rect x="230.9" y="384.6" width="4.2" height="4.2" fill="#fff" stroke="#f77b7b" stroke-width="0.85"/>
<rect x="234.2" y="385.1" width="4.2" height="4.2" fill="#fff" stroke="#f77b7b" stroke-width="0.85"/>
<rect x="237.5" y="384.6" width="4.2" height="4.2" fill="#fff" stroke="#f77b7b" stroke-width="0.85"/>
<path d="M226.8 415.2 L229.6 412.4 L232.4 415.2 L229.6 418Z" fill="#fff" stroke="#a8875f" stroke-width="0.85"/>
<path d="M230.2 415.2 L233 412.4 L235.8 415.2 L233 418Z" fill="#fff" stroke="#a8875f" stroke-width="0.85"/>
<path d="M233.5 415.2 L236.3 412.4 L239.1 415.2 L236.3 418Z" fill="#fff" stroke="#a8875f" stroke-width="0.85"/>
<path d="M236.8 415.2 L239.6 412.4 L242.4 415.2 L239.6 418Z" fill="#fff" stroke="#a8875f" stroke-width="0.85"/>
<circle cx="229.6" cy="495.6" r="2.35" fill="#fff" stroke="#74b896" stroke-width="0.85"/>
<circle cx="233" cy="496.2" r="2.35" fill="#fff" stroke="#74b896" stroke-width="0.85"/>
<circle cx="236.3" cy="495.6" r="2.35" fill="#fff" stroke="#74b896" stroke-width="0.85"/>
<circle cx="239.6" cy="496.2" r="2.35" fill="#fff" stroke="#74b896" stroke-width="0.85"/>
<rect x="288.1" y="385.1" width="4.2" height="4.2" fill="#fff" stroke="#f77b7b" stroke-width="0.85"/>
<rect x="291.3" y="384.6" width="4.2" height="4.2" fill="#fff" stroke="#f77b7b" stroke-width="0.85"/>
<rect x="294.7" y="385.1" width="4.2" height="4.2" fill="#fff" stroke="#f77b7b" stroke-width="0.85"/>
<rect x="297.5" y="384.6" width="4.2" height="4.2" fill="#fff" stroke="#f77b7b" stroke-width="0.85"/>
<path d="M287.4 415.2 L290.2 412.4 L293 415.2 L290.2 418Z" fill="#fff" stroke="#a8875f" stroke-width="0.85"/>
<path d="M290.6 415.2 L293.4 412.4 L296.2 415.2 L293.4 418Z" fill="#fff" stroke="#a8875f" stroke-width="0.85"/>
<path d="M294 415.2 L296.8 412.4 L299.6 415.2 L296.8 418Z" fill="#fff" stroke="#a8875f" stroke-width="0.85"/>
<path d="M296.8 415.2 L299.6 412.4 L302.4 415.2 L299.6 418Z" fill="#fff" stroke="#a8875f" stroke-width="0.85"/>
<circle cx="290.2" cy="495.6" r="2.35" fill="#fff" stroke="#74b896" stroke-width="0.85"/>
<circle cx="293.4" cy="496.2" r="2.35" fill="#fff" stroke="#74b896" stroke-width="0.85"/>
<circle cx="296.8" cy="495.6" r="2.35" fill="#fff" stroke="#74b896" stroke-width="0.85"/>
<circle cx="299.6" cy="496.2" r="2.35" fill="#fff" stroke="#74b896" stroke-width="0.85"/>
<rect x="392.8" y="385.1" width="4.2" height="4.2" fill="#fff" stroke="#f77b7b" stroke-width="0.85"/>
<rect x="396.2" y="384.6" width="4.2" height="4.2" fill="#fff" stroke="#f77b7b" stroke-width="0.85"/>
<rect x="399.5" y="385.1" width="4.2" height="4.2" fill="#fff" stroke="#f77b7b" stroke-width="0.85"/>
<rect x="403" y="384.6" width="4.2" height="4.2" fill="#fff" stroke="#f77b7b" stroke-width="0.85"/>
<path d="M392.1 415.2 L394.9 412.4 L397.7 415.2 L394.9 418Z" fill="#fff" stroke="#a8875f" stroke-width="0.85"/>
<path d="M395.5 415.2 L398.3 412.4 L401.1 415.2 L398.3 418Z" fill="#fff" stroke="#a8875f" stroke-width="0.85"/>
<path d="M398.8 415.2 L401.6 412.4 L404.4 415.2 L401.6 418Z" fill="#fff" stroke="#a8875f" stroke-width="0.85"/>
<path d="M402.3 415.2 L405.1 412.4 L407.9 415.2 L405.1 418Z" fill="#fff" stroke="#a8875f" stroke-width="0.85"/>
<circle cx="394.9" cy="495.6" r="2.35" fill="#fff" stroke="#74b896" stroke-width="0.85"/>
<circle cx="398.3" cy="496.2" r="2.35" fill="#fff" stroke="#74b896" stroke-width="0.85"/>
<circle cx="401.6" cy="495.6" r="2.35" fill="#fff" stroke="#74b896" stroke-width="0.85"/>
<circle cx="405.1" cy="496.2" r="2.35" fill="#fff" stroke="#74b896" stroke-width="0.85"/>
<rect x="486.1" y="385.1" width="4.2" height="4.2" fill="#fff" stroke="#f77b7b" stroke-width="0.85"/>
<rect x="489.5" y="384.6" width="4.2" height="4.2" fill="#fff" stroke="#f77b7b" stroke-width="0.85"/>
<rect x="492.9" y="385.1" width="4.2" height="4.2" fill="#fff" stroke="#f77b7b" stroke-width="0.85"/>
<rect x="496.4" y="384.6" width="4.2" height="4.2" fill="#fff" stroke="#f77b7b" stroke-width="0.85"/>
<path d="M485.4 415.2 L488.2 412.4 L491 415.2 L488.2 418Z" fill="#fff" stroke="#a8875f" stroke-width="0.85"/>
<path d="M488.8 415.2 L491.6 412.4 L494.4 415.2 L491.6 418Z" fill="#fff" stroke="#a8875f" stroke-width="0.85"/>
<path d="M492.2 415.2 L495 412.4 L497.8 415.2 L495 418Z" fill="#fff" stroke="#a8875f" stroke-width="0.85"/>
<path d="M495.7 415.2 L498.5 412.4 L501.3 415.2 L498.5 418Z" fill="#fff" stroke="#a8875f" stroke-width="0.85"/>
<circle cx="488.2" cy="495.6" r="2.35" fill="#fff" stroke="#74b896" stroke-width="0.85"/>
<circle cx="491.6" cy="496.2" r="2.35" fill="#fff" stroke="#74b896" stroke-width="0.85"/>
<circle cx="495" cy="495.6" r="2.35" fill="#fff" stroke="#74b896" stroke-width="0.85"/>
<circle cx="498.5" cy="496.2" r="2.35" fill="#fff" stroke="#74b896" stroke-width="0.85"/>
<rect x="576.8" y="385.1" width="4.2" height="4.2" fill="#fff" stroke="#f77b7b" stroke-width="0.85"/>
<rect x="580.2" y="384.6" width="4.2" height="4.2" fill="#fff" stroke="#f77b7b" stroke-width="0.85"/>
<rect x="583.5" y="385.1" width="4.2" height="4.2" fill="#fff" stroke="#f77b7b" stroke-width="0.85"/>
<path d="M576.1 415.2 L578.9 412.4 L581.7 415.2 L578.9 418Z" fill="#fff" stroke="#a8875f" stroke-width="0.85"/>
<path d="M579.5 415.2 L582.3 412.4 L585.1 415.2 L582.3 418Z" fill="#fff" stroke="#a8875f" stroke-width="0.85"/>
<path d="M582.8 415.2 L585.6 412.4 L588.4 415.2 L585.6 418Z" fill="#fff" stroke="#a8875f" stroke-width="0.85"/>
<circle cx="578.9" cy="495.6" r="2.35" fill="#fff" stroke="#74b896" stroke-width="0.85"/>
<circle cx="582.3" cy="496.2" r="2.35" fill="#fff" stroke="#74b896" stroke-width="0.85"/>
<circle cx="585.6" cy="495.6" r="2.35" fill="#fff" stroke="#74b896" stroke-width="0.85"/>
<rect x="634.1" y="385.1" width="4.2" height="4.2" fill="#fff" stroke="#f77b7b" stroke-width="0.85"/>
<rect x="637.5" y="384.6" width="4.2" height="4.2" fill="#fff" stroke="#f77b7b" stroke-width="0.85"/>
<rect x="640.9" y="385.1" width="4.2" height="4.2" fill="#fff" stroke="#f77b7b" stroke-width="0.85"/>
<rect x="644.1" y="384.6" width="4.2" height="4.2" fill="#fff" stroke="#f77b7b" stroke-width="0.85"/>
<path d="M633.4 415.2 L636.2 412.4 L639 415.2 L636.2 418Z" fill="#fff" stroke="#a8875f" stroke-width="0.85"/>
<path d="M636.8 415.2 L639.6 412.4 L642.4 415.2 L639.6 418Z" fill="#fff" stroke="#a8875f" stroke-width="0.85"/>
<path d="M640.2 415.2 L643 412.4 L645.8 415.2 L643 418Z" fill="#fff" stroke="#a8875f" stroke-width="0.85"/>
<path d="M643.4 415.2 L646.2 412.4 L649 415.2 L646.2 418Z" fill="#fff" stroke="#a8875f" stroke-width="0.85"/>
<circle cx="636.2" cy="495.6" r="2.35" fill="#fff" stroke="#74b896" stroke-width="0.85"/>
<circle cx="639.6" cy="496.2" r="2.35" fill="#fff" stroke="#74b896" stroke-width="0.85"/>
<circle cx="643" cy="495.6" r="2.35" fill="#fff" stroke="#74b896" stroke-width="0.85"/>
<circle cx="646.2" cy="496.2" r="2.35" fill="#fff" stroke="#74b896" stroke-width="0.85"/>
<path d="M62.2 441.5 L62.2 435.3 L38.8 435.3 M43 432.8 L38.6 435.3 L43 437.8" fill="none" stroke="#888" stroke-width="0.9"/>
<text x="71" y="438.8" font-size="8" fill="#888" stroke="#888"><tspan font-style="italic">j</tspan> = 2 A/cm<tspan font-size="5.6" dy="-2.8">2</tspan></text>
<path d="M584.3 384.5 L584.3 377 L606 377 M601.5 374.4 L606.2 377 L601.5 379.6" fill="none" stroke="#f77b7b" stroke-width="0.9"/>
<text x="578.2" y="380.7" font-size="8" text-anchor="end" fill="#f77b7b" stroke="#f77b7b">CO</text>
<path d="M583.9 410.8 L583.9 404.3 L606 404.3 M601.5 401.7 L606.2 404.3 L601.5 406.9" fill="none" stroke="#a8875f" stroke-width="0.9"/>
<text x="580" y="407" font-size="8" text-anchor="end" fill="#a8875f" stroke="#a8875f">SPCE</text>
<path d="M582.1 492.8 L582.1 486.1 L603.5 486.1 M599 483.5 L603.7 486.1 L599 488.7" fill="none" stroke="#74b896" stroke-width="0.9"/>
<text x="574.8" y="488.4" font-size="8" text-anchor="end" fill="#74b896" stroke="#74b896">H<tspan font-size="5.6" dy="2">2</tspan></text>
<text x="11.9" y="437.8" font-size="9.3" text-anchor="middle" fill="#1a1a1a" transform="rotate(-90 11.9 437.8)" stroke="#1a1a1a">Potential (V vs RHE)</text>
<text transform="translate(682.6 437.2) rotate(-90)" font-size="9.5" text-anchor="middle" fill="#1a1a1a" stroke="#1a1a1a">FE / CO<tspan font-size="6.3" dy="2.9">2</tspan><tspan dy="-2.9"> SPCE (%)</tspan></text>
<text x="344.7" y="531.8" font-size="9.2" text-anchor="middle" fill="#1a1a1a" stroke="#1a1a1a">Time (h)</text>
<text x="-0.4" y="367.8" font-size="16.5" fill="#000" stroke="none">g</text>
<text transform="translate(384.4 38.4) rotate(62.2)" font-size="8" text-anchor="middle" fill="#1a1a1a" stroke="#1a1a1a">HER dominant</text>
<text transform="translate(362.7 53.6) rotate(58.5)" font-size="8" text-anchor="middle" fill="#1a1a1a" stroke="#1a1a1a">CO<tspan font-size="5.6" dy="2">2</tspan><tspan dy="-2">RR dominant</tspan></text>
<text x="352.2" y="94.8" font-size="7.8" text-anchor="middle" fill="#1a1a1a" stroke="#1a1a1a">90</text>
<text x="380.4" y="48" font-size="7.9" text-anchor="middle" fill="#1a1a1a" stroke="#1a1a1a">50</text>
<text transform="translate(313.2 273.8) rotate(48.2)" font-size="7.6" text-anchor="middle" fill="#1a1a1a">theoretical limit in neutral media</text>
<text x="323.5" y="261.6" font-size="7.8" text-anchor="middle" fill="#1a1a1a" stroke="#1a1a1a">50</text>
<text x="391" y="200.9" font-size="7.8" text-anchor="middle" fill="#1a1a1a" stroke="#1a1a1a">50</text>
<text x="393.8" y="279.1" font-size="7.8" text-anchor="middle" fill="#1a1a1a" stroke="#1a1a1a">85</text>
</svg></body></html>
